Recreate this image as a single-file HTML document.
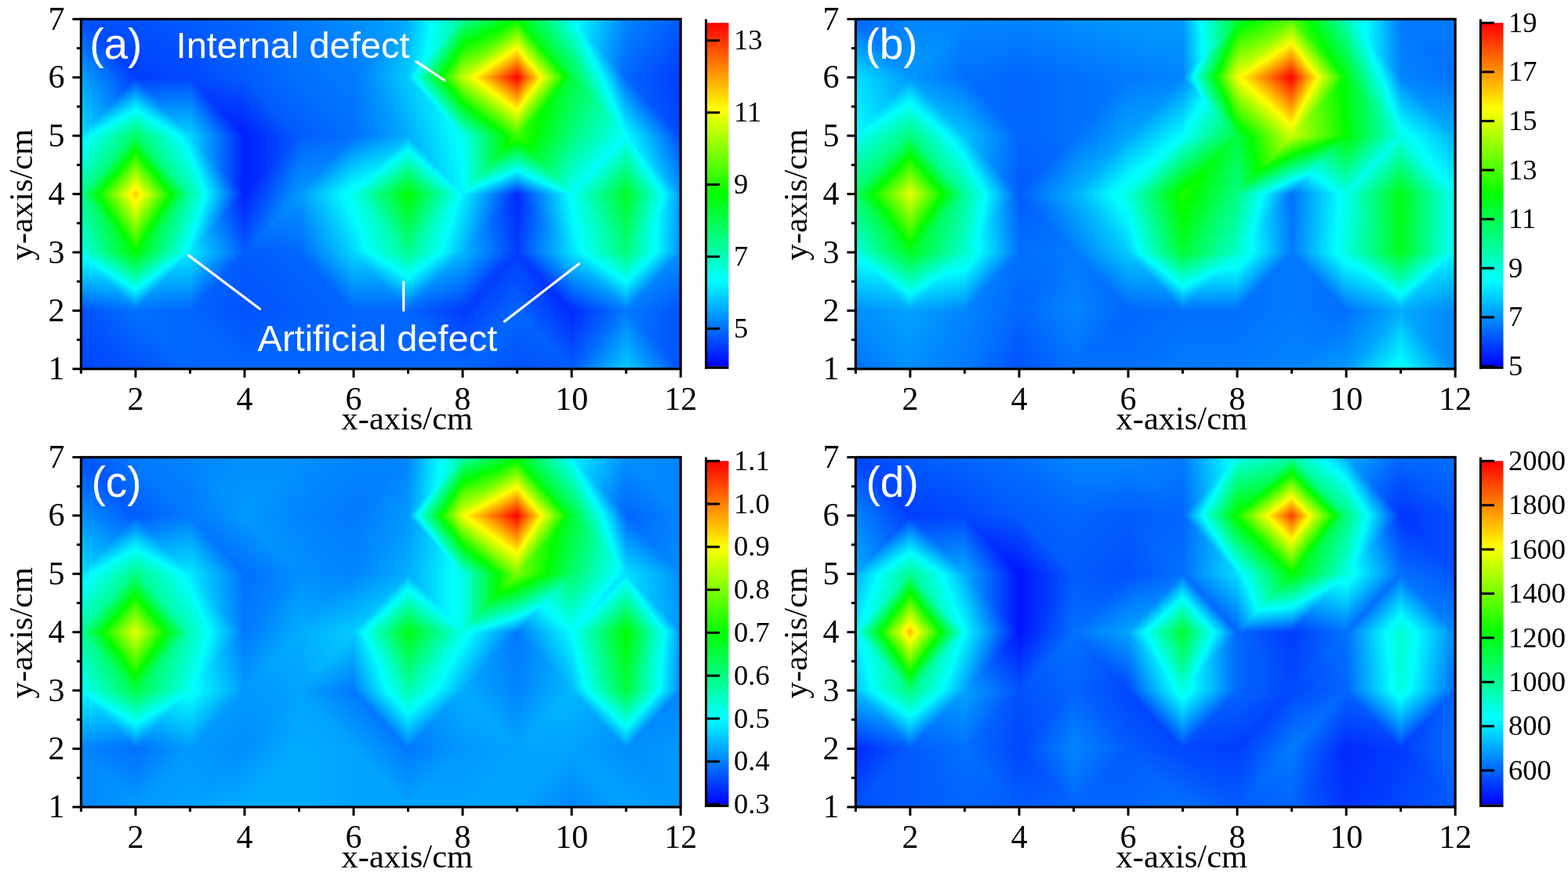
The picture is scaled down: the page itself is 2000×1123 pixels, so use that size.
<!DOCTYPE html><html><head><meta charset="utf-8"><style>html,body{margin:0;padding:0;background:#fff;}svg{display:block;}</style></head><body>
<svg width="2000" height="1123" viewBox="0 0 2000 1123">
<rect width="2000" height="1123" fill="#fff"/>
<defs><linearGradient id="g1" gradientUnits="userSpaceOnUse" x1="172.93" y1="98.80" x2="172.93" y2="24.40"><stop offset="0.0000" stop-color="#003dff"/><stop offset="1.0000" stop-color="#0052ff"/></linearGradient><linearGradient id="g2" gradientUnits="userSpaceOnUse" x1="172.93" y1="98.80" x2="128.33" y2="132.14"><stop offset="0.0000" stop-color="#003dff"/><stop offset="1.0000" stop-color="#00a3ff"/></linearGradient><linearGradient id="g3" gradientUnits="userSpaceOnUse" x1="242.45" y1="98.80" x2="273.40" y2="40.96"><stop offset="0.0000" stop-color="#0047ff"/><stop offset="1.0000" stop-color="#005cff"/></linearGradient><linearGradient id="g4" gradientUnits="userSpaceOnUse" x1="172.93" y1="98.80" x2="203.87" y2="40.96"><stop offset="0.0000" stop-color="#003dff"/><stop offset="1.0000" stop-color="#0052ff"/></linearGradient><linearGradient id="g5" gradientUnits="userSpaceOnUse" x1="242.45" y1="24.40" x2="279.57" y2="-10.28"><stop offset="0.0000" stop-color="#005cff"/><stop offset="1.0000" stop-color="#0066ff"/></linearGradient><linearGradient id="g6" gradientUnits="userSpaceOnUse" x1="242.45" y1="98.80" x2="279.57" y2="64.12"><stop offset="0.0000" stop-color="#0047ff"/><stop offset="1.0000" stop-color="#005cff"/></linearGradient><linearGradient id="g7" gradientUnits="userSpaceOnUse" x1="311.98" y1="24.40" x2="369.05" y2="-2.27"><stop offset="0.0000" stop-color="#0066ff"/><stop offset="1.0000" stop-color="#007aff"/></linearGradient><linearGradient id="g8" gradientUnits="userSpaceOnUse" x1="311.98" y1="98.80" x2="369.05" y2="72.13"><stop offset="0.0000" stop-color="#005cff"/><stop offset="1.0000" stop-color="#0070ff"/></linearGradient><linearGradient id="g9" gradientUnits="userSpaceOnUse" x1="381.51" y1="24.40" x2="418.62" y2="-10.28"><stop offset="0.0000" stop-color="#007aff"/><stop offset="1.0000" stop-color="#008fff"/></linearGradient><linearGradient id="g10" gradientUnits="userSpaceOnUse" x1="381.51" y1="98.80" x2="418.62" y2="64.12"><stop offset="0.0000" stop-color="#0070ff"/><stop offset="1.0000" stop-color="#007aff"/></linearGradient><linearGradient id="g11" gradientUnits="userSpaceOnUse" x1="451.04" y1="98.80" x2="534.51" y2="46.79"><stop offset="0.0000" stop-color="#007aff"/><stop offset="1.0000" stop-color="#00adff"/></linearGradient><linearGradient id="g12" gradientUnits="userSpaceOnUse" x1="451.04" y1="98.80" x2="512.96" y2="120.50"><stop offset="0.0000" stop-color="#007aff"/><stop offset="1.0000" stop-color="#00ccff"/></linearGradient><linearGradient id="g13" gradientUnits="userSpaceOnUse" x1="520.56" y1="24.40" x2="588.44" y2="34.97"><stop offset="0.0000" stop-color="#00adff"/><stop offset="0.4444" stop-color="#00ffff"/><stop offset="1.0000" stop-color="#00ff99"/></linearGradient><linearGradient id="g14" gradientUnits="userSpaceOnUse" x1="520.56" y1="98.80" x2="569.51" y2="130.54"><stop offset="0.0000" stop-color="#00ccff"/><stop offset="0.1020" stop-color="#00ffff"/><stop offset="0.6122" stop-color="#00ff00"/><stop offset="1.0000" stop-color="#c2ff00"/></linearGradient><linearGradient id="g15" gradientUnits="userSpaceOnUse" x1="590.09" y1="24.40" x2="618.81" y2="85.24"><stop offset="0.0000" stop-color="#00ff99"/><stop offset="0.4412" stop-color="#00ff00"/><stop offset="1.0000" stop-color="#c2ff00"/></linearGradient><linearGradient id="g16" gradientUnits="userSpaceOnUse" x1="659.62" y1="24.40" x2="693.89" y2="76.06"><stop offset="0.0000" stop-color="#00ff00"/><stop offset="0.5000" stop-color="#ffff00"/><stop offset="1.0000" stop-color="#ff0000"/></linearGradient><linearGradient id="g17" gradientUnits="userSpaceOnUse" x1="729.15" y1="24.40" x2="682.52" y2="57.08"><stop offset="0.0000" stop-color="#00fff5"/><stop offset="1.0000" stop-color="#00ff00"/></linearGradient><linearGradient id="g18" gradientUnits="userSpaceOnUse" x1="729.15" y1="98.80" x2="688.16" y2="133.00"><stop offset="0.0000" stop-color="#00ff3d"/><stop offset="0.1071" stop-color="#00ff00"/><stop offset="0.5536" stop-color="#ffff00"/><stop offset="1.0000" stop-color="#ff0000"/></linearGradient><linearGradient id="g19" gradientUnits="userSpaceOnUse" x1="798.67" y1="98.80" x2="716.90" y2="81.17"><stop offset="0.0000" stop-color="#0066ff"/><stop offset="0.9375" stop-color="#00ffff"/><stop offset="1.0000" stop-color="#00fff5"/></linearGradient><linearGradient id="g20" gradientUnits="userSpaceOnUse" x1="798.67" y1="98.80" x2="742.82" y2="126.43"><stop offset="0.0000" stop-color="#0066ff"/><stop offset="0.4412" stop-color="#00ffff"/><stop offset="1.0000" stop-color="#00ff3d"/></linearGradient><linearGradient id="g21" gradientUnits="userSpaceOnUse" x1="868.20" y1="24.40" x2="821.58" y2="-8.28"><stop offset="0.0000" stop-color="#005cff"/><stop offset="1.0000" stop-color="#0085ff"/></linearGradient><linearGradient id="g22" gradientUnits="userSpaceOnUse" x1="868.20" y1="98.80" x2="821.58" y2="66.12"><stop offset="0.0000" stop-color="#003dff"/><stop offset="1.0000" stop-color="#0066ff"/></linearGradient><linearGradient id="g23" gradientUnits="userSpaceOnUse" x1="172.93" y1="98.80" x2="88.29" y2="146.26"><stop offset="0.0000" stop-color="#003dff"/><stop offset="1.0000" stop-color="#00e0ff"/></linearGradient><linearGradient id="g24" gradientUnits="userSpaceOnUse" x1="172.93" y1="98.80" x2="204.84" y2="155.12"><stop offset="0.0000" stop-color="#003dff"/><stop offset="0.5588" stop-color="#00ffff"/><stop offset="1.0000" stop-color="#00ff66"/></linearGradient><linearGradient id="g25" gradientUnits="userSpaceOnUse" x1="172.93" y1="98.80" x2="178.98" y2="178.05"><stop offset="0.0000" stop-color="#003dff"/><stop offset="1.0000" stop-color="#00d6ff"/></linearGradient><linearGradient id="g26" gradientUnits="userSpaceOnUse" x1="172.93" y1="98.80" x2="140.16" y2="153.60"><stop offset="0.0000" stop-color="#003dff"/><stop offset="0.5588" stop-color="#00ffff"/><stop offset="1.0000" stop-color="#00ff66"/></linearGradient><linearGradient id="g27" gradientUnits="userSpaceOnUse" x1="311.98" y1="173.20" x2="335.52" y2="107.20"><stop offset="0.0000" stop-color="#001fff"/><stop offset="1.0000" stop-color="#005cff"/></linearGradient><linearGradient id="g28" gradientUnits="userSpaceOnUse" x1="311.98" y1="173.20" x2="266.49" y2="206.27"><stop offset="0.0000" stop-color="#001fff"/><stop offset="1.0000" stop-color="#00d6ff"/></linearGradient><linearGradient id="g29" gradientUnits="userSpaceOnUse" x1="311.98" y1="98.80" x2="349.10" y2="64.12"><stop offset="0.0000" stop-color="#005cff"/><stop offset="1.0000" stop-color="#0070ff"/></linearGradient><linearGradient id="g30" gradientUnits="userSpaceOnUse" x1="311.98" y1="173.20" x2="349.10" y2="138.52"><stop offset="0.0000" stop-color="#001fff"/><stop offset="1.0000" stop-color="#005cff"/></linearGradient><linearGradient id="g31" gradientUnits="userSpaceOnUse" x1="381.51" y1="98.80" x2="418.62" y2="64.12"><stop offset="0.0000" stop-color="#0070ff"/><stop offset="1.0000" stop-color="#007aff"/></linearGradient><linearGradient id="g32" gradientUnits="userSpaceOnUse" x1="381.51" y1="173.20" x2="418.62" y2="138.52"><stop offset="0.0000" stop-color="#005cff"/><stop offset="1.0000" stop-color="#0070ff"/></linearGradient><linearGradient id="g33" gradientUnits="userSpaceOnUse" x1="451.04" y1="98.80" x2="512.96" y2="77.10"><stop offset="0.0000" stop-color="#007aff"/><stop offset="1.0000" stop-color="#00ccff"/></linearGradient><linearGradient id="g34" gradientUnits="userSpaceOnUse" x1="451.04" y1="173.20" x2="518.92" y2="162.63"><stop offset="0.0000" stop-color="#0070ff"/><stop offset="1.0000" stop-color="#00adff"/></linearGradient><linearGradient id="g35" gradientUnits="userSpaceOnUse" x1="520.56" y1="98.80" x2="562.13" y2="64.71"><stop offset="0.0000" stop-color="#00ccff"/><stop offset="0.1020" stop-color="#00ffff"/><stop offset="0.6122" stop-color="#00ff00"/><stop offset="1.0000" stop-color="#c2ff00"/></linearGradient><linearGradient id="g36" gradientUnits="userSpaceOnUse" x1="520.56" y1="173.20" x2="583.94" y2="153.46"><stop offset="0.0000" stop-color="#00adff"/><stop offset="0.8889" stop-color="#00ffff"/><stop offset="1.0000" stop-color="#00fff5"/></linearGradient><linearGradient id="g37" gradientUnits="userSpaceOnUse" x1="659.62" y1="173.20" x2="695.38" y2="125.76"><stop offset="0.0000" stop-color="#3dff00"/><stop offset="0.4318" stop-color="#ffff00"/><stop offset="1.0000" stop-color="#ff0000"/></linearGradient><linearGradient id="g38" gradientUnits="userSpaceOnUse" x1="590.09" y1="173.20" x2="625.76" y2="125.43"><stop offset="0.0000" stop-color="#00fff5"/><stop offset="0.5581" stop-color="#00ff00"/><stop offset="1.0000" stop-color="#c2ff00"/></linearGradient><linearGradient id="g39" gradientUnits="userSpaceOnUse" x1="729.15" y1="98.80" x2="683.97" y2="65.63"><stop offset="0.0000" stop-color="#00ff3d"/><stop offset="0.1071" stop-color="#00ff00"/><stop offset="0.5536" stop-color="#ffff00"/><stop offset="1.0000" stop-color="#ff0000"/></linearGradient><linearGradient id="g40" gradientUnits="userSpaceOnUse" x1="729.15" y1="173.20" x2="665.77" y2="153.46"><stop offset="0.0000" stop-color="#00ff7a"/><stop offset="0.6667" stop-color="#00ff00"/><stop offset="1.0000" stop-color="#3dff00"/></linearGradient><linearGradient id="g41" gradientUnits="userSpaceOnUse" x1="798.67" y1="98.80" x2="739.25" y2="123.30"><stop offset="0.0000" stop-color="#0066ff"/><stop offset="0.4412" stop-color="#00ffff"/><stop offset="1.0000" stop-color="#00ff3d"/></linearGradient><linearGradient id="g42" gradientUnits="userSpaceOnUse" x1="798.67" y1="173.20" x2="712.99" y2="136.25"><stop offset="0.0000" stop-color="#00ffff"/><stop offset="1.0000" stop-color="#00ff3d"/></linearGradient><linearGradient id="g43" gradientUnits="userSpaceOnUse" x1="868.20" y1="98.80" x2="802.27" y2="114.20"><stop offset="0.0000" stop-color="#003dff"/><stop offset="1.0000" stop-color="#0066ff"/></linearGradient><linearGradient id="g44" gradientUnits="userSpaceOnUse" x1="868.20" y1="173.20" x2="824.92" y2="206.90"><stop offset="0.0000" stop-color="#0047ff"/><stop offset="1.0000" stop-color="#00ffff"/></linearGradient><linearGradient id="g45" gradientUnits="userSpaceOnUse" x1="103.40" y1="173.20" x2="148.89" y2="206.27"><stop offset="0.0000" stop-color="#00e0ff"/><stop offset="0.1667" stop-color="#00ffff"/><stop offset="1.0000" stop-color="#00ff66"/></linearGradient><linearGradient id="g46" gradientUnits="userSpaceOnUse" x1="103.40" y1="247.60" x2="143.78" y2="281.91"><stop offset="0.0000" stop-color="#00ff8f"/><stop offset="0.3182" stop-color="#00ff00"/><stop offset="0.8864" stop-color="#ffff00"/><stop offset="1.0000" stop-color="#ffcc00"/></linearGradient><linearGradient id="g47" gradientUnits="userSpaceOnUse" x1="242.45" y1="173.20" x2="193.10" y2="204.76"><stop offset="0.0000" stop-color="#00d6ff"/><stop offset="0.2105" stop-color="#00ffff"/><stop offset="1.0000" stop-color="#00ff66"/></linearGradient><linearGradient id="g48" gradientUnits="userSpaceOnUse" x1="242.45" y1="247.60" x2="200.58" y2="281.63"><stop offset="0.0000" stop-color="#00ffa3"/><stop offset="0.3478" stop-color="#00ff00"/><stop offset="0.8913" stop-color="#ffff00"/><stop offset="1.0000" stop-color="#ffcc00"/></linearGradient><linearGradient id="g49" gradientUnits="userSpaceOnUse" x1="311.98" y1="173.20" x2="242.45" y2="173.20"><stop offset="0.0000" stop-color="#001fff"/><stop offset="1.0000" stop-color="#00d6ff"/></linearGradient><linearGradient id="g50" gradientUnits="userSpaceOnUse" x1="311.98" y1="247.60" x2="251.71" y2="271.22"><stop offset="0.0000" stop-color="#001fff"/><stop offset="0.7097" stop-color="#00ffff"/><stop offset="1.0000" stop-color="#00ffa3"/></linearGradient><linearGradient id="g51" gradientUnits="userSpaceOnUse" x1="311.98" y1="173.20" x2="381.51" y2="173.20"><stop offset="0.0000" stop-color="#001fff"/><stop offset="1.0000" stop-color="#005cff"/></linearGradient><linearGradient id="g52" gradientUnits="userSpaceOnUse" x1="311.98" y1="247.60" x2="369.05" y2="274.27"><stop offset="0.0000" stop-color="#001fff"/><stop offset="1.0000" stop-color="#0099ff"/></linearGradient><linearGradient id="g53" gradientUnits="userSpaceOnUse" x1="381.51" y1="173.20" x2="405.05" y2="239.20"><stop offset="0.0000" stop-color="#005cff"/><stop offset="1.0000" stop-color="#0099ff"/></linearGradient><linearGradient id="g54" gradientUnits="userSpaceOnUse" x1="451.04" y1="173.20" x2="487.35" y2="218.45"><stop offset="0.0000" stop-color="#0070ff"/><stop offset="0.8750" stop-color="#00ffff"/><stop offset="1.0000" stop-color="#00ffeb"/></linearGradient><linearGradient id="g55" gradientUnits="userSpaceOnUse" x1="451.04" y1="173.20" x2="476.75" y2="237.28"><stop offset="0.0000" stop-color="#0070ff"/><stop offset="0.8750" stop-color="#00ffff"/><stop offset="1.0000" stop-color="#00ffeb"/></linearGradient><linearGradient id="g56" gradientUnits="userSpaceOnUse" x1="520.56" y1="173.20" x2="556.22" y2="221.01"><stop offset="0.0000" stop-color="#00adff"/><stop offset="0.2424" stop-color="#00ffff"/><stop offset="1.0000" stop-color="#00ff00"/></linearGradient><linearGradient id="g57" gradientUnits="userSpaceOnUse" x1="520.56" y1="173.20" x2="587.22" y2="159.36"><stop offset="0.0000" stop-color="#00adff"/><stop offset="0.8889" stop-color="#00ffff"/><stop offset="1.0000" stop-color="#00fff5"/></linearGradient><linearGradient id="g58" gradientUnits="userSpaceOnUse" x1="520.56" y1="173.20" x2="483.90" y2="216.69"><stop offset="0.0000" stop-color="#00adff"/><stop offset="0.2424" stop-color="#00ffff"/><stop offset="1.0000" stop-color="#00ff00"/></linearGradient><linearGradient id="g59" gradientUnits="userSpaceOnUse" x1="590.09" y1="247.60" x2="663.97" y2="243.00"><stop offset="0.0000" stop-color="#00f5ff"/><stop offset="0.0313" stop-color="#00ffff"/><stop offset="0.8125" stop-color="#00ff00"/><stop offset="1.0000" stop-color="#3dff00"/></linearGradient><linearGradient id="g60" gradientUnits="userSpaceOnUse" x1="659.62" y1="247.60" x2="633.43" y2="183.98"><stop offset="0.0000" stop-color="#0029ff"/><stop offset="0.4038" stop-color="#00ffff"/><stop offset="0.8846" stop-color="#00ff00"/><stop offset="1.0000" stop-color="#3dff00"/></linearGradient><linearGradient id="g61" gradientUnits="userSpaceOnUse" x1="729.15" y1="247.60" x2="645.67" y2="195.59"><stop offset="0.0000" stop-color="#00fff5"/><stop offset="0.8000" stop-color="#00ff00"/><stop offset="1.0000" stop-color="#3dff00"/></linearGradient><linearGradient id="g62" gradientUnits="userSpaceOnUse" x1="659.62" y1="247.60" x2="687.57" y2="185.86"><stop offset="0.0000" stop-color="#0029ff"/><stop offset="0.4038" stop-color="#00ffff"/><stop offset="0.8846" stop-color="#00ff00"/><stop offset="1.0000" stop-color="#3dff00"/></linearGradient><linearGradient id="g63" gradientUnits="userSpaceOnUse" x1="798.67" y1="173.20" x2="758.81" y2="138.81"><stop offset="0.0000" stop-color="#00ffff"/><stop offset="1.0000" stop-color="#00ff7a"/></linearGradient><linearGradient id="g64" gradientUnits="userSpaceOnUse" x1="798.67" y1="173.20" x2="835.87" y2="209.70"><stop offset="0.0000" stop-color="#00ffff"/><stop offset="1.0000" stop-color="#00ff29"/></linearGradient><linearGradient id="g65" gradientUnits="userSpaceOnUse" x1="868.20" y1="173.20" x2="808.90" y2="197.83"><stop offset="0.0000" stop-color="#0047ff"/><stop offset="1.0000" stop-color="#00ffff"/></linearGradient><linearGradient id="g66" gradientUnits="userSpaceOnUse" x1="868.20" y1="247.60" x2="818.56" y2="279.02"><stop offset="0.0000" stop-color="#0099ff"/><stop offset="0.3226" stop-color="#00ffff"/><stop offset="1.0000" stop-color="#00ff29"/></linearGradient><linearGradient id="g67" gradientUnits="userSpaceOnUse" x1="103.40" y1="247.60" x2="152.85" y2="216.09"><stop offset="0.0000" stop-color="#00ff8f"/><stop offset="0.3182" stop-color="#00ff00"/><stop offset="0.8864" stop-color="#ffff00"/><stop offset="1.0000" stop-color="#ffcc00"/></linearGradient><linearGradient id="g68" gradientUnits="userSpaceOnUse" x1="103.40" y1="322.00" x2="164.73" y2="299.57"><stop offset="0.0000" stop-color="#00ffeb"/><stop offset="1.0000" stop-color="#00ff00"/></linearGradient><linearGradient id="g69" gradientUnits="userSpaceOnUse" x1="242.45" y1="247.60" x2="191.76" y2="216.70"><stop offset="0.0000" stop-color="#00ffa3"/><stop offset="0.3478" stop-color="#00ff00"/><stop offset="0.8913" stop-color="#ffff00"/><stop offset="1.0000" stop-color="#ffcc00"/></linearGradient><linearGradient id="g70" gradientUnits="userSpaceOnUse" x1="242.45" y1="322.00" x2="181.73" y2="298.88"><stop offset="0.0000" stop-color="#00ebff"/><stop offset="0.0741" stop-color="#00ffff"/><stop offset="1.0000" stop-color="#00ff00"/></linearGradient><linearGradient id="g71" gradientUnits="userSpaceOnUse" x1="311.98" y1="247.60" x2="249.34" y2="226.83"><stop offset="0.0000" stop-color="#001fff"/><stop offset="0.7097" stop-color="#00ffff"/><stop offset="1.0000" stop-color="#00ffa3"/></linearGradient><linearGradient id="g72" gradientUnits="userSpaceOnUse" x1="311.98" y1="247.60" x2="226.39" y2="281.88"><stop offset="0.0000" stop-color="#001fff"/><stop offset="1.0000" stop-color="#00ebff"/></linearGradient><linearGradient id="g73" gradientUnits="userSpaceOnUse" x1="311.98" y1="247.60" x2="369.05" y2="274.27"><stop offset="0.0000" stop-color="#001fff"/><stop offset="1.0000" stop-color="#0099ff"/></linearGradient><linearGradient id="g74" gradientUnits="userSpaceOnUse" x1="311.98" y1="322.00" x2="330.25" y2="236.63"><stop offset="0.0000" stop-color="#005cff"/><stop offset="1.0000" stop-color="#0099ff"/></linearGradient><linearGradient id="g75" gradientUnits="userSpaceOnUse" x1="381.51" y1="247.60" x2="438.58" y2="220.93"><stop offset="0.0000" stop-color="#0099ff"/><stop offset="0.8333" stop-color="#00ffff"/><stop offset="1.0000" stop-color="#00ffeb"/></linearGradient><linearGradient id="g76" gradientUnits="userSpaceOnUse" x1="381.51" y1="322.00" x2="440.41" y2="296.98"><stop offset="0.0000" stop-color="#0066ff"/><stop offset="1.0000" stop-color="#00d6ff"/></linearGradient><linearGradient id="g77" gradientUnits="userSpaceOnUse" x1="451.04" y1="247.60" x2="503.57" y2="217.72"><stop offset="0.0000" stop-color="#00ffeb"/><stop offset="1.0000" stop-color="#00ff00"/></linearGradient><linearGradient id="g78" gradientUnits="userSpaceOnUse" x1="451.04" y1="322.00" x2="512.04" y2="299.20"><stop offset="0.0000" stop-color="#00d6ff"/><stop offset="0.2667" stop-color="#00ffff"/><stop offset="1.0000" stop-color="#00ff8f"/></linearGradient><linearGradient id="g79" gradientUnits="userSpaceOnUse" x1="590.09" y1="247.60" x2="534.61" y2="219.68"><stop offset="0.0000" stop-color="#00f5ff"/><stop offset="0.0385" stop-color="#00ffff"/><stop offset="1.0000" stop-color="#00ff00"/></linearGradient><linearGradient id="g80" gradientUnits="userSpaceOnUse" x1="590.09" y1="322.00" x2="526.71" y2="302.26"><stop offset="0.0000" stop-color="#00b8ff"/><stop offset="0.3889" stop-color="#00ffff"/><stop offset="1.0000" stop-color="#00ff8f"/></linearGradient><linearGradient id="g81" gradientUnits="userSpaceOnUse" x1="659.62" y1="247.60" x2="595.16" y2="229.53"><stop offset="0.0000" stop-color="#0029ff"/><stop offset="1.0000" stop-color="#00f5ff"/></linearGradient><linearGradient id="g82" gradientUnits="userSpaceOnUse" x1="659.62" y1="247.60" x2="580.42" y2="259.93"><stop offset="0.0000" stop-color="#0029ff"/><stop offset="1.0000" stop-color="#00b8ff"/></linearGradient><linearGradient id="g83" gradientUnits="userSpaceOnUse" x1="659.62" y1="247.60" x2="727.19" y2="236.12"><stop offset="0.0000" stop-color="#0029ff"/><stop offset="0.9545" stop-color="#00ffff"/><stop offset="1.0000" stop-color="#00fff5"/></linearGradient><linearGradient id="g84" gradientUnits="userSpaceOnUse" x1="659.62" y1="247.60" x2="736.78" y2="256.61"><stop offset="0.0000" stop-color="#0029ff"/><stop offset="1.0000" stop-color="#00e0ff"/></linearGradient><linearGradient id="g85" gradientUnits="userSpaceOnUse" x1="729.15" y1="247.60" x2="790.15" y2="224.80"><stop offset="0.0000" stop-color="#00fff5"/><stop offset="1.0000" stop-color="#00ff29"/></linearGradient><linearGradient id="g86" gradientUnits="userSpaceOnUse" x1="729.15" y1="322.00" x2="795.07" y2="306.60"><stop offset="0.0000" stop-color="#00e0ff"/><stop offset="0.1875" stop-color="#00ffff"/><stop offset="1.0000" stop-color="#00ff7a"/></linearGradient><linearGradient id="g87" gradientUnits="userSpaceOnUse" x1="868.20" y1="247.60" x2="802.49" y2="231.75"><stop offset="0.0000" stop-color="#0099ff"/><stop offset="0.3226" stop-color="#00ffff"/><stop offset="1.0000" stop-color="#00ff29"/></linearGradient><linearGradient id="g88" gradientUnits="userSpaceOnUse" x1="868.20" y1="322.00" x2="798.78" y2="319.30"><stop offset="0.0000" stop-color="#008fff"/><stop offset="0.4583" stop-color="#00ffff"/><stop offset="1.0000" stop-color="#00ff7a"/></linearGradient><linearGradient id="g89" gradientUnits="userSpaceOnUse" x1="172.93" y1="396.40" x2="206.51" y2="343.19"><stop offset="0.0000" stop-color="#0070ff"/><stop offset="0.3590" stop-color="#00ffff"/><stop offset="1.0000" stop-color="#00ff00"/></linearGradient><linearGradient id="g90" gradientUnits="userSpaceOnUse" x1="103.40" y1="396.40" x2="115.62" y2="324.06"><stop offset="0.0000" stop-color="#0052ff"/><stop offset="0.8947" stop-color="#00ffff"/><stop offset="1.0000" stop-color="#00ffeb"/></linearGradient><linearGradient id="g91" gradientUnits="userSpaceOnUse" x1="172.93" y1="396.40" x2="137.34" y2="348.36"><stop offset="0.0000" stop-color="#0070ff"/><stop offset="0.3590" stop-color="#00ffff"/><stop offset="1.0000" stop-color="#00ff00"/></linearGradient><linearGradient id="g92" gradientUnits="userSpaceOnUse" x1="242.45" y1="396.40" x2="236.37" y2="322.50"><stop offset="0.0000" stop-color="#0066ff"/><stop offset="1.0000" stop-color="#00ebff"/></linearGradient><linearGradient id="g93" gradientUnits="userSpaceOnUse" x1="311.98" y1="322.00" x2="272.32" y2="287.58"><stop offset="0.0000" stop-color="#005cff"/><stop offset="1.0000" stop-color="#00ebff"/></linearGradient><linearGradient id="g94" gradientUnits="userSpaceOnUse" x1="311.98" y1="396.40" x2="254.91" y2="369.73"><stop offset="0.0000" stop-color="#0052ff"/><stop offset="1.0000" stop-color="#0066ff"/></linearGradient><linearGradient id="g95" gradientUnits="userSpaceOnUse" x1="311.98" y1="322.00" x2="349.10" y2="287.32"><stop offset="0.0000" stop-color="#005cff"/><stop offset="1.0000" stop-color="#0066ff"/></linearGradient><linearGradient id="g96" gradientUnits="userSpaceOnUse" x1="311.98" y1="396.40" x2="349.10" y2="361.72"><stop offset="0.0000" stop-color="#0052ff"/><stop offset="1.0000" stop-color="#005cff"/></linearGradient><linearGradient id="g97" gradientUnits="userSpaceOnUse" x1="381.51" y1="322.00" x2="418.62" y2="287.32"><stop offset="0.0000" stop-color="#0066ff"/><stop offset="1.0000" stop-color="#00d6ff"/></linearGradient><linearGradient id="g98" gradientUnits="userSpaceOnUse" x1="381.51" y1="396.40" x2="418.62" y2="361.72"><stop offset="0.0000" stop-color="#005cff"/><stop offset="1.0000" stop-color="#0066ff"/></linearGradient><linearGradient id="g99" gradientUnits="userSpaceOnUse" x1="520.56" y1="396.40" x2="553.82" y2="342.53"><stop offset="0.0000" stop-color="#0066ff"/><stop offset="0.5769" stop-color="#00ffff"/><stop offset="1.0000" stop-color="#00ff8f"/></linearGradient><linearGradient id="g100" gradientUnits="userSpaceOnUse" x1="520.56" y1="396.40" x2="520.56" y2="322.00"><stop offset="0.0000" stop-color="#0066ff"/><stop offset="1.0000" stop-color="#00d6ff"/></linearGradient><linearGradient id="g101" gradientUnits="userSpaceOnUse" x1="520.56" y1="396.40" x2="484.98" y2="348.36"><stop offset="0.0000" stop-color="#0066ff"/><stop offset="0.5769" stop-color="#00ffff"/><stop offset="1.0000" stop-color="#00ff8f"/></linearGradient><linearGradient id="g102" gradientUnits="userSpaceOnUse" x1="590.09" y1="396.40" x2="566.55" y2="330.40"><stop offset="0.0000" stop-color="#003dff"/><stop offset="1.0000" stop-color="#00b8ff"/></linearGradient><linearGradient id="g103" gradientUnits="userSpaceOnUse" x1="659.62" y1="322.00" x2="622.50" y2="287.32"><stop offset="0.0000" stop-color="#003dff"/><stop offset="1.0000" stop-color="#00b8ff"/></linearGradient><linearGradient id="g104" gradientUnits="userSpaceOnUse" x1="659.62" y1="322.00" x2="696.73" y2="356.68"><stop offset="0.0000" stop-color="#003dff"/><stop offset="1.0000" stop-color="#0066ff"/></linearGradient><linearGradient id="g105" gradientUnits="userSpaceOnUse" x1="729.15" y1="396.40" x2="766.30" y2="357.34"><stop offset="0.0000" stop-color="#0029ff"/><stop offset="1.0000" stop-color="#00e0ff"/></linearGradient><linearGradient id="g106" gradientUnits="userSpaceOnUse" x1="729.15" y1="396.40" x2="679.06" y2="427.60"><stop offset="0.0000" stop-color="#0029ff"/><stop offset="1.0000" stop-color="#0066ff"/></linearGradient><linearGradient id="g107" gradientUnits="userSpaceOnUse" x1="798.67" y1="396.40" x2="832.85" y2="344.50"><stop offset="0.0000" stop-color="#007aff"/><stop offset="0.5000" stop-color="#00ffff"/><stop offset="1.0000" stop-color="#00ff7a"/></linearGradient><linearGradient id="g108" gradientUnits="userSpaceOnUse" x1="729.15" y1="396.40" x2="758.00" y2="335.72"><stop offset="0.0000" stop-color="#0029ff"/><stop offset="1.0000" stop-color="#00e0ff"/></linearGradient><linearGradient id="g109" gradientUnits="userSpaceOnUse" x1="798.67" y1="396.40" x2="761.48" y2="358.74"><stop offset="0.0000" stop-color="#007aff"/><stop offset="0.5000" stop-color="#00ffff"/><stop offset="1.0000" stop-color="#00ff7a"/></linearGradient><linearGradient id="g110" gradientUnits="userSpaceOnUse" x1="868.20" y1="396.40" x2="833.03" y2="347.09"><stop offset="0.0000" stop-color="#0052ff"/><stop offset="1.0000" stop-color="#008fff"/></linearGradient><linearGradient id="g111" gradientUnits="userSpaceOnUse" x1="103.40" y1="396.40" x2="140.51" y2="361.72"><stop offset="0.0000" stop-color="#0052ff"/><stop offset="1.0000" stop-color="#0070ff"/></linearGradient><linearGradient id="g112" gradientUnits="userSpaceOnUse" x1="103.40" y1="470.80" x2="140.51" y2="436.12"><stop offset="0.0000" stop-color="#0047ff"/><stop offset="1.0000" stop-color="#0052ff"/></linearGradient><linearGradient id="g113" gradientUnits="userSpaceOnUse" x1="242.45" y1="396.40" x2="172.93" y2="396.40"><stop offset="0.0000" stop-color="#0066ff"/><stop offset="1.0000" stop-color="#0070ff"/></linearGradient><linearGradient id="g114" gradientUnits="userSpaceOnUse" x1="172.93" y1="470.80" x2="208.10" y2="421.49"><stop offset="0.0000" stop-color="#0052ff"/><stop offset="1.0000" stop-color="#0070ff"/></linearGradient><linearGradient id="g115" gradientUnits="userSpaceOnUse" x1="311.98" y1="396.40" x2="274.87" y2="431.08"><stop offset="0.0000" stop-color="#0052ff"/><stop offset="1.0000" stop-color="#0066ff"/></linearGradient><linearGradient id="g116" gradientUnits="userSpaceOnUse" x1="311.98" y1="396.40" x2="342.93" y2="454.24"><stop offset="0.0000" stop-color="#0052ff"/><stop offset="1.0000" stop-color="#0066ff"/></linearGradient><linearGradient id="g117" gradientUnits="userSpaceOnUse" x1="381.51" y1="396.40" x2="381.51" y2="470.80"><stop offset="0.0000" stop-color="#005cff"/><stop offset="1.0000" stop-color="#0066ff"/></linearGradient><linearGradient id="g118" gradientUnits="userSpaceOnUse" x1="381.51" y1="396.40" x2="418.62" y2="431.08"><stop offset="0.0000" stop-color="#005cff"/><stop offset="1.0000" stop-color="#0066ff"/></linearGradient><linearGradient id="g119" gradientUnits="userSpaceOnUse" x1="590.09" y1="396.40" x2="552.98" y2="431.08"><stop offset="0.0000" stop-color="#003dff"/><stop offset="1.0000" stop-color="#0066ff"/></linearGradient><linearGradient id="g120" gradientUnits="userSpaceOnUse" x1="590.09" y1="396.40" x2="627.21" y2="431.08"><stop offset="0.0000" stop-color="#003dff"/><stop offset="1.0000" stop-color="#0066ff"/></linearGradient><linearGradient id="g121" gradientUnits="userSpaceOnUse" x1="659.62" y1="470.80" x2="622.50" y2="436.12"><stop offset="0.0000" stop-color="#0052ff"/><stop offset="1.0000" stop-color="#0066ff"/></linearGradient><linearGradient id="g122" gradientUnits="userSpaceOnUse" x1="729.15" y1="396.40" x2="685.87" y2="430.10"><stop offset="0.0000" stop-color="#0029ff"/><stop offset="1.0000" stop-color="#0066ff"/></linearGradient><linearGradient id="g123" gradientUnits="userSpaceOnUse" x1="659.62" y1="470.80" x2="690.57" y2="412.96"><stop offset="0.0000" stop-color="#0052ff"/><stop offset="1.0000" stop-color="#0066ff"/></linearGradient><linearGradient id="g124" gradientUnits="userSpaceOnUse" x1="729.15" y1="396.40" x2="780.99" y2="426.68"><stop offset="0.0000" stop-color="#0029ff"/><stop offset="1.0000" stop-color="#007aff"/></linearGradient><linearGradient id="g125" gradientUnits="userSpaceOnUse" x1="729.15" y1="470.80" x2="776.70" y2="503.12"><stop offset="0.0000" stop-color="#005cff"/><stop offset="1.0000" stop-color="#00ccff"/></linearGradient><linearGradient id="g126" gradientUnits="userSpaceOnUse" x1="868.20" y1="396.40" x2="798.67" y2="396.40"><stop offset="0.0000" stop-color="#0052ff"/><stop offset="1.0000" stop-color="#007aff"/></linearGradient><linearGradient id="g127" gradientUnits="userSpaceOnUse" x1="868.20" y1="470.80" x2="818.11" y2="502.00"><stop offset="0.0000" stop-color="#0052ff"/><stop offset="1.0000" stop-color="#00ccff"/></linearGradient><linearGradient id="g128" gradientUnits="userSpaceOnUse" x1="1091.40" y1="24.40" x2="1174.88" y2="76.41"><stop offset="0.0000" stop-color="#0066ff"/><stop offset="1.0000" stop-color="#0099ff"/></linearGradient><linearGradient id="g129" gradientUnits="userSpaceOnUse" x1="1091.40" y1="24.40" x2="1057.98" y2="77.94"><stop offset="0.0000" stop-color="#0066ff"/><stop offset="1.0000" stop-color="#00e0ff"/></linearGradient><linearGradient id="g130" gradientUnits="userSpaceOnUse" x1="1160.93" y1="24.40" x2="1160.93" y2="98.80"><stop offset="0.0000" stop-color="#0085ff"/><stop offset="1.0000" stop-color="#0099ff"/></linearGradient><linearGradient id="g131" gradientUnits="userSpaceOnUse" x1="1230.45" y1="98.80" x2="1173.39" y2="72.13"><stop offset="0.0000" stop-color="#0070ff"/><stop offset="1.0000" stop-color="#0099ff"/></linearGradient><linearGradient id="g132" gradientUnits="userSpaceOnUse" x1="1230.45" y1="98.80" x2="1230.45" y2="24.40"><stop offset="0.0000" stop-color="#0070ff"/><stop offset="1.0000" stop-color="#0085ff"/></linearGradient><linearGradient id="g133" gradientUnits="userSpaceOnUse" x1="1299.98" y1="98.80" x2="1276.44" y2="32.80"><stop offset="0.0000" stop-color="#0066ff"/><stop offset="1.0000" stop-color="#0085ff"/></linearGradient><linearGradient id="g134" gradientUnits="userSpaceOnUse" x1="1369.51" y1="98.80" x2="1393.05" y2="32.80"><stop offset="0.0000" stop-color="#0070ff"/><stop offset="1.0000" stop-color="#008fff"/></linearGradient><linearGradient id="g135" gradientUnits="userSpaceOnUse" x1="1299.98" y1="98.80" x2="1323.52" y2="32.80"><stop offset="0.0000" stop-color="#0066ff"/><stop offset="1.0000" stop-color="#0085ff"/></linearGradient><linearGradient id="g136" gradientUnits="userSpaceOnUse" x1="1439.04" y1="98.80" x2="1462.58" y2="32.80"><stop offset="0.0000" stop-color="#007aff"/><stop offset="1.0000" stop-color="#0099ff"/></linearGradient><linearGradient id="g137" gradientUnits="userSpaceOnUse" x1="1369.51" y1="98.80" x2="1393.05" y2="32.80"><stop offset="0.0000" stop-color="#0070ff"/><stop offset="1.0000" stop-color="#008fff"/></linearGradient><linearGradient id="g138" gradientUnits="userSpaceOnUse" x1="1508.56" y1="98.80" x2="1508.56" y2="24.40"><stop offset="0.0000" stop-color="#0085ff"/><stop offset="1.0000" stop-color="#0099ff"/></linearGradient><linearGradient id="g139" gradientUnits="userSpaceOnUse" x1="1439.04" y1="98.80" x2="1462.58" y2="32.80"><stop offset="0.0000" stop-color="#007aff"/><stop offset="1.0000" stop-color="#0099ff"/></linearGradient><linearGradient id="g140" gradientUnits="userSpaceOnUse" x1="1508.56" y1="98.80" x2="1582.44" y2="94.20"><stop offset="0.0000" stop-color="#0085ff"/><stop offset="0.3750" stop-color="#00ffff"/><stop offset="1.0000" stop-color="#00ff33"/></linearGradient><linearGradient id="g141" gradientUnits="userSpaceOnUse" x1="1508.56" y1="98.80" x2="1566.63" y2="124.60"><stop offset="0.0000" stop-color="#0085ff"/><stop offset="0.1967" stop-color="#00ffff"/><stop offset="0.6066" stop-color="#00ff00"/><stop offset="1.0000" stop-color="#f5ff00"/></linearGradient><linearGradient id="g142" gradientUnits="userSpaceOnUse" x1="1578.09" y1="24.40" x2="1607.10" y2="84.88"><stop offset="0.0000" stop-color="#00ff33"/><stop offset="0.1724" stop-color="#00ff00"/><stop offset="1.0000" stop-color="#f5ff00"/></linearGradient><linearGradient id="g143" gradientUnits="userSpaceOnUse" x1="1647.62" y1="24.40" x2="1681.87" y2="76.11"><stop offset="0.0000" stop-color="#52ff00"/><stop offset="0.4048" stop-color="#ffff00"/><stop offset="1.0000" stop-color="#ff0000"/></linearGradient><linearGradient id="g144" gradientUnits="userSpaceOnUse" x1="1717.15" y1="24.40" x2="1664.90" y2="54.45"><stop offset="0.0000" stop-color="#00ffb8"/><stop offset="0.6923" stop-color="#00ff00"/><stop offset="1.0000" stop-color="#52ff00"/></linearGradient><linearGradient id="g145" gradientUnits="userSpaceOnUse" x1="1717.15" y1="98.80" x2="1672.85" y2="132.23"><stop offset="0.0000" stop-color="#00ff14"/><stop offset="0.0385" stop-color="#00ff00"/><stop offset="0.5192" stop-color="#ffff00"/><stop offset="1.0000" stop-color="#ff0000"/></linearGradient><linearGradient id="g146" gradientUnits="userSpaceOnUse" x1="1786.67" y1="24.40" x2="1717.30" y2="27.64"><stop offset="0.0000" stop-color="#007aff"/><stop offset="0.6500" stop-color="#00ffff"/><stop offset="1.0000" stop-color="#00ffb8"/></linearGradient><linearGradient id="g147" gradientUnits="userSpaceOnUse" x1="1786.67" y1="98.80" x2="1727.88" y2="123.92"><stop offset="0.0000" stop-color="#0085ff"/><stop offset="0.3429" stop-color="#00ffff"/><stop offset="1.0000" stop-color="#00ff14"/></linearGradient><linearGradient id="g148" gradientUnits="userSpaceOnUse" x1="1856.20" y1="98.80" x2="1856.20" y2="24.40"><stop offset="0.0000" stop-color="#0070ff"/><stop offset="1.0000" stop-color="#007aff"/></linearGradient><linearGradient id="g149" gradientUnits="userSpaceOnUse" x1="1856.20" y1="98.80" x2="1799.13" y2="125.47"><stop offset="0.0000" stop-color="#0070ff"/><stop offset="1.0000" stop-color="#0085ff"/></linearGradient><linearGradient id="g150" gradientUnits="userSpaceOnUse" x1="1160.93" y1="98.80" x2="1075.33" y2="133.08"><stop offset="0.0000" stop-color="#0099ff"/><stop offset="1.0000" stop-color="#00ffff"/></linearGradient><linearGradient id="g151" gradientUnits="userSpaceOnUse" x1="1160.93" y1="98.80" x2="1193.87" y2="153.27"><stop offset="0.0000" stop-color="#0099ff"/><stop offset="0.4348" stop-color="#00ffff"/><stop offset="1.0000" stop-color="#00ff7a"/></linearGradient><linearGradient id="g152" gradientUnits="userSpaceOnUse" x1="1230.45" y1="98.80" x2="1199.51" y2="156.64"><stop offset="0.0000" stop-color="#0070ff"/><stop offset="1.0000" stop-color="#00c2ff"/></linearGradient><linearGradient id="g153" gradientUnits="userSpaceOnUse" x1="1160.93" y1="98.80" x2="1124.01" y2="140.56"><stop offset="0.0000" stop-color="#0099ff"/><stop offset="0.4348" stop-color="#00ffff"/><stop offset="1.0000" stop-color="#00ff7a"/></linearGradient><linearGradient id="g154" gradientUnits="userSpaceOnUse" x1="1299.98" y1="98.80" x2="1230.45" y2="98.80"><stop offset="0.0000" stop-color="#0066ff"/><stop offset="1.0000" stop-color="#0070ff"/></linearGradient><linearGradient id="g155" gradientUnits="userSpaceOnUse" x1="1299.98" y1="173.20" x2="1258.84" y2="207.37"><stop offset="0.0000" stop-color="#0066ff"/><stop offset="1.0000" stop-color="#00c2ff"/></linearGradient><linearGradient id="g156" gradientUnits="userSpaceOnUse" x1="1299.98" y1="98.80" x2="1369.51" y2="98.80"><stop offset="0.0000" stop-color="#0066ff"/><stop offset="1.0000" stop-color="#0070ff"/></linearGradient><linearGradient id="g157" gradientUnits="userSpaceOnUse" x1="1299.98" y1="98.80" x2="1369.51" y2="98.80"><stop offset="0.0000" stop-color="#0066ff"/><stop offset="1.0000" stop-color="#0070ff"/></linearGradient><linearGradient id="g158" gradientUnits="userSpaceOnUse" x1="1369.51" y1="98.80" x2="1439.04" y2="98.80"><stop offset="0.0000" stop-color="#0070ff"/><stop offset="1.0000" stop-color="#007aff"/></linearGradient><linearGradient id="g159" gradientUnits="userSpaceOnUse" x1="1369.51" y1="173.20" x2="1414.11" y2="206.54"><stop offset="0.0000" stop-color="#0070ff"/><stop offset="1.0000" stop-color="#00a3ff"/></linearGradient><linearGradient id="g160" gradientUnits="userSpaceOnUse" x1="1439.04" y1="98.80" x2="1457.61" y2="168.23"><stop offset="0.0000" stop-color="#007aff"/><stop offset="1.0000" stop-color="#00a3ff"/></linearGradient><linearGradient id="g161" gradientUnits="userSpaceOnUse" x1="1508.56" y1="98.80" x2="1544.88" y2="144.05"><stop offset="0.0000" stop-color="#0085ff"/><stop offset="1.0000" stop-color="#00ffff"/></linearGradient><linearGradient id="g162" gradientUnits="userSpaceOnUse" x1="1508.56" y1="98.80" x2="1565.97" y2="72.42"><stop offset="0.0000" stop-color="#0085ff"/><stop offset="0.1967" stop-color="#00ffff"/><stop offset="0.6066" stop-color="#00ff00"/><stop offset="1.0000" stop-color="#f5ff00"/></linearGradient><linearGradient id="g163" gradientUnits="userSpaceOnUse" x1="1508.56" y1="98.80" x2="1592.70" y2="148.46"><stop offset="0.0000" stop-color="#0085ff"/><stop offset="0.3871" stop-color="#00ffff"/><stop offset="1.0000" stop-color="#00ff3d"/></linearGradient><linearGradient id="g164" gradientUnits="userSpaceOnUse" x1="1647.62" y1="173.20" x2="1684.71" y2="133.20"><stop offset="0.0000" stop-color="#ccff00"/><stop offset="0.1667" stop-color="#ffff00"/><stop offset="1.0000" stop-color="#ff0000"/></linearGradient><linearGradient id="g165" gradientUnits="userSpaceOnUse" x1="1578.09" y1="173.20" x2="1615.19" y2="133.20"><stop offset="0.0000" stop-color="#00ff3d"/><stop offset="0.2000" stop-color="#00ff00"/><stop offset="1.0000" stop-color="#f5ff00"/></linearGradient><linearGradient id="g166" gradientUnits="userSpaceOnUse" x1="1717.15" y1="98.80" x2="1663.28" y2="69.76"><stop offset="0.0000" stop-color="#00ff14"/><stop offset="0.0385" stop-color="#00ff00"/><stop offset="0.5192" stop-color="#ffff00"/><stop offset="1.0000" stop-color="#ff0000"/></linearGradient><linearGradient id="g167" gradientUnits="userSpaceOnUse" x1="1717.15" y1="98.80" x2="1641.33" y2="105.89"><stop offset="0.0000" stop-color="#00ff14"/><stop offset="0.0909" stop-color="#00ff00"/><stop offset="1.0000" stop-color="#ccff00"/></linearGradient><linearGradient id="g168" gradientUnits="userSpaceOnUse" x1="1786.67" y1="98.80" x2="1725.67" y2="121.60"><stop offset="0.0000" stop-color="#0085ff"/><stop offset="0.3429" stop-color="#00ffff"/><stop offset="1.0000" stop-color="#00ff14"/></linearGradient><linearGradient id="g169" gradientUnits="userSpaceOnUse" x1="1786.67" y1="173.20" x2="1717.60" y2="178.81"><stop offset="0.0000" stop-color="#00ffeb"/><stop offset="1.0000" stop-color="#00ff00"/></linearGradient><linearGradient id="g170" gradientUnits="userSpaceOnUse" x1="1856.20" y1="98.80" x2="1832.66" y2="164.80"><stop offset="0.0000" stop-color="#0070ff"/><stop offset="1.0000" stop-color="#00adff"/></linearGradient><linearGradient id="g171" gradientUnits="userSpaceOnUse" x1="1786.67" y1="98.80" x2="1750.78" y2="145.76"><stop offset="0.0000" stop-color="#0085ff"/><stop offset="0.8571" stop-color="#00ffff"/><stop offset="1.0000" stop-color="#00ffeb"/></linearGradient><linearGradient id="g172" gradientUnits="userSpaceOnUse" x1="1091.40" y1="173.20" x2="1128.49" y2="213.20"><stop offset="0.0000" stop-color="#00ffff"/><stop offset="1.0000" stop-color="#00ff66"/></linearGradient><linearGradient id="g173" gradientUnits="userSpaceOnUse" x1="1160.93" y1="173.20" x2="1198.13" y2="210.07"><stop offset="0.0000" stop-color="#00ff7a"/><stop offset="0.3429" stop-color="#00ff00"/><stop offset="1.0000" stop-color="#ebff00"/></linearGradient><linearGradient id="g174" gradientUnits="userSpaceOnUse" x1="1230.45" y1="173.20" x2="1187.52" y2="206.99"><stop offset="0.0000" stop-color="#00c2ff"/><stop offset="0.3158" stop-color="#00ffff"/><stop offset="1.0000" stop-color="#00ff7a"/></linearGradient><linearGradient id="g175" gradientUnits="userSpaceOnUse" x1="1230.45" y1="247.60" x2="1190.52" y2="281.98"><stop offset="0.0000" stop-color="#00ff99"/><stop offset="0.3947" stop-color="#00ff00"/><stop offset="1.0000" stop-color="#ebff00"/></linearGradient><linearGradient id="g176" gradientUnits="userSpaceOnUse" x1="1299.98" y1="247.60" x2="1223.55" y2="239.66"><stop offset="0.0000" stop-color="#005cff"/><stop offset="1.0000" stop-color="#00c2ff"/></linearGradient><linearGradient id="g177" gradientUnits="userSpaceOnUse" x1="1299.98" y1="247.60" x2="1247.73" y2="277.65"><stop offset="0.0000" stop-color="#005cff"/><stop offset="0.6154" stop-color="#00ffff"/><stop offset="1.0000" stop-color="#00ff99"/></linearGradient><linearGradient id="g178" gradientUnits="userSpaceOnUse" x1="1299.98" y1="247.60" x2="1374.21" y2="178.23"><stop offset="0.0000" stop-color="#005cff"/><stop offset="1.0000" stop-color="#0070ff"/></linearGradient><linearGradient id="g179" gradientUnits="userSpaceOnUse" x1="1299.98" y1="247.60" x2="1346.61" y2="280.28"><stop offset="0.0000" stop-color="#005cff"/><stop offset="1.0000" stop-color="#00adff"/></linearGradient><linearGradient id="g180" gradientUnits="userSpaceOnUse" x1="1369.51" y1="173.20" x2="1406.47" y2="214.64"><stop offset="0.0000" stop-color="#0070ff"/><stop offset="1.0000" stop-color="#00adff"/></linearGradient><linearGradient id="g181" gradientUnits="userSpaceOnUse" x1="1439.04" y1="173.20" x2="1476.23" y2="211.12"><stop offset="0.0000" stop-color="#00a3ff"/><stop offset="0.7500" stop-color="#00ffff"/><stop offset="1.0000" stop-color="#00ffe0"/></linearGradient><linearGradient id="g182" gradientUnits="userSpaceOnUse" x1="1439.04" y1="173.20" x2="1475.35" y2="218.45"><stop offset="0.0000" stop-color="#00a3ff"/><stop offset="0.7500" stop-color="#00ffff"/><stop offset="1.0000" stop-color="#00ffe0"/></linearGradient><linearGradient id="g183" gradientUnits="userSpaceOnUse" x1="1508.56" y1="173.20" x2="1545.73" y2="212.09"><stop offset="0.0000" stop-color="#00ffff"/><stop offset="0.8929" stop-color="#00ff00"/><stop offset="1.0000" stop-color="#1fff00"/></linearGradient><linearGradient id="g184" gradientUnits="userSpaceOnUse" x1="1508.56" y1="173.20" x2="1543.94" y2="221.91"><stop offset="0.0000" stop-color="#00ffff"/><stop offset="0.8929" stop-color="#00ff00"/><stop offset="1.0000" stop-color="#1fff00"/></linearGradient><linearGradient id="g185" gradientUnits="userSpaceOnUse" x1="1578.09" y1="247.60" x2="1518.52" y2="223.25"><stop offset="0.0000" stop-color="#00ff85"/><stop offset="0.8125" stop-color="#00ff00"/><stop offset="1.0000" stop-color="#1fff00"/></linearGradient><linearGradient id="g186" gradientUnits="userSpaceOnUse" x1="1578.09" y1="247.60" x2="1661.08" y2="226.72"><stop offset="0.0000" stop-color="#00ff85"/><stop offset="0.3939" stop-color="#00ff00"/><stop offset="1.0000" stop-color="#ccff00"/></linearGradient><linearGradient id="g187" gradientUnits="userSpaceOnUse" x1="1647.62" y1="247.60" x2="1618.92" y2="186.73"><stop offset="0.0000" stop-color="#0070ff"/><stop offset="0.2373" stop-color="#00ffff"/><stop offset="0.6610" stop-color="#00ff00"/><stop offset="1.0000" stop-color="#ccff00"/></linearGradient><linearGradient id="g188" gradientUnits="userSpaceOnUse" x1="1647.62" y1="247.60" x2="1623.77" y2="181.85"><stop offset="0.0000" stop-color="#0070ff"/><stop offset="0.2373" stop-color="#00ffff"/><stop offset="0.6610" stop-color="#00ff00"/><stop offset="1.0000" stop-color="#ccff00"/></linearGradient><linearGradient id="g189" gradientUnits="userSpaceOnUse" x1="1647.62" y1="247.60" x2="1708.04" y2="166.43"><stop offset="0.0000" stop-color="#0070ff"/><stop offset="0.3590" stop-color="#00ffff"/><stop offset="1.0000" stop-color="#00ff00"/></linearGradient><linearGradient id="g190" gradientUnits="userSpaceOnUse" x1="1786.67" y1="173.20" x2="1749.56" y2="138.52"><stop offset="0.0000" stop-color="#00ffeb"/><stop offset="1.0000" stop-color="#00ff00"/></linearGradient><linearGradient id="g191" gradientUnits="userSpaceOnUse" x1="1786.67" y1="173.20" x2="1823.79" y2="207.88"><stop offset="0.0000" stop-color="#00ffeb"/><stop offset="1.0000" stop-color="#00ff14"/></linearGradient><linearGradient id="g192" gradientUnits="userSpaceOnUse" x1="1856.20" y1="173.20" x2="1811.60" y2="206.54"><stop offset="0.0000" stop-color="#00adff"/><stop offset="0.8000" stop-color="#00ffff"/><stop offset="1.0000" stop-color="#00ffeb"/></linearGradient><linearGradient id="g193" gradientUnits="userSpaceOnUse" x1="1856.20" y1="247.60" x2="1815.96" y2="281.93"><stop offset="0.0000" stop-color="#00ffff"/><stop offset="1.0000" stop-color="#00ff14"/></linearGradient><linearGradient id="g194" gradientUnits="userSpaceOnUse" x1="1091.40" y1="247.60" x2="1136.49" y2="214.40"><stop offset="0.0000" stop-color="#00ff66"/><stop offset="0.3030" stop-color="#00ff00"/><stop offset="1.0000" stop-color="#ebff00"/></linearGradient><linearGradient id="g195" gradientUnits="userSpaceOnUse" x1="1091.40" y1="322.00" x2="1142.19" y2="291.15"><stop offset="0.0000" stop-color="#00ffeb"/><stop offset="1.0000" stop-color="#00ff1f"/></linearGradient><linearGradient id="g196" gradientUnits="userSpaceOnUse" x1="1230.45" y1="247.60" x2="1181.10" y2="216.04"><stop offset="0.0000" stop-color="#00ff99"/><stop offset="0.3947" stop-color="#00ff00"/><stop offset="1.0000" stop-color="#ebff00"/></linearGradient><linearGradient id="g197" gradientUnits="userSpaceOnUse" x1="1230.45" y1="322.00" x2="1165.81" y2="304.23"><stop offset="0.0000" stop-color="#00ffcc"/><stop offset="1.0000" stop-color="#00ff1f"/></linearGradient><linearGradient id="g198" gradientUnits="userSpaceOnUse" x1="1299.98" y1="247.60" x2="1232.63" y2="235.50"><stop offset="0.0000" stop-color="#005cff"/><stop offset="0.6154" stop-color="#00ffff"/><stop offset="1.0000" stop-color="#00ff99"/></linearGradient><linearGradient id="g199" gradientUnits="userSpaceOnUse" x1="1299.98" y1="247.60" x2="1223.87" y2="255.09"><stop offset="0.0000" stop-color="#005cff"/><stop offset="0.7619" stop-color="#00ffff"/><stop offset="1.0000" stop-color="#00ffcc"/></linearGradient><linearGradient id="g200" gradientUnits="userSpaceOnUse" x1="1299.98" y1="247.60" x2="1351.82" y2="217.32"><stop offset="0.0000" stop-color="#005cff"/><stop offset="1.0000" stop-color="#00adff"/></linearGradient><linearGradient id="g201" gradientUnits="userSpaceOnUse" x1="1299.98" y1="247.60" x2="1346.40" y2="334.36"><stop offset="0.0000" stop-color="#005cff"/><stop offset="1.0000" stop-color="#007aff"/></linearGradient><linearGradient id="g202" gradientUnits="userSpaceOnUse" x1="1369.51" y1="247.60" x2="1417.07" y2="215.28"><stop offset="0.0000" stop-color="#00adff"/><stop offset="0.7273" stop-color="#00ffff"/><stop offset="1.0000" stop-color="#00ffe0"/></linearGradient><linearGradient id="g203" gradientUnits="userSpaceOnUse" x1="1369.51" y1="322.00" x2="1421.35" y2="291.72"><stop offset="0.0000" stop-color="#007aff"/><stop offset="1.0000" stop-color="#00ccff"/></linearGradient><linearGradient id="g204" gradientUnits="userSpaceOnUse" x1="1439.04" y1="247.60" x2="1502.86" y2="228.52"><stop offset="0.0000" stop-color="#00ffe0"/><stop offset="0.8800" stop-color="#00ff00"/><stop offset="1.0000" stop-color="#1fff00"/></linearGradient><linearGradient id="g205" gradientUnits="userSpaceOnUse" x1="1439.04" y1="322.00" x2="1502.86" y2="302.92"><stop offset="0.0000" stop-color="#00ccff"/><stop offset="0.2000" stop-color="#00ffff"/><stop offset="1.0000" stop-color="#00ff33"/></linearGradient><linearGradient id="g206" gradientUnits="userSpaceOnUse" x1="1578.09" y1="247.60" x2="1521.02" y2="220.93"><stop offset="0.0000" stop-color="#00ff85"/><stop offset="0.8125" stop-color="#00ff00"/><stop offset="1.0000" stop-color="#1fff00"/></linearGradient><linearGradient id="g207" gradientUnits="userSpaceOnUse" x1="1578.09" y1="322.00" x2="1519.67" y2="296.52"><stop offset="0.0000" stop-color="#00ffcc"/><stop offset="1.0000" stop-color="#00ff33"/></linearGradient><linearGradient id="g208" gradientUnits="userSpaceOnUse" x1="1647.62" y1="247.60" x2="1582.23" y2="231.15"><stop offset="0.0000" stop-color="#0070ff"/><stop offset="0.5385" stop-color="#00ffff"/><stop offset="1.0000" stop-color="#00ff85"/></linearGradient><linearGradient id="g209" gradientUnits="userSpaceOnUse" x1="1647.62" y1="247.60" x2="1574.43" y2="251.40"><stop offset="0.0000" stop-color="#0070ff"/><stop offset="0.7368" stop-color="#00ffff"/><stop offset="1.0000" stop-color="#00ffcc"/></linearGradient><linearGradient id="g210" gradientUnits="userSpaceOnUse" x1="1647.62" y1="247.60" x2="1716.91" y2="251.65"><stop offset="0.0000" stop-color="#0070ff"/><stop offset="0.8750" stop-color="#00ffff"/><stop offset="1.0000" stop-color="#00ffeb"/></linearGradient><linearGradient id="g211" gradientUnits="userSpaceOnUse" x1="1647.62" y1="322.00" x2="1716.91" y2="326.05"><stop offset="0.0000" stop-color="#007aff"/><stop offset="0.8125" stop-color="#00ffff"/><stop offset="1.0000" stop-color="#00ffe0"/></linearGradient><linearGradient id="g212" gradientUnits="userSpaceOnUse" x1="1717.15" y1="247.60" x2="1786.54" y2="244.51"><stop offset="0.0000" stop-color="#00ffeb"/><stop offset="1.0000" stop-color="#00ff14"/></linearGradient><linearGradient id="g213" gradientUnits="userSpaceOnUse" x1="1717.15" y1="247.60" x2="1790.16" y2="251.19"><stop offset="0.0000" stop-color="#00ffeb"/><stop offset="1.0000" stop-color="#00ff1f"/></linearGradient><linearGradient id="g214" gradientUnits="userSpaceOnUse" x1="1856.20" y1="247.60" x2="1786.79" y2="244.78"><stop offset="0.0000" stop-color="#00ffff"/><stop offset="1.0000" stop-color="#00ff14"/></linearGradient><linearGradient id="g215" gradientUnits="userSpaceOnUse" x1="1856.20" y1="322.00" x2="1786.79" y2="319.18"><stop offset="0.0000" stop-color="#00f5ff"/><stop offset="0.0435" stop-color="#00ffff"/><stop offset="1.0000" stop-color="#00ff1f"/></linearGradient><linearGradient id="g216" gradientUnits="userSpaceOnUse" x1="1160.93" y1="396.40" x2="1195.71" y2="346.01"><stop offset="0.0000" stop-color="#00a3ff"/><stop offset="0.2903" stop-color="#00ffff"/><stop offset="1.0000" stop-color="#00ff1f"/></linearGradient><linearGradient id="g217" gradientUnits="userSpaceOnUse" x1="1091.40" y1="396.40" x2="1103.33" y2="323.96"><stop offset="0.0000" stop-color="#008fff"/><stop offset="0.8462" stop-color="#00ffff"/><stop offset="1.0000" stop-color="#00ffeb"/></linearGradient><linearGradient id="g218" gradientUnits="userSpaceOnUse" x1="1160.93" y1="396.40" x2="1128.45" y2="341.06"><stop offset="0.0000" stop-color="#00a3ff"/><stop offset="0.2903" stop-color="#00ffff"/><stop offset="1.0000" stop-color="#00ff1f"/></linearGradient><linearGradient id="g219" gradientUnits="userSpaceOnUse" x1="1230.45" y1="396.40" x2="1216.89" y2="324.56"><stop offset="0.0000" stop-color="#0085ff"/><stop offset="0.7059" stop-color="#00ffff"/><stop offset="1.0000" stop-color="#00ffcc"/></linearGradient><linearGradient id="g220" gradientUnits="userSpaceOnUse" x1="1299.98" y1="322.00" x2="1259.06" y2="287.79"><stop offset="0.0000" stop-color="#0070ff"/><stop offset="0.7368" stop-color="#00ffff"/><stop offset="1.0000" stop-color="#00ffcc"/></linearGradient><linearGradient id="g221" gradientUnits="userSpaceOnUse" x1="1299.98" y1="396.40" x2="1236.60" y2="376.66"><stop offset="0.0000" stop-color="#0066ff"/><stop offset="1.0000" stop-color="#0085ff"/></linearGradient><linearGradient id="g222" gradientUnits="userSpaceOnUse" x1="1299.98" y1="396.40" x2="1374.21" y2="327.03"><stop offset="0.0000" stop-color="#0066ff"/><stop offset="1.0000" stop-color="#007aff"/></linearGradient><linearGradient id="g223" gradientUnits="userSpaceOnUse" x1="1299.98" y1="396.40" x2="1363.36" y2="416.14"><stop offset="0.0000" stop-color="#0066ff"/><stop offset="1.0000" stop-color="#0085ff"/></linearGradient><linearGradient id="g224" gradientUnits="userSpaceOnUse" x1="1439.04" y1="396.40" x2="1475.79" y2="353.46"><stop offset="0.0000" stop-color="#0066ff"/><stop offset="1.0000" stop-color="#00ccff"/></linearGradient><linearGradient id="g225" gradientUnits="userSpaceOnUse" x1="1439.04" y1="396.40" x2="1375.66" y2="416.14"><stop offset="0.0000" stop-color="#0066ff"/><stop offset="1.0000" stop-color="#0085ff"/></linearGradient><linearGradient id="g226" gradientUnits="userSpaceOnUse" x1="1508.56" y1="396.40" x2="1544.72" y2="350.45"><stop offset="0.0000" stop-color="#0070ff"/><stop offset="0.4118" stop-color="#00ffff"/><stop offset="1.0000" stop-color="#00ff33"/></linearGradient><linearGradient id="g227" gradientUnits="userSpaceOnUse" x1="1439.04" y1="396.40" x2="1446.91" y2="322.84"><stop offset="0.0000" stop-color="#0066ff"/><stop offset="1.0000" stop-color="#00ccff"/></linearGradient><linearGradient id="g228" gradientUnits="userSpaceOnUse" x1="1508.56" y1="396.40" x2="1479.84" y2="335.56"><stop offset="0.0000" stop-color="#0070ff"/><stop offset="0.4118" stop-color="#00ffff"/><stop offset="1.0000" stop-color="#00ff33"/></linearGradient><linearGradient id="g229" gradientUnits="userSpaceOnUse" x1="1578.09" y1="396.40" x2="1578.09" y2="322.00"><stop offset="0.0000" stop-color="#0070ff"/><stop offset="0.7368" stop-color="#00ffff"/><stop offset="1.0000" stop-color="#00ffcc"/></linearGradient><linearGradient id="g230" gradientUnits="userSpaceOnUse" x1="1578.09" y1="396.40" x2="1540.89" y2="359.71"><stop offset="0.0000" stop-color="#0070ff"/><stop offset="0.7368" stop-color="#00ffff"/><stop offset="1.0000" stop-color="#00ffcc"/></linearGradient><linearGradient id="g231" gradientUnits="userSpaceOnUse" x1="1578.09" y1="396.40" x2="1647.62" y2="396.40"><stop offset="0.0000" stop-color="#0070ff"/><stop offset="1.0000" stop-color="#007aff"/></linearGradient><linearGradient id="g232" gradientUnits="userSpaceOnUse" x1="1717.15" y1="396.40" x2="1754.34" y2="359.46"><stop offset="0.0000" stop-color="#0070ff"/><stop offset="0.8235" stop-color="#00ffff"/><stop offset="1.0000" stop-color="#00ffe0"/></linearGradient><linearGradient id="g233" gradientUnits="userSpaceOnUse" x1="1717.15" y1="396.40" x2="1647.62" y2="396.40"><stop offset="0.0000" stop-color="#0070ff"/><stop offset="1.0000" stop-color="#007aff"/></linearGradient><linearGradient id="g234" gradientUnits="userSpaceOnUse" x1="1786.67" y1="396.40" x2="1821.23" y2="345.42"><stop offset="0.0000" stop-color="#00adff"/><stop offset="0.2667" stop-color="#00ffff"/><stop offset="1.0000" stop-color="#00ff1f"/></linearGradient><linearGradient id="g235" gradientUnits="userSpaceOnUse" x1="1717.15" y1="396.40" x2="1741.74" y2="331.29"><stop offset="0.0000" stop-color="#0070ff"/><stop offset="0.8235" stop-color="#00ffff"/><stop offset="1.0000" stop-color="#00ffe0"/></linearGradient><linearGradient id="g236" gradientUnits="userSpaceOnUse" x1="1786.67" y1="396.40" x2="1750.19" y2="351.93"><stop offset="0.0000" stop-color="#00adff"/><stop offset="0.2667" stop-color="#00ffff"/><stop offset="1.0000" stop-color="#00ff1f"/></linearGradient><linearGradient id="g237" gradientUnits="userSpaceOnUse" x1="1856.20" y1="396.40" x2="1831.06" y2="331.78"><stop offset="0.0000" stop-color="#0085ff"/><stop offset="1.0000" stop-color="#00f5ff"/></linearGradient><linearGradient id="g238" gradientUnits="userSpaceOnUse" x1="1091.40" y1="396.40" x2="1128.51" y2="361.72"><stop offset="0.0000" stop-color="#008fff"/><stop offset="1.0000" stop-color="#00a3ff"/></linearGradient><linearGradient id="g239" gradientUnits="userSpaceOnUse" x1="1091.40" y1="470.80" x2="1128.51" y2="436.12"><stop offset="0.0000" stop-color="#0070ff"/><stop offset="1.0000" stop-color="#008fff"/></linearGradient><linearGradient id="g240" gradientUnits="userSpaceOnUse" x1="1230.45" y1="396.40" x2="1180.37" y2="365.20"><stop offset="0.0000" stop-color="#0085ff"/><stop offset="1.0000" stop-color="#00a3ff"/></linearGradient><linearGradient id="g241" gradientUnits="userSpaceOnUse" x1="1230.45" y1="470.80" x2="1173.39" y2="444.13"><stop offset="0.0000" stop-color="#007aff"/><stop offset="1.0000" stop-color="#008fff"/></linearGradient><linearGradient id="g242" gradientUnits="userSpaceOnUse" x1="1299.98" y1="396.40" x2="1236.60" y2="376.66"><stop offset="0.0000" stop-color="#0066ff"/><stop offset="1.0000" stop-color="#0085ff"/></linearGradient><linearGradient id="g243" gradientUnits="userSpaceOnUse" x1="1299.98" y1="470.80" x2="1242.91" y2="444.13"><stop offset="0.0000" stop-color="#0052ff"/><stop offset="1.0000" stop-color="#007aff"/></linearGradient><linearGradient id="g244" gradientUnits="userSpaceOnUse" x1="1299.98" y1="396.40" x2="1350.07" y2="365.20"><stop offset="0.0000" stop-color="#0066ff"/><stop offset="1.0000" stop-color="#0085ff"/></linearGradient><linearGradient id="g245" gradientUnits="userSpaceOnUse" x1="1299.98" y1="470.80" x2="1350.07" y2="439.60"><stop offset="0.0000" stop-color="#0052ff"/><stop offset="1.0000" stop-color="#0070ff"/></linearGradient><linearGradient id="g246" gradientUnits="userSpaceOnUse" x1="1439.04" y1="396.40" x2="1388.95" y2="365.20"><stop offset="0.0000" stop-color="#0066ff"/><stop offset="1.0000" stop-color="#0085ff"/></linearGradient><linearGradient id="g247" gradientUnits="userSpaceOnUse" x1="1439.04" y1="396.40" x2="1439.04" y2="470.80"><stop offset="0.0000" stop-color="#0066ff"/><stop offset="1.0000" stop-color="#0070ff"/></linearGradient><linearGradient id="g248" gradientUnits="userSpaceOnUse" x1="1439.04" y1="396.40" x2="1476.15" y2="431.08"><stop offset="0.0000" stop-color="#0066ff"/><stop offset="1.0000" stop-color="#0070ff"/></linearGradient><linearGradient id="g249" gradientUnits="userSpaceOnUse" x1="1508.56" y1="396.40" x2="1545.68" y2="431.08"><stop offset="0.0000" stop-color="#0070ff"/><stop offset="1.0000" stop-color="#007aff"/></linearGradient><linearGradient id="g250" gradientUnits="userSpaceOnUse" x1="1508.56" y1="396.40" x2="1508.56" y2="470.80"><stop offset="0.0000" stop-color="#0070ff"/><stop offset="1.0000" stop-color="#007aff"/></linearGradient><linearGradient id="g251" gradientUnits="userSpaceOnUse" x1="1508.56" y1="396.40" x2="1508.56" y2="470.80"><stop offset="0.0000" stop-color="#0070ff"/><stop offset="1.0000" stop-color="#007aff"/></linearGradient><linearGradient id="g252" gradientUnits="userSpaceOnUse" x1="1578.09" y1="396.40" x2="1615.21" y2="431.08"><stop offset="0.0000" stop-color="#0070ff"/><stop offset="1.0000" stop-color="#007aff"/></linearGradient><linearGradient id="g253" gradientUnits="userSpaceOnUse" x1="1647.62" y1="396.40" x2="1684.73" y2="431.08"><stop offset="0.0000" stop-color="#007aff"/><stop offset="1.0000" stop-color="#0085ff"/></linearGradient><linearGradient id="g254" gradientUnits="userSpaceOnUse" x1="1717.15" y1="396.40" x2="1642.92" y2="465.77"><stop offset="0.0000" stop-color="#0070ff"/><stop offset="1.0000" stop-color="#0085ff"/></linearGradient><linearGradient id="g255" gradientUnits="userSpaceOnUse" x1="1717.15" y1="396.40" x2="1748.09" y2="454.24"><stop offset="0.0000" stop-color="#0070ff"/><stop offset="1.0000" stop-color="#0099ff"/></linearGradient><linearGradient id="g256" gradientUnits="userSpaceOnUse" x1="1717.15" y1="396.40" x2="1767.23" y2="427.60"><stop offset="0.0000" stop-color="#0070ff"/><stop offset="1.0000" stop-color="#00adff"/></linearGradient><linearGradient id="g257" gradientUnits="userSpaceOnUse" x1="1717.15" y1="470.80" x2="1761.02" y2="504.35"><stop offset="0.0000" stop-color="#0099ff"/><stop offset="0.9091" stop-color="#00ffff"/><stop offset="1.0000" stop-color="#00fff5"/></linearGradient><linearGradient id="g258" gradientUnits="userSpaceOnUse" x1="1856.20" y1="396.40" x2="1786.67" y2="396.40"><stop offset="0.0000" stop-color="#0085ff"/><stop offset="1.0000" stop-color="#00adff"/></linearGradient><linearGradient id="g259" gradientUnits="userSpaceOnUse" x1="1856.20" y1="470.80" x2="1807.19" y2="502.51"><stop offset="0.0000" stop-color="#0085ff"/><stop offset="0.9231" stop-color="#00ffff"/><stop offset="1.0000" stop-color="#00fff5"/></linearGradient><linearGradient id="g260" gradientUnits="userSpaceOnUse" x1="103.40" y1="583.50" x2="150.02" y2="550.82"><stop offset="0.0000" stop-color="#0052ff"/><stop offset="1.0000" stop-color="#007aff"/></linearGradient><linearGradient id="g261" gradientUnits="userSpaceOnUse" x1="103.40" y1="583.50" x2="66.44" y2="624.94"><stop offset="0.0000" stop-color="#0052ff"/><stop offset="1.0000" stop-color="#008fff"/></linearGradient><linearGradient id="g262" gradientUnits="userSpaceOnUse" x1="172.93" y1="583.50" x2="210.04" y2="548.82"><stop offset="0.0000" stop-color="#007aff"/><stop offset="1.0000" stop-color="#0085ff"/></linearGradient><linearGradient id="g263" gradientUnits="userSpaceOnUse" x1="172.93" y1="657.90" x2="210.04" y2="623.22"><stop offset="0.0000" stop-color="#005cff"/><stop offset="1.0000" stop-color="#007aff"/></linearGradient><linearGradient id="g264" gradientUnits="userSpaceOnUse" x1="242.45" y1="583.50" x2="316.68" y2="652.87"><stop offset="0.0000" stop-color="#0085ff"/><stop offset="1.0000" stop-color="#0099ff"/></linearGradient><linearGradient id="g265" gradientUnits="userSpaceOnUse" x1="242.45" y1="657.90" x2="305.83" y2="638.16"><stop offset="0.0000" stop-color="#007aff"/><stop offset="1.0000" stop-color="#0099ff"/></linearGradient><linearGradient id="g266" gradientUnits="userSpaceOnUse" x1="311.98" y1="583.50" x2="311.98" y2="657.90"><stop offset="0.0000" stop-color="#008fff"/><stop offset="1.0000" stop-color="#0099ff"/></linearGradient><linearGradient id="g267" gradientUnits="userSpaceOnUse" x1="381.51" y1="657.90" x2="324.44" y2="631.23"><stop offset="0.0000" stop-color="#0085ff"/><stop offset="1.0000" stop-color="#0099ff"/></linearGradient><linearGradient id="g268" gradientUnits="userSpaceOnUse" x1="451.04" y1="583.50" x2="413.92" y2="548.82"><stop offset="0.0000" stop-color="#0085ff"/><stop offset="1.0000" stop-color="#008fff"/></linearGradient><linearGradient id="g269" gradientUnits="userSpaceOnUse" x1="451.04" y1="657.90" x2="413.92" y2="623.22"><stop offset="0.0000" stop-color="#007aff"/><stop offset="1.0000" stop-color="#0085ff"/></linearGradient><linearGradient id="g270" gradientUnits="userSpaceOnUse" x1="451.04" y1="657.90" x2="451.04" y2="583.50"><stop offset="0.0000" stop-color="#007aff"/><stop offset="1.0000" stop-color="#0085ff"/></linearGradient><linearGradient id="g271" gradientUnits="userSpaceOnUse" x1="451.04" y1="657.90" x2="501.12" y2="689.10"><stop offset="0.0000" stop-color="#007aff"/><stop offset="1.0000" stop-color="#0099ff"/></linearGradient><linearGradient id="g272" gradientUnits="userSpaceOnUse" x1="520.56" y1="583.50" x2="589.49" y2="589.94"><stop offset="0.0000" stop-color="#0085ff"/><stop offset="0.6000" stop-color="#00ffff"/><stop offset="1.0000" stop-color="#00ffad"/></linearGradient><linearGradient id="g273" gradientUnits="userSpaceOnUse" x1="520.56" y1="657.90" x2="569.47" y2="689.66"><stop offset="0.0000" stop-color="#0099ff"/><stop offset="0.1695" stop-color="#00ffff"/><stop offset="0.5932" stop-color="#00ff00"/><stop offset="1.0000" stop-color="#f5ff00"/></linearGradient><linearGradient id="g274" gradientUnits="userSpaceOnUse" x1="590.09" y1="583.50" x2="615.35" y2="648.01"><stop offset="0.0000" stop-color="#00ffad"/><stop offset="0.4146" stop-color="#00ff00"/><stop offset="1.0000" stop-color="#f5ff00"/></linearGradient><linearGradient id="g275" gradientUnits="userSpaceOnUse" x1="659.62" y1="583.50" x2="690.57" y2="641.34"><stop offset="0.0000" stop-color="#00ff14"/><stop offset="0.0385" stop-color="#00ff00"/><stop offset="0.5192" stop-color="#ffff00"/><stop offset="1.0000" stop-color="#ff0000"/></linearGradient><linearGradient id="g276" gradientUnits="userSpaceOnUse" x1="729.15" y1="583.50" x2="687.48" y2="617.57"><stop offset="0.0000" stop-color="#00f5ff"/><stop offset="0.0417" stop-color="#00ffff"/><stop offset="1.0000" stop-color="#00ff14"/></linearGradient><linearGradient id="g277" gradientUnits="userSpaceOnUse" x1="729.15" y1="657.90" x2="690.10" y2="692.40"><stop offset="0.0000" stop-color="#00ff33"/><stop offset="0.0909" stop-color="#00ff00"/><stop offset="0.5455" stop-color="#ffff00"/><stop offset="1.0000" stop-color="#ff0000"/></linearGradient><linearGradient id="g278" gradientUnits="userSpaceOnUse" x1="798.67" y1="657.90" x2="713.27" y2="625.98"><stop offset="0.0000" stop-color="#0066ff"/><stop offset="1.0000" stop-color="#00f5ff"/></linearGradient><linearGradient id="g279" gradientUnits="userSpaceOnUse" x1="798.67" y1="657.90" x2="745.78" y2="687.56"><stop offset="0.0000" stop-color="#0066ff"/><stop offset="0.4286" stop-color="#00ffff"/><stop offset="1.0000" stop-color="#00ff33"/></linearGradient><linearGradient id="g280" gradientUnits="userSpaceOnUse" x1="868.20" y1="583.50" x2="798.67" y2="583.50"><stop offset="0.0000" stop-color="#0085ff"/><stop offset="1.0000" stop-color="#008fff"/></linearGradient><linearGradient id="g281" gradientUnits="userSpaceOnUse" x1="798.67" y1="657.90" x2="834.99" y2="612.65"><stop offset="0.0000" stop-color="#0066ff"/><stop offset="1.0000" stop-color="#008fff"/></linearGradient><linearGradient id="g282" gradientUnits="userSpaceOnUse" x1="172.93" y1="657.90" x2="117.06" y2="741.44"><stop offset="0.0000" stop-color="#005cff"/><stop offset="1.0000" stop-color="#00e0ff"/></linearGradient><linearGradient id="g283" gradientUnits="userSpaceOnUse" x1="172.93" y1="657.90" x2="205.03" y2="713.90"><stop offset="0.0000" stop-color="#005cff"/><stop offset="0.5714" stop-color="#00ffff"/><stop offset="1.0000" stop-color="#00ff85"/></linearGradient><linearGradient id="g284" gradientUnits="userSpaceOnUse" x1="172.93" y1="657.90" x2="198.39" y2="745.16"><stop offset="0.0000" stop-color="#005cff"/><stop offset="1.0000" stop-color="#00ebff"/></linearGradient><linearGradient id="g285" gradientUnits="userSpaceOnUse" x1="172.93" y1="657.90" x2="141.98" y2="715.74"><stop offset="0.0000" stop-color="#005cff"/><stop offset="0.5714" stop-color="#00ffff"/><stop offset="1.0000" stop-color="#00ff85"/></linearGradient><linearGradient id="g286" gradientUnits="userSpaceOnUse" x1="311.98" y1="732.30" x2="348.30" y2="687.05"><stop offset="0.0000" stop-color="#0070ff"/><stop offset="1.0000" stop-color="#0099ff"/></linearGradient><linearGradient id="g287" gradientUnits="userSpaceOnUse" x1="311.98" y1="732.30" x2="271.88" y2="766.65"><stop offset="0.0000" stop-color="#0070ff"/><stop offset="1.0000" stop-color="#00ebff"/></linearGradient><linearGradient id="g288" gradientUnits="userSpaceOnUse" x1="381.51" y1="657.90" x2="324.44" y2="684.57"><stop offset="0.0000" stop-color="#0085ff"/><stop offset="1.0000" stop-color="#0099ff"/></linearGradient><linearGradient id="g289" gradientUnits="userSpaceOnUse" x1="311.98" y1="732.30" x2="348.30" y2="687.05"><stop offset="0.0000" stop-color="#0070ff"/><stop offset="1.0000" stop-color="#0099ff"/></linearGradient><linearGradient id="g290" gradientUnits="userSpaceOnUse" x1="451.04" y1="657.90" x2="413.92" y2="692.58"><stop offset="0.0000" stop-color="#007aff"/><stop offset="1.0000" stop-color="#0085ff"/></linearGradient><linearGradient id="g291" gradientUnits="userSpaceOnUse" x1="381.51" y1="657.90" x2="344.39" y2="692.58"><stop offset="0.0000" stop-color="#0085ff"/><stop offset="1.0000" stop-color="#008fff"/></linearGradient><linearGradient id="g292" gradientUnits="userSpaceOnUse" x1="451.04" y1="657.90" x2="514.41" y2="677.64"><stop offset="0.0000" stop-color="#007aff"/><stop offset="1.0000" stop-color="#0099ff"/></linearGradient><linearGradient id="g293" gradientUnits="userSpaceOnUse" x1="451.04" y1="732.30" x2="508.10" y2="758.97"><stop offset="0.0000" stop-color="#0085ff"/><stop offset="1.0000" stop-color="#00adff"/></linearGradient><linearGradient id="g294" gradientUnits="userSpaceOnUse" x1="520.56" y1="657.90" x2="565.30" y2="624.60"><stop offset="0.0000" stop-color="#0099ff"/><stop offset="0.1695" stop-color="#00ffff"/><stop offset="0.5932" stop-color="#00ff00"/><stop offset="1.0000" stop-color="#f5ff00"/></linearGradient><linearGradient id="g295" gradientUnits="userSpaceOnUse" x1="520.56" y1="657.90" x2="601.18" y2="672.97"><stop offset="0.0000" stop-color="#0099ff"/><stop offset="0.8333" stop-color="#00ffff"/><stop offset="1.0000" stop-color="#00ffeb"/></linearGradient><linearGradient id="g296" gradientUnits="userSpaceOnUse" x1="659.62" y1="732.30" x2="695.08" y2="683.86"><stop offset="0.0000" stop-color="#7aff00"/><stop offset="0.3421" stop-color="#ffff00"/><stop offset="1.0000" stop-color="#ff0000"/></linearGradient><linearGradient id="g297" gradientUnits="userSpaceOnUse" x1="590.09" y1="732.30" x2="626.35" y2="686.80"><stop offset="0.0000" stop-color="#00ffeb"/><stop offset="0.4894" stop-color="#00ff00"/><stop offset="1.0000" stop-color="#f5ff00"/></linearGradient><linearGradient id="g298" gradientUnits="userSpaceOnUse" x1="729.15" y1="657.90" x2="680.07" y2="626.22"><stop offset="0.0000" stop-color="#00ff33"/><stop offset="0.0909" stop-color="#00ff00"/><stop offset="0.5455" stop-color="#ffff00"/><stop offset="1.0000" stop-color="#ff0000"/></linearGradient><linearGradient id="g299" gradientUnits="userSpaceOnUse" x1="729.15" y1="732.30" x2="662.62" y2="718.17"><stop offset="0.0000" stop-color="#00ff66"/><stop offset="0.4545" stop-color="#00ff00"/><stop offset="1.0000" stop-color="#7aff00"/></linearGradient><linearGradient id="g300" gradientUnits="userSpaceOnUse" x1="798.67" y1="657.90" x2="735.62" y2="678.10"><stop offset="0.0000" stop-color="#0066ff"/><stop offset="0.4286" stop-color="#00ffff"/><stop offset="1.0000" stop-color="#00ff33"/></linearGradient><linearGradient id="g301" gradientUnits="userSpaceOnUse" x1="798.67" y1="732.30" x2="715.44" y2="710.69"><stop offset="0.0000" stop-color="#00e0ff"/><stop offset="0.1304" stop-color="#00ffff"/><stop offset="1.0000" stop-color="#00ff33"/></linearGradient><linearGradient id="g302" gradientUnits="userSpaceOnUse" x1="798.67" y1="657.90" x2="883.18" y2="684.22"><stop offset="0.0000" stop-color="#0066ff"/><stop offset="1.0000" stop-color="#008fff"/></linearGradient><linearGradient id="g303" gradientUnits="userSpaceOnUse" x1="798.67" y1="657.90" x2="763.50" y2="707.21"><stop offset="0.0000" stop-color="#0066ff"/><stop offset="1.0000" stop-color="#00e0ff"/></linearGradient><linearGradient id="g304" gradientUnits="userSpaceOnUse" x1="103.40" y1="732.30" x2="145.39" y2="766.31"><stop offset="0.0000" stop-color="#00e0ff"/><stop offset="0.2000" stop-color="#00ffff"/><stop offset="1.0000" stop-color="#00ff85"/></linearGradient><linearGradient id="g305" gradientUnits="userSpaceOnUse" x1="103.40" y1="806.70" x2="142.38" y2="841.21"><stop offset="0.0000" stop-color="#00ff99"/><stop offset="0.3947" stop-color="#00ff00"/><stop offset="1.0000" stop-color="#ebff00"/></linearGradient><linearGradient id="g306" gradientUnits="userSpaceOnUse" x1="242.45" y1="732.30" x2="191.37" y2="762.99"><stop offset="0.0000" stop-color="#00ebff"/><stop offset="0.1429" stop-color="#00ffff"/><stop offset="1.0000" stop-color="#00ff85"/></linearGradient><linearGradient id="g307" gradientUnits="userSpaceOnUse" x1="242.45" y1="806.70" x2="200.90" y2="840.79"><stop offset="0.0000" stop-color="#00ffb8"/><stop offset="0.4390" stop-color="#00ff00"/><stop offset="1.0000" stop-color="#ebff00"/></linearGradient><linearGradient id="g308" gradientUnits="userSpaceOnUse" x1="311.98" y1="732.30" x2="242.87" y2="737.68"><stop offset="0.0000" stop-color="#0070ff"/><stop offset="1.0000" stop-color="#00ebff"/></linearGradient><linearGradient id="g309" gradientUnits="userSpaceOnUse" x1="311.98" y1="806.70" x2="252.90" y2="831.54"><stop offset="0.0000" stop-color="#007aff"/><stop offset="0.6500" stop-color="#00ffff"/><stop offset="1.0000" stop-color="#00ffb8"/></linearGradient><linearGradient id="g310" gradientUnits="userSpaceOnUse" x1="311.98" y1="732.30" x2="375.36" y2="752.04"><stop offset="0.0000" stop-color="#0070ff"/><stop offset="1.0000" stop-color="#008fff"/></linearGradient><linearGradient id="g311" gradientUnits="userSpaceOnUse" x1="311.98" y1="806.70" x2="364.88" y2="836.36"><stop offset="0.0000" stop-color="#007aff"/><stop offset="1.0000" stop-color="#00adff"/></linearGradient><linearGradient id="g312" gradientUnits="userSpaceOnUse" x1="451.04" y1="732.30" x2="419.65" y2="820.30"><stop offset="0.0000" stop-color="#0085ff"/><stop offset="1.0000" stop-color="#00adff"/></linearGradient><linearGradient id="g313" gradientUnits="userSpaceOnUse" x1="451.04" y1="732.30" x2="479.23" y2="793.77"><stop offset="0.0000" stop-color="#0085ff"/><stop offset="1.0000" stop-color="#00ccff"/></linearGradient><linearGradient id="g314" gradientUnits="userSpaceOnUse" x1="451.04" y1="732.30" x2="484.15" y2="786.45"><stop offset="0.0000" stop-color="#0085ff"/><stop offset="1.0000" stop-color="#00ccff"/></linearGradient><linearGradient id="g315" gradientUnits="userSpaceOnUse" x1="520.56" y1="732.30" x2="557.74" y2="770.77"><stop offset="0.0000" stop-color="#00adff"/><stop offset="0.2581" stop-color="#00ffff"/><stop offset="1.0000" stop-color="#00ff14"/></linearGradient><linearGradient id="g316" gradientUnits="userSpaceOnUse" x1="520.56" y1="732.30" x2="590.09" y2="732.30"><stop offset="0.0000" stop-color="#00adff"/><stop offset="0.8000" stop-color="#00ffff"/><stop offset="1.0000" stop-color="#00ffeb"/></linearGradient><linearGradient id="g317" gradientUnits="userSpaceOnUse" x1="520.56" y1="732.30" x2="485.21" y2="781.07"><stop offset="0.0000" stop-color="#00adff"/><stop offset="0.2581" stop-color="#00ffff"/><stop offset="1.0000" stop-color="#00ff14"/></linearGradient><linearGradient id="g318" gradientUnits="userSpaceOnUse" x1="590.09" y1="732.30" x2="659.62" y2="732.30"><stop offset="0.0000" stop-color="#00ffeb"/><stop offset="0.6571" stop-color="#00ff00"/><stop offset="1.0000" stop-color="#7aff00"/></linearGradient><linearGradient id="g319" gradientUnits="userSpaceOnUse" x1="659.62" y1="806.70" x2="637.97" y2="739.25"><stop offset="0.0000" stop-color="#007aff"/><stop offset="0.2600" stop-color="#00ffff"/><stop offset="0.7600" stop-color="#00ff00"/><stop offset="1.0000" stop-color="#7aff00"/></linearGradient><linearGradient id="g320" gradientUnits="userSpaceOnUse" x1="659.62" y1="806.70" x2="630.94" y2="745.80"><stop offset="0.0000" stop-color="#007aff"/><stop offset="0.2600" stop-color="#00ffff"/><stop offset="0.7600" stop-color="#00ff00"/><stop offset="1.0000" stop-color="#7aff00"/></linearGradient><linearGradient id="g321" gradientUnits="userSpaceOnUse" x1="659.62" y1="806.70" x2="728.86" y2="732.04"><stop offset="0.0000" stop-color="#007aff"/><stop offset="0.4643" stop-color="#00ffff"/><stop offset="1.0000" stop-color="#00ff66"/></linearGradient><linearGradient id="g322" gradientUnits="userSpaceOnUse" x1="798.67" y1="732.30" x2="755.39" y2="698.60"><stop offset="0.0000" stop-color="#00e0ff"/><stop offset="0.1667" stop-color="#00ffff"/><stop offset="1.0000" stop-color="#00ff66"/></linearGradient><linearGradient id="g323" gradientUnits="userSpaceOnUse" x1="798.67" y1="732.30" x2="835.83" y2="771.19"><stop offset="0.0000" stop-color="#00e0ff"/><stop offset="0.1071" stop-color="#00ffff"/><stop offset="1.0000" stop-color="#00ff00"/></linearGradient><linearGradient id="g324" gradientUnits="userSpaceOnUse" x1="868.20" y1="732.30" x2="799.61" y2="740.31"><stop offset="0.0000" stop-color="#008fff"/><stop offset="1.0000" stop-color="#00e0ff"/></linearGradient><linearGradient id="g325" gradientUnits="userSpaceOnUse" x1="868.20" y1="806.70" x2="823.60" y2="840.04"><stop offset="0.0000" stop-color="#0099ff"/><stop offset="0.2857" stop-color="#00ffff"/><stop offset="1.0000" stop-color="#00ff00"/></linearGradient><linearGradient id="g326" gradientUnits="userSpaceOnUse" x1="103.40" y1="806.70" x2="148.42" y2="773.48"><stop offset="0.0000" stop-color="#00ff99"/><stop offset="0.3947" stop-color="#00ff00"/><stop offset="1.0000" stop-color="#ebff00"/></linearGradient><linearGradient id="g327" gradientUnits="userSpaceOnUse" x1="103.40" y1="881.10" x2="158.17" y2="852.67"><stop offset="0.0000" stop-color="#00ffff"/><stop offset="1.0000" stop-color="#00ff47"/></linearGradient><linearGradient id="g328" gradientUnits="userSpaceOnUse" x1="242.45" y1="806.70" x2="195.08" y2="774.30"><stop offset="0.0000" stop-color="#00ffb8"/><stop offset="0.4390" stop-color="#00ff00"/><stop offset="1.0000" stop-color="#ebff00"/></linearGradient><linearGradient id="g329" gradientUnits="userSpaceOnUse" x1="242.45" y1="881.10" x2="179.75" y2="860.42"><stop offset="0.0000" stop-color="#00fff5"/><stop offset="1.0000" stop-color="#00ff47"/></linearGradient><linearGradient id="g330" gradientUnits="userSpaceOnUse" x1="311.98" y1="806.70" x2="247.52" y2="788.63"><stop offset="0.0000" stop-color="#007aff"/><stop offset="0.6500" stop-color="#00ffff"/><stop offset="1.0000" stop-color="#00ffb8"/></linearGradient><linearGradient id="g331" gradientUnits="userSpaceOnUse" x1="311.98" y1="806.70" x2="228.89" y2="827.88"><stop offset="0.0000" stop-color="#007aff"/><stop offset="0.9286" stop-color="#00ffff"/><stop offset="1.0000" stop-color="#00fff5"/></linearGradient><linearGradient id="g332" gradientUnits="userSpaceOnUse" x1="311.98" y1="806.70" x2="364.88" y2="836.36"><stop offset="0.0000" stop-color="#007aff"/><stop offset="1.0000" stop-color="#00adff"/></linearGradient><linearGradient id="g333" gradientUnits="userSpaceOnUse" x1="311.98" y1="881.10" x2="386.21" y2="811.73"><stop offset="0.0000" stop-color="#0099ff"/><stop offset="1.0000" stop-color="#00adff"/></linearGradient><linearGradient id="g334" gradientUnits="userSpaceOnUse" x1="381.51" y1="881.10" x2="466.01" y2="854.78"><stop offset="0.0000" stop-color="#00a3ff"/><stop offset="1.0000" stop-color="#00ccff"/></linearGradient><linearGradient id="g335" gradientUnits="userSpaceOnUse" x1="451.04" y1="881.10" x2="420.09" y2="823.26"><stop offset="0.0000" stop-color="#007aff"/><stop offset="1.0000" stop-color="#00ccff"/></linearGradient><linearGradient id="g336" gradientUnits="userSpaceOnUse" x1="451.04" y1="806.70" x2="506.63" y2="778.87"><stop offset="0.0000" stop-color="#00ccff"/><stop offset="0.1786" stop-color="#00ffff"/><stop offset="1.0000" stop-color="#00ff14"/></linearGradient><linearGradient id="g337" gradientUnits="userSpaceOnUse" x1="451.04" y1="881.10" x2="512.74" y2="859.13"><stop offset="0.0000" stop-color="#007aff"/><stop offset="0.6190" stop-color="#00ffff"/><stop offset="1.0000" stop-color="#00ffad"/></linearGradient><linearGradient id="g338" gradientUnits="userSpaceOnUse" x1="590.09" y1="806.70" x2="541.99" y2="774.60"><stop offset="0.0000" stop-color="#00ffeb"/><stop offset="1.0000" stop-color="#00ff14"/></linearGradient><linearGradient id="g339" gradientUnits="userSpaceOnUse" x1="590.09" y1="881.10" x2="538.25" y2="850.82"><stop offset="0.0000" stop-color="#00adff"/><stop offset="0.5000" stop-color="#00ffff"/><stop offset="1.0000" stop-color="#00ffad"/></linearGradient><linearGradient id="g340" gradientUnits="userSpaceOnUse" x1="659.62" y1="806.70" x2="609.53" y2="775.50"><stop offset="0.0000" stop-color="#007aff"/><stop offset="0.8667" stop-color="#00ffff"/><stop offset="1.0000" stop-color="#00ffeb"/></linearGradient><linearGradient id="g341" gradientUnits="userSpaceOnUse" x1="659.62" y1="806.70" x2="577.21" y2="825.95"><stop offset="0.0000" stop-color="#007aff"/><stop offset="1.0000" stop-color="#00adff"/></linearGradient><linearGradient id="g342" gradientUnits="userSpaceOnUse" x1="659.62" y1="806.70" x2="715.10" y2="778.78"><stop offset="0.0000" stop-color="#007aff"/><stop offset="1.0000" stop-color="#00ffff"/></linearGradient><linearGradient id="g343" gradientUnits="userSpaceOnUse" x1="659.62" y1="806.70" x2="740.23" y2="821.77"><stop offset="0.0000" stop-color="#007aff"/><stop offset="1.0000" stop-color="#00b8ff"/></linearGradient><linearGradient id="g344" gradientUnits="userSpaceOnUse" x1="729.15" y1="806.70" x2="795.34" y2="791.85"><stop offset="0.0000" stop-color="#00ffff"/><stop offset="1.0000" stop-color="#00ff00"/></linearGradient><linearGradient id="g345" gradientUnits="userSpaceOnUse" x1="729.15" y1="881.10" x2="794.53" y2="864.65"><stop offset="0.0000" stop-color="#00b8ff"/><stop offset="0.2692" stop-color="#00ffff"/><stop offset="1.0000" stop-color="#00ff3d"/></linearGradient><linearGradient id="g346" gradientUnits="userSpaceOnUse" x1="868.20" y1="806.70" x2="800.41" y2="795.84"><stop offset="0.0000" stop-color="#0099ff"/><stop offset="0.2857" stop-color="#00ffff"/><stop offset="1.0000" stop-color="#00ff00"/></linearGradient><linearGradient id="g347" gradientUnits="userSpaceOnUse" x1="868.20" y1="881.10" x2="798.92" y2="876.92"><stop offset="0.0000" stop-color="#0085ff"/><stop offset="0.3871" stop-color="#00ffff"/><stop offset="1.0000" stop-color="#00ff3d"/></linearGradient><linearGradient id="g348" gradientUnits="userSpaceOnUse" x1="172.93" y1="955.50" x2="205.80" y2="900.89"><stop offset="0.0000" stop-color="#0070ff"/><stop offset="0.4375" stop-color="#00ffff"/><stop offset="1.0000" stop-color="#00ff47"/></linearGradient><linearGradient id="g349" gradientUnits="userSpaceOnUse" x1="172.93" y1="955.50" x2="157.92" y2="871.38"><stop offset="0.0000" stop-color="#0070ff"/><stop offset="1.0000" stop-color="#00ffff"/></linearGradient><linearGradient id="g350" gradientUnits="userSpaceOnUse" x1="172.93" y1="955.50" x2="140.96" y2="899.27"><stop offset="0.0000" stop-color="#0070ff"/><stop offset="0.4375" stop-color="#00ffff"/><stop offset="1.0000" stop-color="#00ff47"/></linearGradient><linearGradient id="g351" gradientUnits="userSpaceOnUse" x1="172.93" y1="955.50" x2="207.21" y2="867.39"><stop offset="0.0000" stop-color="#0070ff"/><stop offset="0.9333" stop-color="#00ffff"/><stop offset="1.0000" stop-color="#00fff5"/></linearGradient><linearGradient id="g352" gradientUnits="userSpaceOnUse" x1="311.98" y1="881.10" x2="274.87" y2="846.42"><stop offset="0.0000" stop-color="#0099ff"/><stop offset="0.9091" stop-color="#00ffff"/><stop offset="1.0000" stop-color="#00fff5"/></linearGradient><linearGradient id="g353" gradientUnits="userSpaceOnUse" x1="311.98" y1="955.50" x2="274.87" y2="920.82"><stop offset="0.0000" stop-color="#008fff"/><stop offset="1.0000" stop-color="#0099ff"/></linearGradient><linearGradient id="g354" gradientUnits="userSpaceOnUse" x1="311.98" y1="955.50" x2="386.21" y2="886.13"><stop offset="0.0000" stop-color="#008fff"/><stop offset="1.0000" stop-color="#00a3ff"/></linearGradient><linearGradient id="g355" gradientUnits="userSpaceOnUse" x1="311.98" y1="955.50" x2="375.36" y2="975.24"><stop offset="0.0000" stop-color="#008fff"/><stop offset="1.0000" stop-color="#00adff"/></linearGradient><linearGradient id="g356" gradientUnits="userSpaceOnUse" x1="451.04" y1="881.10" x2="413.92" y2="915.78"><stop offset="0.0000" stop-color="#007aff"/><stop offset="1.0000" stop-color="#00a3ff"/></linearGradient><linearGradient id="g357" gradientUnits="userSpaceOnUse" x1="381.51" y1="881.10" x2="344.39" y2="915.78"><stop offset="0.0000" stop-color="#00a3ff"/><stop offset="1.0000" stop-color="#00adff"/></linearGradient><linearGradient id="g358" gradientUnits="userSpaceOnUse" x1="451.04" y1="881.10" x2="488.15" y2="846.42"><stop offset="0.0000" stop-color="#007aff"/><stop offset="0.6190" stop-color="#00ffff"/><stop offset="1.0000" stop-color="#00ffad"/></linearGradient><linearGradient id="g359" gradientUnits="userSpaceOnUse" x1="451.04" y1="881.10" x2="413.92" y2="915.78"><stop offset="0.0000" stop-color="#007aff"/><stop offset="1.0000" stop-color="#00a3ff"/></linearGradient><linearGradient id="g360" gradientUnits="userSpaceOnUse" x1="520.56" y1="955.50" x2="484.13" y2="910.81"><stop offset="0.0000" stop-color="#007aff"/><stop offset="0.6190" stop-color="#00ffff"/><stop offset="1.0000" stop-color="#00ffad"/></linearGradient><linearGradient id="g361" gradientUnits="userSpaceOnUse" x1="520.56" y1="955.50" x2="604.04" y2="903.49"><stop offset="0.0000" stop-color="#007aff"/><stop offset="1.0000" stop-color="#00adff"/></linearGradient><linearGradient id="g362" gradientUnits="userSpaceOnUse" x1="659.62" y1="881.10" x2="612.99" y2="913.78"><stop offset="0.0000" stop-color="#0085ff"/><stop offset="1.0000" stop-color="#00adff"/></linearGradient><linearGradient id="g363" gradientUnits="userSpaceOnUse" x1="590.09" y1="955.50" x2="621.04" y2="897.66"><stop offset="0.0000" stop-color="#0099ff"/><stop offset="1.0000" stop-color="#00adff"/></linearGradient><linearGradient id="g364" gradientUnits="userSpaceOnUse" x1="659.62" y1="881.10" x2="712.52" y2="910.76"><stop offset="0.0000" stop-color="#0085ff"/><stop offset="1.0000" stop-color="#00b8ff"/></linearGradient><linearGradient id="g365" gradientUnits="userSpaceOnUse" x1="729.15" y1="955.50" x2="729.15" y2="881.10"><stop offset="0.0000" stop-color="#00a3ff"/><stop offset="1.0000" stop-color="#00b8ff"/></linearGradient><linearGradient id="g366" gradientUnits="userSpaceOnUse" x1="798.67" y1="955.50" x2="835.77" y2="915.50"><stop offset="0.0000" stop-color="#008fff"/><stop offset="0.3667" stop-color="#00ffff"/><stop offset="1.0000" stop-color="#00ff3d"/></linearGradient><linearGradient id="g367" gradientUnits="userSpaceOnUse" x1="798.67" y1="955.50" x2="724.44" y2="886.13"><stop offset="0.0000" stop-color="#008fff"/><stop offset="1.0000" stop-color="#00b8ff"/></linearGradient><linearGradient id="g368" gradientUnits="userSpaceOnUse" x1="868.20" y1="881.10" x2="829.95" y2="846.51"><stop offset="0.0000" stop-color="#0085ff"/><stop offset="0.3871" stop-color="#00ffff"/><stop offset="1.0000" stop-color="#00ff3d"/></linearGradient><linearGradient id="g369" gradientUnits="userSpaceOnUse" x1="868.20" y1="881.10" x2="899.15" y2="938.94"><stop offset="0.0000" stop-color="#0085ff"/><stop offset="1.0000" stop-color="#0099ff"/></linearGradient><linearGradient id="g370" gradientUnits="userSpaceOnUse" x1="172.93" y1="955.50" x2="141.98" y2="1013.34"><stop offset="0.0000" stop-color="#0070ff"/><stop offset="1.0000" stop-color="#0099ff"/></linearGradient><linearGradient id="g371" gradientUnits="userSpaceOnUse" x1="103.40" y1="955.50" x2="172.93" y2="955.50"><stop offset="0.0000" stop-color="#0085ff"/><stop offset="1.0000" stop-color="#0099ff"/></linearGradient><linearGradient id="g372" gradientUnits="userSpaceOnUse" x1="172.93" y1="955.50" x2="210.04" y2="990.18"><stop offset="0.0000" stop-color="#0070ff"/><stop offset="1.0000" stop-color="#0099ff"/></linearGradient><linearGradient id="g373" gradientUnits="userSpaceOnUse" x1="242.45" y1="955.50" x2="279.57" y2="990.18"><stop offset="0.0000" stop-color="#0099ff"/><stop offset="1.0000" stop-color="#00a3ff"/></linearGradient><linearGradient id="g374" gradientUnits="userSpaceOnUse" x1="311.98" y1="955.50" x2="237.75" y2="1024.87"><stop offset="0.0000" stop-color="#008fff"/><stop offset="1.0000" stop-color="#00a3ff"/></linearGradient><linearGradient id="g375" gradientUnits="userSpaceOnUse" x1="311.98" y1="955.50" x2="335.52" y2="1021.50"><stop offset="0.0000" stop-color="#008fff"/><stop offset="1.0000" stop-color="#00adff"/></linearGradient><linearGradient id="g376" gradientUnits="userSpaceOnUse" x1="311.98" y1="955.50" x2="349.10" y2="990.18"><stop offset="0.0000" stop-color="#008fff"/><stop offset="1.0000" stop-color="#00adff"/></linearGradient><linearGradient id="g377" gradientUnits="userSpaceOnUse" x1="451.04" y1="955.50" x2="381.51" y2="955.50"><stop offset="0.0000" stop-color="#00a3ff"/><stop offset="1.0000" stop-color="#00adff"/></linearGradient><linearGradient id="g378" gradientUnits="userSpaceOnUse" x1="451.04" y1="1029.90" x2="381.51" y2="1029.90"><stop offset="0.0000" stop-color="#00a3ff"/><stop offset="1.0000" stop-color="#00adff"/></linearGradient><linearGradient id="g379" gradientUnits="userSpaceOnUse" x1="520.56" y1="955.50" x2="483.45" y2="990.18"><stop offset="0.0000" stop-color="#007aff"/><stop offset="1.0000" stop-color="#00a3ff"/></linearGradient><linearGradient id="g380" gradientUnits="userSpaceOnUse" x1="520.56" y1="955.50" x2="556.88" y2="1000.75"><stop offset="0.0000" stop-color="#007aff"/><stop offset="1.0000" stop-color="#00a3ff"/></linearGradient><linearGradient id="g381" gradientUnits="userSpaceOnUse" x1="590.09" y1="955.50" x2="590.09" y2="1029.90"><stop offset="0.0000" stop-color="#0099ff"/><stop offset="1.0000" stop-color="#00a3ff"/></linearGradient><linearGradient id="g382" gradientUnits="userSpaceOnUse" x1="590.09" y1="955.50" x2="627.21" y2="990.18"><stop offset="0.0000" stop-color="#0099ff"/><stop offset="1.0000" stop-color="#00a3ff"/></linearGradient><linearGradient id="g383" gradientUnits="userSpaceOnUse" x1="729.15" y1="1029.90" x2="692.03" y2="995.22"><stop offset="0.0000" stop-color="#0085ff"/><stop offset="1.0000" stop-color="#00a3ff"/></linearGradient><linearGradient id="g384" gradientUnits="userSpaceOnUse" x1="798.67" y1="955.50" x2="761.56" y2="990.18"><stop offset="0.0000" stop-color="#008fff"/><stop offset="1.0000" stop-color="#00a3ff"/></linearGradient><linearGradient id="g385" gradientUnits="userSpaceOnUse" x1="729.15" y1="1029.90" x2="766.26" y2="995.22"><stop offset="0.0000" stop-color="#0085ff"/><stop offset="1.0000" stop-color="#00a3ff"/></linearGradient><linearGradient id="g386" gradientUnits="userSpaceOnUse" x1="798.67" y1="955.50" x2="868.20" y2="955.50"><stop offset="0.0000" stop-color="#008fff"/><stop offset="1.0000" stop-color="#0099ff"/></linearGradient><linearGradient id="g387" gradientUnits="userSpaceOnUse" x1="798.67" y1="955.50" x2="767.73" y2="1013.34"><stop offset="0.0000" stop-color="#008fff"/><stop offset="1.0000" stop-color="#00a3ff"/></linearGradient><linearGradient id="g388" gradientUnits="userSpaceOnUse" x1="1160.93" y1="657.90" x2="1196.10" y2="608.59"><stop offset="0.0000" stop-color="#003dff"/><stop offset="1.0000" stop-color="#005cff"/></linearGradient><linearGradient id="g389" gradientUnits="userSpaceOnUse" x1="1160.93" y1="657.90" x2="1118.57" y2="691.83"><stop offset="0.0000" stop-color="#003dff"/><stop offset="1.0000" stop-color="#0085ff"/></linearGradient><linearGradient id="g390" gradientUnits="userSpaceOnUse" x1="1230.45" y1="657.90" x2="1254.00" y2="591.90"><stop offset="0.0000" stop-color="#0047ff"/><stop offset="1.0000" stop-color="#0066ff"/></linearGradient><linearGradient id="g391" gradientUnits="userSpaceOnUse" x1="1160.93" y1="657.90" x2="1184.47" y2="591.90"><stop offset="0.0000" stop-color="#003dff"/><stop offset="1.0000" stop-color="#005cff"/></linearGradient><linearGradient id="g392" gradientUnits="userSpaceOnUse" x1="1299.98" y1="657.90" x2="1330.93" y2="600.06"><stop offset="0.0000" stop-color="#005cff"/><stop offset="1.0000" stop-color="#0070ff"/></linearGradient><linearGradient id="g393" gradientUnits="userSpaceOnUse" x1="1230.45" y1="657.90" x2="1265.63" y2="608.59"><stop offset="0.0000" stop-color="#0047ff"/><stop offset="1.0000" stop-color="#0066ff"/></linearGradient><linearGradient id="g394" gradientUnits="userSpaceOnUse" x1="1369.51" y1="657.90" x2="1404.68" y2="608.59"><stop offset="0.0000" stop-color="#0066ff"/><stop offset="1.0000" stop-color="#0085ff"/></linearGradient><linearGradient id="g395" gradientUnits="userSpaceOnUse" x1="1299.98" y1="657.90" x2="1330.93" y2="600.06"><stop offset="0.0000" stop-color="#005cff"/><stop offset="1.0000" stop-color="#0070ff"/></linearGradient><linearGradient id="g396" gradientUnits="userSpaceOnUse" x1="1369.51" y1="657.90" x2="1369.51" y2="583.50"><stop offset="0.0000" stop-color="#0066ff"/><stop offset="1.0000" stop-color="#0085ff"/></linearGradient><linearGradient id="g397" gradientUnits="userSpaceOnUse" x1="1439.04" y1="657.90" x2="1420.46" y2="588.47"><stop offset="0.0000" stop-color="#005cff"/><stop offset="1.0000" stop-color="#0085ff"/></linearGradient><linearGradient id="g398" gradientUnits="userSpaceOnUse" x1="1508.56" y1="657.90" x2="1462.14" y2="571.14"><stop offset="0.0000" stop-color="#0066ff"/><stop offset="1.0000" stop-color="#0085ff"/></linearGradient><linearGradient id="g399" gradientUnits="userSpaceOnUse" x1="1439.04" y1="657.90" x2="1457.61" y2="588.47"><stop offset="0.0000" stop-color="#005cff"/><stop offset="1.0000" stop-color="#0085ff"/></linearGradient><linearGradient id="g400" gradientUnits="userSpaceOnUse" x1="1508.56" y1="657.90" x2="1586.16" y2="648.23"><stop offset="0.0000" stop-color="#0066ff"/><stop offset="0.8824" stop-color="#00ffff"/><stop offset="1.0000" stop-color="#00ffeb"/></linearGradient><linearGradient id="g401" gradientUnits="userSpaceOnUse" x1="1508.56" y1="657.90" x2="1561.66" y2="687.44"><stop offset="0.0000" stop-color="#0066ff"/><stop offset="0.3571" stop-color="#00ffff"/><stop offset="0.9524" stop-color="#00ff00"/><stop offset="1.0000" stop-color="#14ff00"/></linearGradient><linearGradient id="g402" gradientUnits="userSpaceOnUse" x1="1578.09" y1="583.50" x2="1598.55" y2="651.77"><stop offset="0.0000" stop-color="#00ffeb"/><stop offset="0.9200" stop-color="#00ff00"/><stop offset="1.0000" stop-color="#14ff00"/></linearGradient><linearGradient id="g403" gradientUnits="userSpaceOnUse" x1="1647.62" y1="583.50" x2="1683.32" y2="631.16"><stop offset="0.0000" stop-color="#00ffa3"/><stop offset="0.2667" stop-color="#00ff00"/><stop offset="0.6833" stop-color="#ffff00"/><stop offset="1.0000" stop-color="#ff3d00"/></linearGradient><linearGradient id="g404" gradientUnits="userSpaceOnUse" x1="1717.15" y1="583.50" x2="1680.33" y2="626.00"><stop offset="0.0000" stop-color="#00adff"/><stop offset="0.3810" stop-color="#00ffff"/><stop offset="1.0000" stop-color="#00ff7a"/></linearGradient><linearGradient id="g405" gradientUnits="userSpaceOnUse" x1="1647.62" y1="583.50" x2="1610.42" y2="620.75"><stop offset="0.0000" stop-color="#00ffa3"/><stop offset="0.2667" stop-color="#00ff00"/><stop offset="0.6833" stop-color="#ffff00"/><stop offset="1.0000" stop-color="#ff3d00"/></linearGradient><linearGradient id="g406" gradientUnits="userSpaceOnUse" x1="1786.67" y1="657.90" x2="1704.22" y2="602.86"><stop offset="0.0000" stop-color="#0033ff"/><stop offset="1.0000" stop-color="#00adff"/></linearGradient><linearGradient id="g407" gradientUnits="userSpaceOnUse" x1="1786.67" y1="657.90" x2="1735.31" y2="688.44"><stop offset="0.0000" stop-color="#0033ff"/><stop offset="0.6061" stop-color="#00ffff"/><stop offset="1.0000" stop-color="#00ff7a"/></linearGradient><linearGradient id="g408" gradientUnits="userSpaceOnUse" x1="1856.20" y1="657.90" x2="1879.74" y2="591.90"><stop offset="0.0000" stop-color="#0052ff"/><stop offset="1.0000" stop-color="#0070ff"/></linearGradient><linearGradient id="g409" gradientUnits="userSpaceOnUse" x1="1786.67" y1="657.90" x2="1820.50" y2="605.22"><stop offset="0.0000" stop-color="#0033ff"/><stop offset="1.0000" stop-color="#0066ff"/></linearGradient><linearGradient id="g410" gradientUnits="userSpaceOnUse" x1="1160.93" y1="657.90" x2="1075.91" y2="703.30"><stop offset="0.0000" stop-color="#003dff"/><stop offset="1.0000" stop-color="#00adff"/></linearGradient><linearGradient id="g411" gradientUnits="userSpaceOnUse" x1="1160.93" y1="657.90" x2="1195.48" y2="708.88"><stop offset="0.0000" stop-color="#003dff"/><stop offset="0.6333" stop-color="#00ffff"/><stop offset="1.0000" stop-color="#00ff8f"/></linearGradient><linearGradient id="g412" gradientUnits="userSpaceOnUse" x1="1160.93" y1="657.90" x2="1169.59" y2="738.81"><stop offset="0.0000" stop-color="#003dff"/><stop offset="1.0000" stop-color="#00adff"/></linearGradient><linearGradient id="g413" gradientUnits="userSpaceOnUse" x1="1160.93" y1="657.90" x2="1126.37" y2="708.88"><stop offset="0.0000" stop-color="#003dff"/><stop offset="0.6333" stop-color="#00ffff"/><stop offset="1.0000" stop-color="#00ff8f"/></linearGradient><linearGradient id="g414" gradientUnits="userSpaceOnUse" x1="1299.98" y1="732.30" x2="1320.78" y2="664.26"><stop offset="0.0000" stop-color="#0014ff"/><stop offset="1.0000" stop-color="#005cff"/></linearGradient><linearGradient id="g415" gradientUnits="userSpaceOnUse" x1="1299.98" y1="732.30" x2="1249.89" y2="763.50"><stop offset="0.0000" stop-color="#0014ff"/><stop offset="1.0000" stop-color="#00adff"/></linearGradient><linearGradient id="g416" gradientUnits="userSpaceOnUse" x1="1299.98" y1="657.90" x2="1337.10" y2="623.22"><stop offset="0.0000" stop-color="#005cff"/><stop offset="1.0000" stop-color="#0066ff"/></linearGradient><linearGradient id="g417" gradientUnits="userSpaceOnUse" x1="1299.98" y1="732.30" x2="1337.10" y2="697.62"><stop offset="0.0000" stop-color="#0014ff"/><stop offset="1.0000" stop-color="#005cff"/></linearGradient><linearGradient id="g418" gradientUnits="userSpaceOnUse" x1="1439.04" y1="657.90" x2="1401.92" y2="623.22"><stop offset="0.0000" stop-color="#005cff"/><stop offset="1.0000" stop-color="#0066ff"/></linearGradient><linearGradient id="g419" gradientUnits="userSpaceOnUse" x1="1439.04" y1="732.30" x2="1401.92" y2="697.62"><stop offset="0.0000" stop-color="#0052ff"/><stop offset="1.0000" stop-color="#005cff"/></linearGradient><linearGradient id="g420" gradientUnits="userSpaceOnUse" x1="1439.04" y1="657.90" x2="1513.27" y2="727.27"><stop offset="0.0000" stop-color="#005cff"/><stop offset="1.0000" stop-color="#0070ff"/></linearGradient><linearGradient id="g421" gradientUnits="userSpaceOnUse" x1="1439.04" y1="732.30" x2="1502.41" y2="712.56"><stop offset="0.0000" stop-color="#0052ff"/><stop offset="1.0000" stop-color="#0070ff"/></linearGradient><linearGradient id="g422" gradientUnits="userSpaceOnUse" x1="1508.56" y1="657.90" x2="1556.66" y2="625.80"><stop offset="0.0000" stop-color="#0066ff"/><stop offset="0.3571" stop-color="#00ffff"/><stop offset="0.9524" stop-color="#00ff00"/><stop offset="1.0000" stop-color="#14ff00"/></linearGradient><linearGradient id="g423" gradientUnits="userSpaceOnUse" x1="1508.56" y1="657.90" x2="1583.87" y2="664.30"><stop offset="0.0000" stop-color="#0066ff"/><stop offset="1.0000" stop-color="#00e0ff"/></linearGradient><linearGradient id="g424" gradientUnits="userSpaceOnUse" x1="1647.62" y1="732.30" x2="1684.81" y2="695.89"><stop offset="0.0000" stop-color="#00ff00"/><stop offset="0.5682" stop-color="#ffff00"/><stop offset="1.0000" stop-color="#ff3d00"/></linearGradient><linearGradient id="g425" gradientUnits="userSpaceOnUse" x1="1578.09" y1="732.30" x2="1615.29" y2="695.05"><stop offset="0.0000" stop-color="#00e0ff"/><stop offset="0.1000" stop-color="#00ffff"/><stop offset="0.9333" stop-color="#00ff00"/><stop offset="1.0000" stop-color="#14ff00"/></linearGradient><linearGradient id="g426" gradientUnits="userSpaceOnUse" x1="1717.15" y1="657.90" x2="1671.97" y2="624.73"><stop offset="0.0000" stop-color="#00ff7a"/><stop offset="0.2143" stop-color="#00ff00"/><stop offset="0.6607" stop-color="#ffff00"/><stop offset="1.0000" stop-color="#ff3d00"/></linearGradient><linearGradient id="g427" gradientUnits="userSpaceOnUse" x1="1717.15" y1="732.30" x2="1658.25" y2="707.28"><stop offset="0.0000" stop-color="#00ffe0"/><stop offset="1.0000" stop-color="#00ff00"/></linearGradient><linearGradient id="g428" gradientUnits="userSpaceOnUse" x1="1786.67" y1="657.90" x2="1722.31" y2="639.67"><stop offset="0.0000" stop-color="#0033ff"/><stop offset="0.6061" stop-color="#00ffff"/><stop offset="1.0000" stop-color="#00ff7a"/></linearGradient><linearGradient id="g429" gradientUnits="userSpaceOnUse" x1="1786.67" y1="657.90" x2="1701.84" y2="685.88"><stop offset="0.0000" stop-color="#0033ff"/><stop offset="0.8696" stop-color="#00ffff"/><stop offset="1.0000" stop-color="#00ffe0"/></linearGradient><linearGradient id="g430" gradientUnits="userSpaceOnUse" x1="1786.67" y1="657.90" x2="1856.20" y2="657.90"><stop offset="0.0000" stop-color="#0033ff"/><stop offset="1.0000" stop-color="#0052ff"/></linearGradient><linearGradient id="g431" gradientUnits="userSpaceOnUse" x1="1786.67" y1="657.90" x2="1755.73" y2="715.74"><stop offset="0.0000" stop-color="#0033ff"/><stop offset="1.0000" stop-color="#0070ff"/></linearGradient><linearGradient id="g432" gradientUnits="userSpaceOnUse" x1="1091.40" y1="732.30" x2="1153.56" y2="753.70"><stop offset="0.0000" stop-color="#00adff"/><stop offset="0.4211" stop-color="#00ffff"/><stop offset="1.0000" stop-color="#00ff8f"/></linearGradient><linearGradient id="g433" gradientUnits="userSpaceOnUse" x1="1091.40" y1="806.70" x2="1136.28" y2="839.96"><stop offset="0.0000" stop-color="#00f5ff"/><stop offset="0.0172" stop-color="#00ffff"/><stop offset="0.4483" stop-color="#00ff00"/><stop offset="0.8793" stop-color="#ffff00"/><stop offset="1.0000" stop-color="#ffb800"/></linearGradient><linearGradient id="g434" gradientUnits="userSpaceOnUse" x1="1230.45" y1="732.30" x2="1170.25" y2="755.99"><stop offset="0.0000" stop-color="#00adff"/><stop offset="0.4211" stop-color="#00ffff"/><stop offset="1.0000" stop-color="#00ff8f"/></linearGradient><linearGradient id="g435" gradientUnits="userSpaceOnUse" x1="1230.45" y1="806.70" x2="1186.13" y2="840.12"><stop offset="0.0000" stop-color="#00ffff"/><stop offset="0.4386" stop-color="#00ff00"/><stop offset="0.8772" stop-color="#ffff00"/><stop offset="1.0000" stop-color="#ffb800"/></linearGradient><linearGradient id="g436" gradientUnits="userSpaceOnUse" x1="1299.98" y1="732.30" x2="1230.45" y2="732.30"><stop offset="0.0000" stop-color="#0014ff"/><stop offset="1.0000" stop-color="#00adff"/></linearGradient><linearGradient id="g437" gradientUnits="userSpaceOnUse" x1="1299.98" y1="806.70" x2="1237.10" y2="827.14"><stop offset="0.0000" stop-color="#0014ff"/><stop offset="1.0000" stop-color="#00ffff"/></linearGradient><linearGradient id="g438" gradientUnits="userSpaceOnUse" x1="1299.98" y1="732.30" x2="1369.51" y2="732.30"><stop offset="0.0000" stop-color="#0014ff"/><stop offset="1.0000" stop-color="#005cff"/></linearGradient><linearGradient id="g439" gradientUnits="userSpaceOnUse" x1="1299.98" y1="806.70" x2="1366.63" y2="820.54"><stop offset="0.0000" stop-color="#0014ff"/><stop offset="1.0000" stop-color="#0070ff"/></linearGradient><linearGradient id="g440" gradientUnits="userSpaceOnUse" x1="1439.04" y1="732.30" x2="1392.61" y2="819.06"><stop offset="0.0000" stop-color="#0052ff"/><stop offset="1.0000" stop-color="#0070ff"/></linearGradient><linearGradient id="g441" gradientUnits="userSpaceOnUse" x1="1439.04" y1="732.30" x2="1473.42" y2="783.71"><stop offset="0.0000" stop-color="#0052ff"/><stop offset="1.0000" stop-color="#00a3ff"/></linearGradient><linearGradient id="g442" gradientUnits="userSpaceOnUse" x1="1439.04" y1="732.30" x2="1464.75" y2="796.38"><stop offset="0.0000" stop-color="#0052ff"/><stop offset="1.0000" stop-color="#00a3ff"/></linearGradient><linearGradient id="g443" gradientUnits="userSpaceOnUse" x1="1508.56" y1="732.30" x2="1545.61" y2="772.89"><stop offset="0.0000" stop-color="#0070ff"/><stop offset="0.4118" stop-color="#00ffff"/><stop offset="1.0000" stop-color="#00ff33"/></linearGradient><linearGradient id="g444" gradientUnits="userSpaceOnUse" x1="1578.09" y1="806.70" x2="1615.28" y2="768.78"><stop offset="0.0000" stop-color="#0066ff"/><stop offset="1.0000" stop-color="#00e0ff"/></linearGradient><linearGradient id="g445" gradientUnits="userSpaceOnUse" x1="1578.09" y1="806.70" x2="1539.98" y2="841.30"><stop offset="0.0000" stop-color="#0066ff"/><stop offset="0.4286" stop-color="#00ffff"/><stop offset="1.0000" stop-color="#00ff33"/></linearGradient><linearGradient id="g446" gradientUnits="userSpaceOnUse" x1="1578.09" y1="806.70" x2="1663.69" y2="772.42"><stop offset="0.0000" stop-color="#0066ff"/><stop offset="0.3750" stop-color="#00ffff"/><stop offset="1.0000" stop-color="#00ff00"/></linearGradient><linearGradient id="g447" gradientUnits="userSpaceOnUse" x1="1647.62" y1="806.70" x2="1640.45" y2="733.00"><stop offset="0.0000" stop-color="#003dff"/><stop offset="0.4318" stop-color="#00ffff"/><stop offset="1.0000" stop-color="#00ff00"/></linearGradient><linearGradient id="g448" gradientUnits="userSpaceOnUse" x1="1647.62" y1="806.70" x2="1616.67" y2="748.86"><stop offset="0.0000" stop-color="#003dff"/><stop offset="0.4318" stop-color="#00ffff"/><stop offset="1.0000" stop-color="#00ff00"/></linearGradient><linearGradient id="g449" gradientUnits="userSpaceOnUse" x1="1647.62" y1="806.70" x2="1675.19" y2="719.10"><stop offset="0.0000" stop-color="#003dff"/><stop offset="0.8636" stop-color="#00ffff"/><stop offset="1.0000" stop-color="#00ffe0"/></linearGradient><linearGradient id="g450" gradientUnits="userSpaceOnUse" x1="1786.67" y1="732.30" x2="1749.56" y2="697.62"><stop offset="0.0000" stop-color="#0070ff"/><stop offset="0.8235" stop-color="#00ffff"/><stop offset="1.0000" stop-color="#00ffe0"/></linearGradient><linearGradient id="g451" gradientUnits="userSpaceOnUse" x1="1786.67" y1="732.30" x2="1823.79" y2="766.98"><stop offset="0.0000" stop-color="#0070ff"/><stop offset="0.7368" stop-color="#00ffff"/><stop offset="1.0000" stop-color="#00ffcc"/></linearGradient><linearGradient id="g452" gradientUnits="userSpaceOnUse" x1="1856.20" y1="732.30" x2="1822.38" y2="784.98"><stop offset="0.0000" stop-color="#0052ff"/><stop offset="1.0000" stop-color="#0085ff"/></linearGradient><linearGradient id="g453" gradientUnits="userSpaceOnUse" x1="1786.67" y1="732.30" x2="1749.51" y2="771.12"><stop offset="0.0000" stop-color="#0070ff"/><stop offset="0.7368" stop-color="#00ffff"/><stop offset="1.0000" stop-color="#00ffcc"/></linearGradient><linearGradient id="g454" gradientUnits="userSpaceOnUse" x1="1091.40" y1="806.70" x2="1137.67" y2="773.90"><stop offset="0.0000" stop-color="#00f5ff"/><stop offset="0.0172" stop-color="#00ffff"/><stop offset="0.4483" stop-color="#00ff00"/><stop offset="0.8793" stop-color="#ffff00"/><stop offset="1.0000" stop-color="#ffb800"/></linearGradient><linearGradient id="g455" gradientUnits="userSpaceOnUse" x1="1091.40" y1="881.10" x2="1156.96" y2="864.98"><stop offset="0.0000" stop-color="#00c2ff"/><stop offset="0.3158" stop-color="#00ffff"/><stop offset="1.0000" stop-color="#00ff7a"/></linearGradient><linearGradient id="g456" gradientUnits="userSpaceOnUse" x1="1230.45" y1="806.70" x2="1184.72" y2="773.71"><stop offset="0.0000" stop-color="#00ffff"/><stop offset="0.4386" stop-color="#00ff00"/><stop offset="0.8772" stop-color="#ffff00"/><stop offset="1.0000" stop-color="#ffb800"/></linearGradient><linearGradient id="g457" gradientUnits="userSpaceOnUse" x1="1230.45" y1="881.10" x2="1169.79" y2="857.91"><stop offset="0.0000" stop-color="#00a3ff"/><stop offset="0.4091" stop-color="#00ffff"/><stop offset="1.0000" stop-color="#00ff7a"/></linearGradient><linearGradient id="g458" gradientUnits="userSpaceOnUse" x1="1299.98" y1="806.70" x2="1238.66" y2="784.27"><stop offset="0.0000" stop-color="#0014ff"/><stop offset="1.0000" stop-color="#00ffff"/></linearGradient><linearGradient id="g459" gradientUnits="userSpaceOnUse" x1="1299.98" y1="806.70" x2="1218.39" y2="863.89"><stop offset="0.0000" stop-color="#0014ff"/><stop offset="1.0000" stop-color="#00a3ff"/></linearGradient><linearGradient id="g460" gradientUnits="userSpaceOnUse" x1="1299.98" y1="806.70" x2="1350.07" y2="837.90"><stop offset="0.0000" stop-color="#0014ff"/><stop offset="1.0000" stop-color="#0070ff"/></linearGradient><linearGradient id="g461" gradientUnits="userSpaceOnUse" x1="1299.98" y1="881.10" x2="1385.58" y2="841.10"><stop offset="0.0000" stop-color="#0052ff"/><stop offset="1.0000" stop-color="#0070ff"/></linearGradient><linearGradient id="g462" gradientUnits="userSpaceOnUse" x1="1439.04" y1="881.10" x2="1471.72" y2="826.13"><stop offset="0.0000" stop-color="#0047ff"/><stop offset="1.0000" stop-color="#00a3ff"/></linearGradient><linearGradient id="g463" gradientUnits="userSpaceOnUse" x1="1439.04" y1="881.10" x2="1354.53" y2="854.78"><stop offset="0.0000" stop-color="#0047ff"/><stop offset="1.0000" stop-color="#0070ff"/></linearGradient><linearGradient id="g464" gradientUnits="userSpaceOnUse" x1="1439.04" y1="806.70" x2="1492.51" y2="777.40"><stop offset="0.0000" stop-color="#00a3ff"/><stop offset="0.3103" stop-color="#00ffff"/><stop offset="1.0000" stop-color="#00ff33"/></linearGradient><linearGradient id="g465" gradientUnits="userSpaceOnUse" x1="1439.04" y1="881.10" x2="1498.95" y2="857.10"><stop offset="0.0000" stop-color="#0047ff"/><stop offset="0.8571" stop-color="#00ffff"/><stop offset="1.0000" stop-color="#00ffe0"/></linearGradient><linearGradient id="g466" gradientUnits="userSpaceOnUse" x1="1578.09" y1="806.70" x2="1520.44" y2="780.53"><stop offset="0.0000" stop-color="#0066ff"/><stop offset="0.4286" stop-color="#00ffff"/><stop offset="1.0000" stop-color="#00ff33"/></linearGradient><linearGradient id="g467" gradientUnits="userSpaceOnUse" x1="1578.09" y1="806.70" x2="1508.56" y2="806.70"><stop offset="0.0000" stop-color="#0066ff"/><stop offset="0.8333" stop-color="#00ffff"/><stop offset="1.0000" stop-color="#00ffe0"/></linearGradient><linearGradient id="g468" gradientUnits="userSpaceOnUse" x1="1647.62" y1="806.70" x2="1581.69" y2="822.10"><stop offset="0.0000" stop-color="#003dff"/><stop offset="1.0000" stop-color="#0066ff"/></linearGradient><linearGradient id="g469" gradientUnits="userSpaceOnUse" x1="1647.62" y1="881.10" x2="1578.09" y2="881.10"><stop offset="0.0000" stop-color="#0047ff"/><stop offset="1.0000" stop-color="#0066ff"/></linearGradient><linearGradient id="g470" gradientUnits="userSpaceOnUse" x1="1647.62" y1="806.70" x2="1714.80" y2="819.26"><stop offset="0.0000" stop-color="#003dff"/><stop offset="1.0000" stop-color="#0070ff"/></linearGradient><linearGradient id="g471" gradientUnits="userSpaceOnUse" x1="1647.62" y1="881.10" x2="1732.12" y2="854.78"><stop offset="0.0000" stop-color="#0047ff"/><stop offset="1.0000" stop-color="#0070ff"/></linearGradient><linearGradient id="g472" gradientUnits="userSpaceOnUse" x1="1717.15" y1="806.70" x2="1786.01" y2="799.93"><stop offset="0.0000" stop-color="#0070ff"/><stop offset="0.7368" stop-color="#00ffff"/><stop offset="1.0000" stop-color="#00ffcc"/></linearGradient><linearGradient id="g473" gradientUnits="userSpaceOnUse" x1="1717.15" y1="881.10" x2="1786.49" y2="877.50"><stop offset="0.0000" stop-color="#0066ff"/><stop offset="0.8333" stop-color="#00ffff"/><stop offset="1.0000" stop-color="#00ffe0"/></linearGradient><linearGradient id="g474" gradientUnits="userSpaceOnUse" x1="1856.20" y1="806.70" x2="1787.50" y2="799.15"><stop offset="0.0000" stop-color="#0085ff"/><stop offset="0.7059" stop-color="#00ffff"/><stop offset="1.0000" stop-color="#00ffcc"/></linearGradient><linearGradient id="g475" gradientUnits="userSpaceOnUse" x1="1856.20" y1="881.10" x2="1788.32" y2="870.53"><stop offset="0.0000" stop-color="#0066ff"/><stop offset="0.8333" stop-color="#00ffff"/><stop offset="1.0000" stop-color="#00ffe0"/></linearGradient><linearGradient id="g476" gradientUnits="userSpaceOnUse" x1="1160.93" y1="955.50" x2="1195.90" y2="905.62"><stop offset="0.0000" stop-color="#005cff"/><stop offset="0.5517" stop-color="#00ffff"/><stop offset="1.0000" stop-color="#00ff7a"/></linearGradient><linearGradient id="g477" gradientUnits="userSpaceOnUse" x1="1091.40" y1="955.50" x2="1114.94" y2="889.50"><stop offset="0.0000" stop-color="#0029ff"/><stop offset="1.0000" stop-color="#00c2ff"/></linearGradient><linearGradient id="g478" gradientUnits="userSpaceOnUse" x1="1160.93" y1="955.50" x2="1124.52" y2="910.65"><stop offset="0.0000" stop-color="#005cff"/><stop offset="0.5517" stop-color="#00ffff"/><stop offset="1.0000" stop-color="#00ff7a"/></linearGradient><linearGradient id="g479" gradientUnits="userSpaceOnUse" x1="1160.93" y1="955.50" x2="1198.61" y2="867.47"><stop offset="0.0000" stop-color="#005cff"/><stop offset="1.0000" stop-color="#00a3ff"/></linearGradient><linearGradient id="g480" gradientUnits="userSpaceOnUse" x1="1299.98" y1="881.10" x2="1248.14" y2="850.82"><stop offset="0.0000" stop-color="#0052ff"/><stop offset="1.0000" stop-color="#00a3ff"/></linearGradient><linearGradient id="g481" gradientUnits="userSpaceOnUse" x1="1299.98" y1="955.50" x2="1234.05" y2="940.10"><stop offset="0.0000" stop-color="#0047ff"/><stop offset="1.0000" stop-color="#0070ff"/></linearGradient><linearGradient id="g482" gradientUnits="userSpaceOnUse" x1="1299.98" y1="955.50" x2="1385.58" y2="915.50"><stop offset="0.0000" stop-color="#0047ff"/><stop offset="1.0000" stop-color="#0066ff"/></linearGradient><linearGradient id="g483" gradientUnits="userSpaceOnUse" x1="1299.98" y1="955.50" x2="1357.05" y2="982.17"><stop offset="0.0000" stop-color="#0047ff"/><stop offset="1.0000" stop-color="#0085ff"/></linearGradient><linearGradient id="g484" gradientUnits="userSpaceOnUse" x1="1439.04" y1="881.10" x2="1388.95" y2="912.30"><stop offset="0.0000" stop-color="#0047ff"/><stop offset="1.0000" stop-color="#0066ff"/></linearGradient><linearGradient id="g485" gradientUnits="userSpaceOnUse" x1="1439.04" y1="955.50" x2="1392.41" y2="988.18"><stop offset="0.0000" stop-color="#005cff"/><stop offset="1.0000" stop-color="#0085ff"/></linearGradient><linearGradient id="g486" gradientUnits="userSpaceOnUse" x1="1439.04" y1="881.10" x2="1476.15" y2="846.42"><stop offset="0.0000" stop-color="#0047ff"/><stop offset="0.8571" stop-color="#00ffff"/><stop offset="1.0000" stop-color="#00ffe0"/></linearGradient><linearGradient id="g487" gradientUnits="userSpaceOnUse" x1="1439.04" y1="881.10" x2="1401.92" y2="915.78"><stop offset="0.0000" stop-color="#0047ff"/><stop offset="1.0000" stop-color="#005cff"/></linearGradient><linearGradient id="g488" gradientUnits="userSpaceOnUse" x1="1508.56" y1="955.50" x2="1471.50" y2="915.09"><stop offset="0.0000" stop-color="#0047ff"/><stop offset="0.8571" stop-color="#00ffff"/><stop offset="1.0000" stop-color="#00ffe0"/></linearGradient><linearGradient id="g489" gradientUnits="userSpaceOnUse" x1="1578.09" y1="955.50" x2="1559.52" y2="886.07"><stop offset="0.0000" stop-color="#003dff"/><stop offset="1.0000" stop-color="#0066ff"/></linearGradient><linearGradient id="g490" gradientUnits="userSpaceOnUse" x1="1578.09" y1="955.50" x2="1541.77" y2="910.25"><stop offset="0.0000" stop-color="#003dff"/><stop offset="1.0000" stop-color="#0066ff"/></linearGradient><linearGradient id="g491" gradientUnits="userSpaceOnUse" x1="1578.09" y1="955.50" x2="1621.37" y2="989.20"><stop offset="0.0000" stop-color="#003dff"/><stop offset="1.0000" stop-color="#007aff"/></linearGradient><linearGradient id="g492" gradientUnits="userSpaceOnUse" x1="1647.62" y1="881.10" x2="1681.44" y2="933.78"><stop offset="0.0000" stop-color="#0047ff"/><stop offset="1.0000" stop-color="#007aff"/></linearGradient><linearGradient id="g493" gradientUnits="userSpaceOnUse" x1="1717.15" y1="955.50" x2="1670.52" y2="922.82"><stop offset="0.0000" stop-color="#0029ff"/><stop offset="1.0000" stop-color="#007aff"/></linearGradient><linearGradient id="g494" gradientUnits="userSpaceOnUse" x1="1786.67" y1="955.50" x2="1823.55" y2="913.38"><stop offset="0.0000" stop-color="#003dff"/><stop offset="0.8636" stop-color="#00ffff"/><stop offset="1.0000" stop-color="#00ffe0"/></linearGradient><linearGradient id="g495" gradientUnits="userSpaceOnUse" x1="1717.15" y1="955.50" x2="1740.69" y2="889.50"><stop offset="0.0000" stop-color="#0029ff"/><stop offset="1.0000" stop-color="#0066ff"/></linearGradient><linearGradient id="g496" gradientUnits="userSpaceOnUse" x1="1786.67" y1="955.50" x2="1749.80" y2="913.38"><stop offset="0.0000" stop-color="#003dff"/><stop offset="0.8636" stop-color="#00ffff"/><stop offset="1.0000" stop-color="#00ffe0"/></linearGradient><linearGradient id="g497" gradientUnits="userSpaceOnUse" x1="1786.67" y1="955.50" x2="1853.85" y2="968.06"><stop offset="0.0000" stop-color="#003dff"/><stop offset="1.0000" stop-color="#0070ff"/></linearGradient><linearGradient id="g498" gradientUnits="userSpaceOnUse" x1="1091.40" y1="955.50" x2="1136.00" y2="988.84"><stop offset="0.0000" stop-color="#0029ff"/><stop offset="1.0000" stop-color="#005cff"/></linearGradient><linearGradient id="g499" gradientUnits="userSpaceOnUse" x1="1091.40" y1="1029.90" x2="1160.93" y2="1029.90"><stop offset="0.0000" stop-color="#0052ff"/><stop offset="1.0000" stop-color="#005cff"/></linearGradient><linearGradient id="g500" gradientUnits="userSpaceOnUse" x1="1160.93" y1="955.50" x2="1218.00" y2="928.83"><stop offset="0.0000" stop-color="#005cff"/><stop offset="1.0000" stop-color="#0070ff"/></linearGradient><linearGradient id="g501" gradientUnits="userSpaceOnUse" x1="1160.93" y1="955.50" x2="1230.45" y2="955.50"><stop offset="0.0000" stop-color="#005cff"/><stop offset="1.0000" stop-color="#0066ff"/></linearGradient><linearGradient id="g502" gradientUnits="userSpaceOnUse" x1="1299.98" y1="955.50" x2="1242.91" y2="982.17"><stop offset="0.0000" stop-color="#0047ff"/><stop offset="1.0000" stop-color="#0070ff"/></linearGradient><linearGradient id="g503" gradientUnits="userSpaceOnUse" x1="1299.98" y1="1029.90" x2="1225.75" y2="960.53"><stop offset="0.0000" stop-color="#005cff"/><stop offset="1.0000" stop-color="#0070ff"/></linearGradient><linearGradient id="g504" gradientUnits="userSpaceOnUse" x1="1299.98" y1="955.50" x2="1357.05" y2="928.83"><stop offset="0.0000" stop-color="#0047ff"/><stop offset="1.0000" stop-color="#0085ff"/></linearGradient><linearGradient id="g505" gradientUnits="userSpaceOnUse" x1="1299.98" y1="955.50" x2="1346.40" y2="1042.26"><stop offset="0.0000" stop-color="#0047ff"/><stop offset="1.0000" stop-color="#0066ff"/></linearGradient><linearGradient id="g506" gradientUnits="userSpaceOnUse" x1="1439.04" y1="955.50" x2="1392.41" y2="922.82"><stop offset="0.0000" stop-color="#005cff"/><stop offset="1.0000" stop-color="#0085ff"/></linearGradient><linearGradient id="g507" gradientUnits="userSpaceOnUse" x1="1439.04" y1="955.50" x2="1439.04" y2="1029.90"><stop offset="0.0000" stop-color="#005cff"/><stop offset="1.0000" stop-color="#0066ff"/></linearGradient><linearGradient id="g508" gradientUnits="userSpaceOnUse" x1="1508.56" y1="955.50" x2="1477.62" y2="1013.34"><stop offset="0.0000" stop-color="#0047ff"/><stop offset="1.0000" stop-color="#0070ff"/></linearGradient><linearGradient id="g509" gradientUnits="userSpaceOnUse" x1="1439.04" y1="955.50" x2="1513.27" y2="1024.87"><stop offset="0.0000" stop-color="#005cff"/><stop offset="1.0000" stop-color="#0070ff"/></linearGradient><linearGradient id="g510" gradientUnits="userSpaceOnUse" x1="1578.09" y1="955.50" x2="1554.55" y2="1021.50"><stop offset="0.0000" stop-color="#003dff"/><stop offset="1.0000" stop-color="#005cff"/></linearGradient><linearGradient id="g511" gradientUnits="userSpaceOnUse" x1="1508.56" y1="955.50" x2="1477.62" y2="1013.34"><stop offset="0.0000" stop-color="#0047ff"/><stop offset="1.0000" stop-color="#0070ff"/></linearGradient><linearGradient id="g512" gradientUnits="userSpaceOnUse" x1="1578.09" y1="955.50" x2="1635.16" y2="982.17"><stop offset="0.0000" stop-color="#003dff"/><stop offset="1.0000" stop-color="#007aff"/></linearGradient><linearGradient id="g513" gradientUnits="userSpaceOnUse" x1="1578.09" y1="1029.90" x2="1624.51" y2="943.14"><stop offset="0.0000" stop-color="#005cff"/><stop offset="1.0000" stop-color="#007aff"/></linearGradient><linearGradient id="g514" gradientUnits="userSpaceOnUse" x1="1717.15" y1="955.50" x2="1651.22" y2="940.10"><stop offset="0.0000" stop-color="#0029ff"/><stop offset="1.0000" stop-color="#007aff"/></linearGradient><linearGradient id="g515" gradientUnits="userSpaceOnUse" x1="1717.15" y1="955.50" x2="1636.53" y2="970.57"><stop offset="0.0000" stop-color="#0029ff"/><stop offset="1.0000" stop-color="#0066ff"/></linearGradient><linearGradient id="g516" gradientUnits="userSpaceOnUse" x1="1717.15" y1="955.50" x2="1774.21" y2="982.17"><stop offset="0.0000" stop-color="#0029ff"/><stop offset="1.0000" stop-color="#003dff"/></linearGradient><linearGradient id="g517" gradientUnits="userSpaceOnUse" x1="1717.15" y1="1029.90" x2="1774.21" y2="1056.57"><stop offset="0.0000" stop-color="#0033ff"/><stop offset="1.0000" stop-color="#0047ff"/></linearGradient><linearGradient id="g518" gradientUnits="userSpaceOnUse" x1="1786.67" y1="955.50" x2="1847.68" y2="932.70"><stop offset="0.0000" stop-color="#003dff"/><stop offset="1.0000" stop-color="#0070ff"/></linearGradient><linearGradient id="g519" gradientUnits="userSpaceOnUse" x1="1786.67" y1="955.50" x2="1872.27" y2="995.50"><stop offset="0.0000" stop-color="#003dff"/><stop offset="1.0000" stop-color="#005cff"/></linearGradient></defs>
<rect x="103.40" y="24.40" width="764.80" height="446.40" fill="#0099ff"/>
<g shape-rendering="crispEdges"><polygon points="103.40,24.40 172.93,24.40 172.93,98.80" fill="url(#g1)"/><polygon points="103.40,24.40 172.93,98.80 103.40,98.80" fill="url(#g2)"/><polygon points="172.93,24.40 242.45,24.40 242.45,98.80" fill="url(#g3)"/><polygon points="172.93,24.40 242.45,98.80 172.93,98.80" fill="url(#g4)"/><polygon points="242.45,24.40 311.98,24.40 311.98,98.80" fill="url(#g5)"/><polygon points="242.45,24.40 311.98,98.80 242.45,98.80" fill="url(#g6)"/><polygon points="311.98,24.40 381.51,24.40 381.51,98.80" fill="url(#g7)"/><polygon points="311.98,24.40 381.51,98.80 311.98,98.80" fill="url(#g8)"/><polygon points="381.51,24.40 451.04,24.40 451.04,98.80" fill="url(#g9)"/><polygon points="381.51,24.40 451.04,98.80 381.51,98.80" fill="url(#g10)"/><polygon points="451.04,24.40 520.56,24.40 451.04,98.80" fill="url(#g11)"/><polygon points="520.56,24.40 520.56,98.80 451.04,98.80" fill="url(#g12)"/><polygon points="520.56,24.40 590.09,24.40 520.56,98.80" fill="url(#g13)"/><polygon points="590.09,24.40 590.09,98.80 520.56,98.80" fill="url(#g14)"/><polygon points="590.09,24.40 659.62,24.40 590.09,98.80" fill="url(#g15)"/><polygon points="659.62,24.40 659.62,98.80 590.09,98.80" fill="url(#g16)"/><polygon points="659.62,24.40 729.15,24.40 729.15,98.80" fill="url(#g17)"/><polygon points="659.62,24.40 729.15,98.80 659.62,98.80" fill="url(#g18)"/><polygon points="729.15,24.40 798.67,24.40 798.67,98.80" fill="url(#g19)"/><polygon points="729.15,24.40 798.67,98.80 729.15,98.80" fill="url(#g20)"/><polygon points="798.67,24.40 868.20,24.40 798.67,98.80" fill="url(#g21)"/><polygon points="868.20,24.40 868.20,98.80 798.67,98.80" fill="url(#g22)"/><polygon points="103.40,98.80 172.93,98.80 103.40,173.20" fill="url(#g23)"/><polygon points="172.93,98.80 172.93,173.20 103.40,173.20" fill="url(#g24)"/><polygon points="172.93,98.80 242.45,98.80 242.45,173.20" fill="url(#g25)"/><polygon points="172.93,98.80 242.45,173.20 172.93,173.20" fill="url(#g26)"/><polygon points="242.45,98.80 311.98,98.80 311.98,173.20" fill="url(#g27)"/><polygon points="242.45,98.80 311.98,173.20 242.45,173.20" fill="url(#g28)"/><polygon points="311.98,98.80 381.51,98.80 381.51,173.20" fill="url(#g29)"/><polygon points="311.98,98.80 381.51,173.20 311.98,173.20" fill="url(#g30)"/><polygon points="381.51,98.80 451.04,98.80 451.04,173.20" fill="url(#g31)"/><polygon points="381.51,98.80 451.04,173.20 381.51,173.20" fill="url(#g32)"/><polygon points="451.04,98.80 520.56,98.80 520.56,173.20" fill="url(#g33)"/><polygon points="451.04,98.80 520.56,173.20 451.04,173.20" fill="url(#g34)"/><polygon points="520.56,98.80 590.09,98.80 590.09,173.20" fill="url(#g35)"/><polygon points="520.56,98.80 590.09,173.20 520.56,173.20" fill="url(#g36)"/><polygon points="590.09,98.80 659.62,98.80 659.62,173.20" fill="url(#g37)"/><polygon points="590.09,98.80 659.62,173.20 590.09,173.20" fill="url(#g38)"/><polygon points="659.62,98.80 729.15,98.80 659.62,173.20" fill="url(#g39)"/><polygon points="729.15,98.80 729.15,173.20 659.62,173.20" fill="url(#g40)"/><polygon points="729.15,98.80 798.67,98.80 798.67,173.20" fill="url(#g41)"/><polygon points="729.15,98.80 798.67,173.20 729.15,173.20" fill="url(#g42)"/><polygon points="798.67,98.80 868.20,98.80 868.20,173.20" fill="url(#g43)"/><polygon points="798.67,98.80 868.20,173.20 798.67,173.20" fill="url(#g44)"/><polygon points="103.40,173.20 172.93,173.20 103.40,247.60" fill="url(#g45)"/><polygon points="172.93,173.20 172.93,247.60 103.40,247.60" fill="url(#g46)"/><polygon points="172.93,173.20 242.45,173.20 242.45,247.60" fill="url(#g47)"/><polygon points="172.93,173.20 242.45,247.60 172.93,247.60" fill="url(#g48)"/><polygon points="242.45,173.20 311.98,173.20 311.98,247.60" fill="url(#g49)"/><polygon points="242.45,173.20 311.98,247.60 242.45,247.60" fill="url(#g50)"/><polygon points="311.98,173.20 381.51,173.20 311.98,247.60" fill="url(#g51)"/><polygon points="381.51,173.20 381.51,247.60 311.98,247.60" fill="url(#g52)"/><polygon points="381.51,173.20 451.04,173.20 381.51,247.60" fill="url(#g53)"/><polygon points="451.04,173.20 451.04,247.60 381.51,247.60" fill="url(#g54)"/><polygon points="451.04,173.20 520.56,173.20 451.04,247.60" fill="url(#g55)"/><polygon points="520.56,173.20 520.56,247.60 451.04,247.60" fill="url(#g56)"/><polygon points="520.56,173.20 590.09,173.20 590.09,247.60" fill="url(#g57)"/><polygon points="520.56,173.20 590.09,247.60 520.56,247.60" fill="url(#g58)"/><polygon points="590.09,173.20 659.62,173.20 590.09,247.60" fill="url(#g59)"/><polygon points="659.62,173.20 659.62,247.60 590.09,247.60" fill="url(#g60)"/><polygon points="659.62,173.20 729.15,173.20 729.15,247.60" fill="url(#g61)"/><polygon points="659.62,173.20 729.15,247.60 659.62,247.60" fill="url(#g62)"/><polygon points="729.15,173.20 798.67,173.20 729.15,247.60" fill="url(#g63)"/><polygon points="798.67,173.20 798.67,247.60 729.15,247.60" fill="url(#g64)"/><polygon points="798.67,173.20 868.20,173.20 868.20,247.60" fill="url(#g65)"/><polygon points="798.67,173.20 868.20,247.60 798.67,247.60" fill="url(#g66)"/><polygon points="103.40,247.60 172.93,247.60 172.93,322.00" fill="url(#g67)"/><polygon points="103.40,247.60 172.93,322.00 103.40,322.00" fill="url(#g68)"/><polygon points="172.93,247.60 242.45,247.60 172.93,322.00" fill="url(#g69)"/><polygon points="242.45,247.60 242.45,322.00 172.93,322.00" fill="url(#g70)"/><polygon points="242.45,247.60 311.98,247.60 242.45,322.00" fill="url(#g71)"/><polygon points="311.98,247.60 311.98,322.00 242.45,322.00" fill="url(#g72)"/><polygon points="311.98,247.60 381.51,247.60 311.98,322.00" fill="url(#g73)"/><polygon points="381.51,247.60 381.51,322.00 311.98,322.00" fill="url(#g74)"/><polygon points="381.51,247.60 451.04,247.60 451.04,322.00" fill="url(#g75)"/><polygon points="381.51,247.60 451.04,322.00 381.51,322.00" fill="url(#g76)"/><polygon points="451.04,247.60 520.56,247.60 520.56,322.00" fill="url(#g77)"/><polygon points="451.04,247.60 520.56,322.00 451.04,322.00" fill="url(#g78)"/><polygon points="520.56,247.60 590.09,247.60 520.56,322.00" fill="url(#g79)"/><polygon points="590.09,247.60 590.09,322.00 520.56,322.00" fill="url(#g80)"/><polygon points="590.09,247.60 659.62,247.60 590.09,322.00" fill="url(#g81)"/><polygon points="659.62,247.60 659.62,322.00 590.09,322.00" fill="url(#g82)"/><polygon points="659.62,247.60 729.15,247.60 729.15,322.00" fill="url(#g83)"/><polygon points="659.62,247.60 729.15,322.00 659.62,322.00" fill="url(#g84)"/><polygon points="729.15,247.60 798.67,247.60 798.67,322.00" fill="url(#g85)"/><polygon points="729.15,247.60 798.67,322.00 729.15,322.00" fill="url(#g86)"/><polygon points="798.67,247.60 868.20,247.60 798.67,322.00" fill="url(#g87)"/><polygon points="868.20,247.60 868.20,322.00 798.67,322.00" fill="url(#g88)"/><polygon points="103.40,322.00 172.93,322.00 172.93,396.40" fill="url(#g89)"/><polygon points="103.40,322.00 172.93,396.40 103.40,396.40" fill="url(#g90)"/><polygon points="172.93,322.00 242.45,322.00 172.93,396.40" fill="url(#g91)"/><polygon points="242.45,322.00 242.45,396.40 172.93,396.40" fill="url(#g92)"/><polygon points="242.45,322.00 311.98,322.00 242.45,396.40" fill="url(#g93)"/><polygon points="311.98,322.00 311.98,396.40 242.45,396.40" fill="url(#g94)"/><polygon points="311.98,322.00 381.51,322.00 381.51,396.40" fill="url(#g95)"/><polygon points="311.98,322.00 381.51,396.40 311.98,396.40" fill="url(#g96)"/><polygon points="381.51,322.00 451.04,322.00 451.04,396.40" fill="url(#g97)"/><polygon points="381.51,322.00 451.04,396.40 381.51,396.40" fill="url(#g98)"/><polygon points="451.04,322.00 520.56,322.00 520.56,396.40" fill="url(#g99)"/><polygon points="451.04,322.00 520.56,396.40 451.04,396.40" fill="url(#g100)"/><polygon points="520.56,322.00 590.09,322.00 520.56,396.40" fill="url(#g101)"/><polygon points="590.09,322.00 590.09,396.40 520.56,396.40" fill="url(#g102)"/><polygon points="590.09,322.00 659.62,322.00 590.09,396.40" fill="url(#g103)"/><polygon points="659.62,322.00 659.62,396.40 590.09,396.40" fill="url(#g104)"/><polygon points="659.62,322.00 729.15,322.00 729.15,396.40" fill="url(#g105)"/><polygon points="659.62,322.00 729.15,396.40 659.62,396.40" fill="url(#g106)"/><polygon points="729.15,322.00 798.67,322.00 798.67,396.40" fill="url(#g107)"/><polygon points="729.15,322.00 798.67,396.40 729.15,396.40" fill="url(#g108)"/><polygon points="798.67,322.00 868.20,322.00 798.67,396.40" fill="url(#g109)"/><polygon points="868.20,322.00 868.20,396.40 798.67,396.40" fill="url(#g110)"/><polygon points="103.40,396.40 172.93,396.40 172.93,470.80" fill="url(#g111)"/><polygon points="103.40,396.40 172.93,470.80 103.40,470.80" fill="url(#g112)"/><polygon points="172.93,396.40 242.45,396.40 242.45,470.80" fill="url(#g113)"/><polygon points="172.93,396.40 242.45,470.80 172.93,470.80" fill="url(#g114)"/><polygon points="242.45,396.40 311.98,396.40 311.98,470.80" fill="url(#g115)"/><polygon points="242.45,396.40 311.98,470.80 242.45,470.80" fill="#0066ff"/><polygon points="311.98,396.40 381.51,396.40 311.98,470.80" fill="url(#g116)"/><polygon points="381.51,396.40 381.51,470.80 311.98,470.80" fill="url(#g117)"/><polygon points="381.51,396.40 451.04,396.40 381.51,470.80" fill="url(#g118)"/><polygon points="451.04,396.40 451.04,470.80 381.51,470.80" fill="#0066ff"/><polygon points="451.04,396.40 520.56,396.40 520.56,470.80" fill="#0066ff"/><polygon points="451.04,396.40 520.56,470.80 451.04,470.80" fill="#0066ff"/><polygon points="520.56,396.40 590.09,396.40 590.09,470.80" fill="url(#g119)"/><polygon points="520.56,396.40 590.09,470.80 520.56,470.80" fill="#0066ff"/><polygon points="590.09,396.40 659.62,396.40 590.09,470.80" fill="url(#g120)"/><polygon points="659.62,396.40 659.62,470.80 590.09,470.80" fill="url(#g121)"/><polygon points="659.62,396.40 729.15,396.40 729.15,470.80" fill="url(#g122)"/><polygon points="659.62,396.40 729.15,470.80 659.62,470.80" fill="url(#g123)"/><polygon points="729.15,396.40 798.67,396.40 729.15,470.80" fill="url(#g124)"/><polygon points="798.67,396.40 798.67,470.80 729.15,470.80" fill="url(#g125)"/><polygon points="798.67,396.40 868.20,396.40 868.20,470.80" fill="url(#g126)"/><polygon points="798.67,396.40 868.20,470.80 798.67,470.80" fill="url(#g127)"/></g>
<rect x="1091.40" y="24.40" width="764.80" height="446.40" fill="#0099ff"/>
<g shape-rendering="crispEdges"><polygon points="1091.40,24.40 1160.93,24.40 1160.93,98.80" fill="url(#g128)"/><polygon points="1091.40,24.40 1160.93,98.80 1091.40,98.80" fill="url(#g129)"/><polygon points="1160.93,24.40 1230.45,24.40 1160.93,98.80" fill="url(#g130)"/><polygon points="1230.45,24.40 1230.45,98.80 1160.93,98.80" fill="url(#g131)"/><polygon points="1230.45,24.40 1299.98,24.40 1230.45,98.80" fill="url(#g132)"/><polygon points="1299.98,24.40 1299.98,98.80 1230.45,98.80" fill="url(#g133)"/><polygon points="1299.98,24.40 1369.51,24.40 1369.51,98.80" fill="url(#g134)"/><polygon points="1299.98,24.40 1369.51,98.80 1299.98,98.80" fill="url(#g135)"/><polygon points="1369.51,24.40 1439.04,24.40 1439.04,98.80" fill="url(#g136)"/><polygon points="1369.51,24.40 1439.04,98.80 1369.51,98.80" fill="url(#g137)"/><polygon points="1439.04,24.40 1508.56,24.40 1508.56,98.80" fill="url(#g138)"/><polygon points="1439.04,24.40 1508.56,98.80 1439.04,98.80" fill="url(#g139)"/><polygon points="1508.56,24.40 1578.09,24.40 1508.56,98.80" fill="url(#g140)"/><polygon points="1578.09,24.40 1578.09,98.80 1508.56,98.80" fill="url(#g141)"/><polygon points="1578.09,24.40 1647.62,24.40 1578.09,98.80" fill="url(#g142)"/><polygon points="1647.62,24.40 1647.62,98.80 1578.09,98.80" fill="url(#g143)"/><polygon points="1647.62,24.40 1717.15,24.40 1717.15,98.80" fill="url(#g144)"/><polygon points="1647.62,24.40 1717.15,98.80 1647.62,98.80" fill="url(#g145)"/><polygon points="1717.15,24.40 1786.67,24.40 1786.67,98.80" fill="url(#g146)"/><polygon points="1717.15,24.40 1786.67,98.80 1717.15,98.80" fill="url(#g147)"/><polygon points="1786.67,24.40 1856.20,24.40 1856.20,98.80" fill="url(#g148)"/><polygon points="1786.67,24.40 1856.20,98.80 1786.67,98.80" fill="url(#g149)"/><polygon points="1091.40,98.80 1160.93,98.80 1091.40,173.20" fill="url(#g150)"/><polygon points="1160.93,98.80 1160.93,173.20 1091.40,173.20" fill="url(#g151)"/><polygon points="1160.93,98.80 1230.45,98.80 1230.45,173.20" fill="url(#g152)"/><polygon points="1160.93,98.80 1230.45,173.20 1160.93,173.20" fill="url(#g153)"/><polygon points="1230.45,98.80 1299.98,98.80 1299.98,173.20" fill="url(#g154)"/><polygon points="1230.45,98.80 1299.98,173.20 1230.45,173.20" fill="url(#g155)"/><polygon points="1299.98,98.80 1369.51,98.80 1369.51,173.20" fill="url(#g156)"/><polygon points="1299.98,98.80 1369.51,173.20 1299.98,173.20" fill="url(#g157)"/><polygon points="1369.51,98.80 1439.04,98.80 1369.51,173.20" fill="url(#g158)"/><polygon points="1439.04,98.80 1439.04,173.20 1369.51,173.20" fill="url(#g159)"/><polygon points="1439.04,98.80 1508.56,98.80 1439.04,173.20" fill="url(#g160)"/><polygon points="1508.56,98.80 1508.56,173.20 1439.04,173.20" fill="url(#g161)"/><polygon points="1508.56,98.80 1578.09,98.80 1578.09,173.20" fill="url(#g162)"/><polygon points="1508.56,98.80 1578.09,173.20 1508.56,173.20" fill="url(#g163)"/><polygon points="1578.09,98.80 1647.62,98.80 1647.62,173.20" fill="url(#g164)"/><polygon points="1578.09,98.80 1647.62,173.20 1578.09,173.20" fill="url(#g165)"/><polygon points="1647.62,98.80 1717.15,98.80 1647.62,173.20" fill="url(#g166)"/><polygon points="1717.15,98.80 1717.15,173.20 1647.62,173.20" fill="url(#g167)"/><polygon points="1717.15,98.80 1786.67,98.80 1786.67,173.20" fill="url(#g168)"/><polygon points="1717.15,98.80 1786.67,173.20 1717.15,173.20" fill="url(#g169)"/><polygon points="1786.67,98.80 1856.20,98.80 1856.20,173.20" fill="url(#g170)"/><polygon points="1786.67,98.80 1856.20,173.20 1786.67,173.20" fill="url(#g171)"/><polygon points="1091.40,173.20 1160.93,173.20 1091.40,247.60" fill="url(#g172)"/><polygon points="1160.93,173.20 1160.93,247.60 1091.40,247.60" fill="url(#g173)"/><polygon points="1160.93,173.20 1230.45,173.20 1230.45,247.60" fill="url(#g174)"/><polygon points="1160.93,173.20 1230.45,247.60 1160.93,247.60" fill="url(#g175)"/><polygon points="1230.45,173.20 1299.98,173.20 1299.98,247.60" fill="url(#g176)"/><polygon points="1230.45,173.20 1299.98,247.60 1230.45,247.60" fill="url(#g177)"/><polygon points="1299.98,173.20 1369.51,173.20 1299.98,247.60" fill="url(#g178)"/><polygon points="1369.51,173.20 1369.51,247.60 1299.98,247.60" fill="url(#g179)"/><polygon points="1369.51,173.20 1439.04,173.20 1369.51,247.60" fill="url(#g180)"/><polygon points="1439.04,173.20 1439.04,247.60 1369.51,247.60" fill="url(#g181)"/><polygon points="1439.04,173.20 1508.56,173.20 1439.04,247.60" fill="url(#g182)"/><polygon points="1508.56,173.20 1508.56,247.60 1439.04,247.60" fill="url(#g183)"/><polygon points="1508.56,173.20 1578.09,173.20 1508.56,247.60" fill="url(#g184)"/><polygon points="1578.09,173.20 1578.09,247.60 1508.56,247.60" fill="url(#g185)"/><polygon points="1578.09,173.20 1647.62,173.20 1578.09,247.60" fill="url(#g186)"/><polygon points="1647.62,173.20 1647.62,247.60 1578.09,247.60" fill="url(#g187)"/><polygon points="1647.62,173.20 1717.15,173.20 1647.62,247.60" fill="url(#g188)"/><polygon points="1717.15,173.20 1717.15,247.60 1647.62,247.60" fill="url(#g189)"/><polygon points="1717.15,173.20 1786.67,173.20 1717.15,247.60" fill="url(#g190)"/><polygon points="1786.67,173.20 1786.67,247.60 1717.15,247.60" fill="url(#g191)"/><polygon points="1786.67,173.20 1856.20,173.20 1856.20,247.60" fill="url(#g192)"/><polygon points="1786.67,173.20 1856.20,247.60 1786.67,247.60" fill="url(#g193)"/><polygon points="1091.40,247.60 1160.93,247.60 1160.93,322.00" fill="url(#g194)"/><polygon points="1091.40,247.60 1160.93,322.00 1091.40,322.00" fill="url(#g195)"/><polygon points="1160.93,247.60 1230.45,247.60 1160.93,322.00" fill="url(#g196)"/><polygon points="1230.45,247.60 1230.45,322.00 1160.93,322.00" fill="url(#g197)"/><polygon points="1230.45,247.60 1299.98,247.60 1230.45,322.00" fill="url(#g198)"/><polygon points="1299.98,247.60 1299.98,322.00 1230.45,322.00" fill="url(#g199)"/><polygon points="1299.98,247.60 1369.51,247.60 1369.51,322.00" fill="url(#g200)"/><polygon points="1299.98,247.60 1369.51,322.00 1299.98,322.00" fill="url(#g201)"/><polygon points="1369.51,247.60 1439.04,247.60 1439.04,322.00" fill="url(#g202)"/><polygon points="1369.51,247.60 1439.04,322.00 1369.51,322.00" fill="url(#g203)"/><polygon points="1439.04,247.60 1508.56,247.60 1508.56,322.00" fill="url(#g204)"/><polygon points="1439.04,247.60 1508.56,322.00 1439.04,322.00" fill="url(#g205)"/><polygon points="1508.56,247.60 1578.09,247.60 1508.56,322.00" fill="url(#g206)"/><polygon points="1578.09,247.60 1578.09,322.00 1508.56,322.00" fill="url(#g207)"/><polygon points="1578.09,247.60 1647.62,247.60 1578.09,322.00" fill="url(#g208)"/><polygon points="1647.62,247.60 1647.62,322.00 1578.09,322.00" fill="url(#g209)"/><polygon points="1647.62,247.60 1717.15,247.60 1647.62,322.00" fill="url(#g210)"/><polygon points="1717.15,247.60 1717.15,322.00 1647.62,322.00" fill="url(#g211)"/><polygon points="1717.15,247.60 1786.67,247.60 1786.67,322.00" fill="url(#g212)"/><polygon points="1717.15,247.60 1786.67,322.00 1717.15,322.00" fill="url(#g213)"/><polygon points="1786.67,247.60 1856.20,247.60 1786.67,322.00" fill="url(#g214)"/><polygon points="1856.20,247.60 1856.20,322.00 1786.67,322.00" fill="url(#g215)"/><polygon points="1091.40,322.00 1160.93,322.00 1160.93,396.40" fill="url(#g216)"/><polygon points="1091.40,322.00 1160.93,396.40 1091.40,396.40" fill="url(#g217)"/><polygon points="1160.93,322.00 1230.45,322.00 1160.93,396.40" fill="url(#g218)"/><polygon points="1230.45,322.00 1230.45,396.40 1160.93,396.40" fill="url(#g219)"/><polygon points="1230.45,322.00 1299.98,322.00 1230.45,396.40" fill="url(#g220)"/><polygon points="1299.98,322.00 1299.98,396.40 1230.45,396.40" fill="url(#g221)"/><polygon points="1299.98,322.00 1369.51,322.00 1299.98,396.40" fill="url(#g222)"/><polygon points="1369.51,322.00 1369.51,396.40 1299.98,396.40" fill="url(#g223)"/><polygon points="1369.51,322.00 1439.04,322.00 1439.04,396.40" fill="url(#g224)"/><polygon points="1369.51,322.00 1439.04,396.40 1369.51,396.40" fill="url(#g225)"/><polygon points="1439.04,322.00 1508.56,322.00 1508.56,396.40" fill="url(#g226)"/><polygon points="1439.04,322.00 1508.56,396.40 1439.04,396.40" fill="url(#g227)"/><polygon points="1508.56,322.00 1578.09,322.00 1508.56,396.40" fill="url(#g228)"/><polygon points="1578.09,322.00 1578.09,396.40 1508.56,396.40" fill="url(#g229)"/><polygon points="1578.09,322.00 1647.62,322.00 1578.09,396.40" fill="url(#g230)"/><polygon points="1647.62,322.00 1647.62,396.40 1578.09,396.40" fill="url(#g231)"/><polygon points="1647.62,322.00 1717.15,322.00 1717.15,396.40" fill="url(#g232)"/><polygon points="1647.62,322.00 1717.15,396.40 1647.62,396.40" fill="url(#g233)"/><polygon points="1717.15,322.00 1786.67,322.00 1786.67,396.40" fill="url(#g234)"/><polygon points="1717.15,322.00 1786.67,396.40 1717.15,396.40" fill="url(#g235)"/><polygon points="1786.67,322.00 1856.20,322.00 1786.67,396.40" fill="url(#g236)"/><polygon points="1856.20,322.00 1856.20,396.40 1786.67,396.40" fill="url(#g237)"/><polygon points="1091.40,396.40 1160.93,396.40 1160.93,470.80" fill="url(#g238)"/><polygon points="1091.40,396.40 1160.93,470.80 1091.40,470.80" fill="url(#g239)"/><polygon points="1160.93,396.40 1230.45,396.40 1160.93,470.80" fill="url(#g240)"/><polygon points="1230.45,396.40 1230.45,470.80 1160.93,470.80" fill="url(#g241)"/><polygon points="1230.45,396.40 1299.98,396.40 1230.45,470.80" fill="url(#g242)"/><polygon points="1299.98,396.40 1299.98,470.80 1230.45,470.80" fill="url(#g243)"/><polygon points="1299.98,396.40 1369.51,396.40 1369.51,470.80" fill="url(#g244)"/><polygon points="1299.98,396.40 1369.51,470.80 1299.98,470.80" fill="url(#g245)"/><polygon points="1369.51,396.40 1439.04,396.40 1369.51,470.80" fill="url(#g246)"/><polygon points="1439.04,396.40 1439.04,470.80 1369.51,470.80" fill="url(#g247)"/><polygon points="1439.04,396.40 1508.56,396.40 1439.04,470.80" fill="url(#g248)"/><polygon points="1508.56,396.40 1508.56,470.80 1439.04,470.80" fill="url(#g249)"/><polygon points="1508.56,396.40 1578.09,396.40 1578.09,470.80" fill="url(#g250)"/><polygon points="1508.56,396.40 1578.09,470.80 1508.56,470.80" fill="url(#g251)"/><polygon points="1578.09,396.40 1647.62,396.40 1578.09,470.80" fill="url(#g252)"/><polygon points="1647.62,396.40 1647.62,470.80 1578.09,470.80" fill="url(#g253)"/><polygon points="1647.62,396.40 1717.15,396.40 1647.62,470.80" fill="url(#g254)"/><polygon points="1717.15,396.40 1717.15,470.80 1647.62,470.80" fill="url(#g255)"/><polygon points="1717.15,396.40 1786.67,396.40 1717.15,470.80" fill="url(#g256)"/><polygon points="1786.67,396.40 1786.67,470.80 1717.15,470.80" fill="url(#g257)"/><polygon points="1786.67,396.40 1856.20,396.40 1856.20,470.80" fill="url(#g258)"/><polygon points="1786.67,396.40 1856.20,470.80 1786.67,470.80" fill="url(#g259)"/></g>
<rect x="103.40" y="583.50" width="764.80" height="446.40" fill="#0099ff"/>
<g shape-rendering="crispEdges"><polygon points="103.40,583.50 172.93,583.50 172.93,657.90" fill="url(#g260)"/><polygon points="103.40,583.50 172.93,657.90 103.40,657.90" fill="url(#g261)"/><polygon points="172.93,583.50 242.45,583.50 242.45,657.90" fill="url(#g262)"/><polygon points="172.93,583.50 242.45,657.90 172.93,657.90" fill="url(#g263)"/><polygon points="242.45,583.50 311.98,583.50 311.98,657.90" fill="url(#g264)"/><polygon points="242.45,583.50 311.98,657.90 242.45,657.90" fill="url(#g265)"/><polygon points="311.98,583.50 381.51,583.50 311.98,657.90" fill="url(#g266)"/><polygon points="381.51,583.50 381.51,657.90 311.98,657.90" fill="url(#g267)"/><polygon points="381.51,583.50 451.04,583.50 381.51,657.90" fill="url(#g268)"/><polygon points="451.04,583.50 451.04,657.90 381.51,657.90" fill="url(#g269)"/><polygon points="451.04,583.50 520.56,583.50 451.04,657.90" fill="url(#g270)"/><polygon points="520.56,583.50 520.56,657.90 451.04,657.90" fill="url(#g271)"/><polygon points="520.56,583.50 590.09,583.50 520.56,657.90" fill="url(#g272)"/><polygon points="590.09,583.50 590.09,657.90 520.56,657.90" fill="url(#g273)"/><polygon points="590.09,583.50 659.62,583.50 590.09,657.90" fill="url(#g274)"/><polygon points="659.62,583.50 659.62,657.90 590.09,657.90" fill="url(#g275)"/><polygon points="659.62,583.50 729.15,583.50 729.15,657.90" fill="url(#g276)"/><polygon points="659.62,583.50 729.15,657.90 659.62,657.90" fill="url(#g277)"/><polygon points="729.15,583.50 798.67,583.50 798.67,657.90" fill="url(#g278)"/><polygon points="729.15,583.50 798.67,657.90 729.15,657.90" fill="url(#g279)"/><polygon points="798.67,583.50 868.20,583.50 868.20,657.90" fill="url(#g280)"/><polygon points="798.67,583.50 868.20,657.90 798.67,657.90" fill="url(#g281)"/><polygon points="103.40,657.90 172.93,657.90 103.40,732.30" fill="url(#g282)"/><polygon points="172.93,657.90 172.93,732.30 103.40,732.30" fill="url(#g283)"/><polygon points="172.93,657.90 242.45,657.90 242.45,732.30" fill="url(#g284)"/><polygon points="172.93,657.90 242.45,732.30 172.93,732.30" fill="url(#g285)"/><polygon points="242.45,657.90 311.98,657.90 311.98,732.30" fill="url(#g286)"/><polygon points="242.45,657.90 311.98,732.30 242.45,732.30" fill="url(#g287)"/><polygon points="311.98,657.90 381.51,657.90 381.51,732.30" fill="url(#g288)"/><polygon points="311.98,657.90 381.51,732.30 311.98,732.30" fill="url(#g289)"/><polygon points="381.51,657.90 451.04,657.90 451.04,732.30" fill="url(#g290)"/><polygon points="381.51,657.90 451.04,732.30 381.51,732.30" fill="url(#g291)"/><polygon points="451.04,657.90 520.56,657.90 451.04,732.30" fill="url(#g292)"/><polygon points="520.56,657.90 520.56,732.30 451.04,732.30" fill="url(#g293)"/><polygon points="520.56,657.90 590.09,657.90 590.09,732.30" fill="url(#g294)"/><polygon points="520.56,657.90 590.09,732.30 520.56,732.30" fill="url(#g295)"/><polygon points="590.09,657.90 659.62,657.90 659.62,732.30" fill="url(#g296)"/><polygon points="590.09,657.90 659.62,732.30 590.09,732.30" fill="url(#g297)"/><polygon points="659.62,657.90 729.15,657.90 659.62,732.30" fill="url(#g298)"/><polygon points="729.15,657.90 729.15,732.30 659.62,732.30" fill="url(#g299)"/><polygon points="729.15,657.90 798.67,657.90 798.67,732.30" fill="url(#g300)"/><polygon points="729.15,657.90 798.67,732.30 729.15,732.30" fill="url(#g301)"/><polygon points="798.67,657.90 868.20,657.90 868.20,732.30" fill="url(#g302)"/><polygon points="798.67,657.90 868.20,732.30 798.67,732.30" fill="url(#g303)"/><polygon points="103.40,732.30 172.93,732.30 103.40,806.70" fill="url(#g304)"/><polygon points="172.93,732.30 172.93,806.70 103.40,806.70" fill="url(#g305)"/><polygon points="172.93,732.30 242.45,732.30 242.45,806.70" fill="url(#g306)"/><polygon points="172.93,732.30 242.45,806.70 172.93,806.70" fill="url(#g307)"/><polygon points="242.45,732.30 311.98,732.30 311.98,806.70" fill="url(#g308)"/><polygon points="242.45,732.30 311.98,806.70 242.45,806.70" fill="url(#g309)"/><polygon points="311.98,732.30 381.51,732.30 311.98,806.70" fill="url(#g310)"/><polygon points="381.51,732.30 381.51,806.70 311.98,806.70" fill="url(#g311)"/><polygon points="381.51,732.30 451.04,732.30 381.51,806.70" fill="url(#g312)"/><polygon points="451.04,732.30 451.04,806.70 381.51,806.70" fill="url(#g313)"/><polygon points="451.04,732.30 520.56,732.30 451.04,806.70" fill="url(#g314)"/><polygon points="520.56,732.30 520.56,806.70 451.04,806.70" fill="url(#g315)"/><polygon points="520.56,732.30 590.09,732.30 590.09,806.70" fill="url(#g316)"/><polygon points="520.56,732.30 590.09,806.70 520.56,806.70" fill="url(#g317)"/><polygon points="590.09,732.30 659.62,732.30 590.09,806.70" fill="url(#g318)"/><polygon points="659.62,732.30 659.62,806.70 590.09,806.70" fill="url(#g319)"/><polygon points="659.62,732.30 729.15,732.30 659.62,806.70" fill="url(#g320)"/><polygon points="729.15,732.30 729.15,806.70 659.62,806.70" fill="url(#g321)"/><polygon points="729.15,732.30 798.67,732.30 729.15,806.70" fill="url(#g322)"/><polygon points="798.67,732.30 798.67,806.70 729.15,806.70" fill="url(#g323)"/><polygon points="798.67,732.30 868.20,732.30 868.20,806.70" fill="url(#g324)"/><polygon points="798.67,732.30 868.20,806.70 798.67,806.70" fill="url(#g325)"/><polygon points="103.40,806.70 172.93,806.70 172.93,881.10" fill="url(#g326)"/><polygon points="103.40,806.70 172.93,881.10 103.40,881.10" fill="url(#g327)"/><polygon points="172.93,806.70 242.45,806.70 172.93,881.10" fill="url(#g328)"/><polygon points="242.45,806.70 242.45,881.10 172.93,881.10" fill="url(#g329)"/><polygon points="242.45,806.70 311.98,806.70 242.45,881.10" fill="url(#g330)"/><polygon points="311.98,806.70 311.98,881.10 242.45,881.10" fill="url(#g331)"/><polygon points="311.98,806.70 381.51,806.70 311.98,881.10" fill="url(#g332)"/><polygon points="381.51,806.70 381.51,881.10 311.98,881.10" fill="url(#g333)"/><polygon points="381.51,806.70 451.04,806.70 381.51,881.10" fill="url(#g334)"/><polygon points="451.04,806.70 451.04,881.10 381.51,881.10" fill="url(#g335)"/><polygon points="451.04,806.70 520.56,806.70 520.56,881.10" fill="url(#g336)"/><polygon points="451.04,806.70 520.56,881.10 451.04,881.10" fill="url(#g337)"/><polygon points="520.56,806.70 590.09,806.70 520.56,881.10" fill="url(#g338)"/><polygon points="590.09,806.70 590.09,881.10 520.56,881.10" fill="url(#g339)"/><polygon points="590.09,806.70 659.62,806.70 590.09,881.10" fill="url(#g340)"/><polygon points="659.62,806.70 659.62,881.10 590.09,881.10" fill="url(#g341)"/><polygon points="659.62,806.70 729.15,806.70 729.15,881.10" fill="url(#g342)"/><polygon points="659.62,806.70 729.15,881.10 659.62,881.10" fill="url(#g343)"/><polygon points="729.15,806.70 798.67,806.70 798.67,881.10" fill="url(#g344)"/><polygon points="729.15,806.70 798.67,881.10 729.15,881.10" fill="url(#g345)"/><polygon points="798.67,806.70 868.20,806.70 798.67,881.10" fill="url(#g346)"/><polygon points="868.20,806.70 868.20,881.10 798.67,881.10" fill="url(#g347)"/><polygon points="103.40,881.10 172.93,881.10 172.93,955.50" fill="url(#g348)"/><polygon points="103.40,881.10 172.93,955.50 103.40,955.50" fill="url(#g349)"/><polygon points="172.93,881.10 242.45,881.10 172.93,955.50" fill="url(#g350)"/><polygon points="242.45,881.10 242.45,955.50 172.93,955.50" fill="url(#g351)"/><polygon points="242.45,881.10 311.98,881.10 242.45,955.50" fill="url(#g352)"/><polygon points="311.98,881.10 311.98,955.50 242.45,955.50" fill="url(#g353)"/><polygon points="311.98,881.10 381.51,881.10 311.98,955.50" fill="url(#g354)"/><polygon points="381.51,881.10 381.51,955.50 311.98,955.50" fill="url(#g355)"/><polygon points="381.51,881.10 451.04,881.10 451.04,955.50" fill="url(#g356)"/><polygon points="381.51,881.10 451.04,955.50 381.51,955.50" fill="url(#g357)"/><polygon points="451.04,881.10 520.56,881.10 520.56,955.50" fill="url(#g358)"/><polygon points="451.04,881.10 520.56,955.50 451.04,955.50" fill="url(#g359)"/><polygon points="520.56,881.10 590.09,881.10 520.56,955.50" fill="url(#g360)"/><polygon points="590.09,881.10 590.09,955.50 520.56,955.50" fill="url(#g361)"/><polygon points="590.09,881.10 659.62,881.10 659.62,955.50" fill="url(#g362)"/><polygon points="590.09,881.10 659.62,955.50 590.09,955.50" fill="url(#g363)"/><polygon points="659.62,881.10 729.15,881.10 659.62,955.50" fill="url(#g364)"/><polygon points="729.15,881.10 729.15,955.50 659.62,955.50" fill="url(#g365)"/><polygon points="729.15,881.10 798.67,881.10 798.67,955.50" fill="url(#g366)"/><polygon points="729.15,881.10 798.67,955.50 729.15,955.50" fill="url(#g367)"/><polygon points="798.67,881.10 868.20,881.10 798.67,955.50" fill="url(#g368)"/><polygon points="868.20,881.10 868.20,955.50 798.67,955.50" fill="url(#g369)"/><polygon points="103.40,955.50 172.93,955.50 172.93,1029.90" fill="url(#g370)"/><polygon points="103.40,955.50 172.93,1029.90 103.40,1029.90" fill="url(#g371)"/><polygon points="172.93,955.50 242.45,955.50 172.93,1029.90" fill="url(#g372)"/><polygon points="242.45,955.50 242.45,1029.90 172.93,1029.90" fill="url(#g373)"/><polygon points="242.45,955.50 311.98,955.50 242.45,1029.90" fill="url(#g374)"/><polygon points="311.98,955.50 311.98,1029.90 242.45,1029.90" fill="url(#g375)"/><polygon points="311.98,955.50 381.51,955.50 311.98,1029.90" fill="url(#g376)"/><polygon points="381.51,955.50 381.51,1029.90 311.98,1029.90" fill="#00adff"/><polygon points="381.51,955.50 451.04,955.50 451.04,1029.90" fill="url(#g377)"/><polygon points="381.51,955.50 451.04,1029.90 381.51,1029.90" fill="url(#g378)"/><polygon points="451.04,955.50 520.56,955.50 520.56,1029.90" fill="url(#g379)"/><polygon points="451.04,955.50 520.56,1029.90 451.04,1029.90" fill="#00a3ff"/><polygon points="520.56,955.50 590.09,955.50 520.56,1029.90" fill="url(#g380)"/><polygon points="590.09,955.50 590.09,1029.90 520.56,1029.90" fill="url(#g381)"/><polygon points="590.09,955.50 659.62,955.50 590.09,1029.90" fill="url(#g382)"/><polygon points="659.62,955.50 659.62,1029.90 590.09,1029.90" fill="#00a3ff"/><polygon points="659.62,955.50 729.15,955.50 659.62,1029.90" fill="#00a3ff"/><polygon points="729.15,955.50 729.15,1029.90 659.62,1029.90" fill="url(#g383)"/><polygon points="729.15,955.50 798.67,955.50 798.67,1029.90" fill="url(#g384)"/><polygon points="729.15,955.50 798.67,1029.90 729.15,1029.90" fill="url(#g385)"/><polygon points="798.67,955.50 868.20,955.50 868.20,1029.90" fill="url(#g386)"/><polygon points="798.67,955.50 868.20,1029.90 798.67,1029.90" fill="url(#g387)"/></g>
<rect x="1091.40" y="583.50" width="764.80" height="446.40" fill="#0099ff"/>
<g shape-rendering="crispEdges"><polygon points="1091.40,583.50 1160.93,583.50 1160.93,657.90" fill="url(#g388)"/><polygon points="1091.40,583.50 1160.93,657.90 1091.40,657.90" fill="url(#g389)"/><polygon points="1160.93,583.50 1230.45,583.50 1230.45,657.90" fill="url(#g390)"/><polygon points="1160.93,583.50 1230.45,657.90 1160.93,657.90" fill="url(#g391)"/><polygon points="1230.45,583.50 1299.98,583.50 1299.98,657.90" fill="url(#g392)"/><polygon points="1230.45,583.50 1299.98,657.90 1230.45,657.90" fill="url(#g393)"/><polygon points="1299.98,583.50 1369.51,583.50 1369.51,657.90" fill="url(#g394)"/><polygon points="1299.98,583.50 1369.51,657.90 1299.98,657.90" fill="url(#g395)"/><polygon points="1369.51,583.50 1439.04,583.50 1369.51,657.90" fill="url(#g396)"/><polygon points="1439.04,583.50 1439.04,657.90 1369.51,657.90" fill="url(#g397)"/><polygon points="1439.04,583.50 1508.56,583.50 1508.56,657.90" fill="url(#g398)"/><polygon points="1439.04,583.50 1508.56,657.90 1439.04,657.90" fill="url(#g399)"/><polygon points="1508.56,583.50 1578.09,583.50 1508.56,657.90" fill="url(#g400)"/><polygon points="1578.09,583.50 1578.09,657.90 1508.56,657.90" fill="url(#g401)"/><polygon points="1578.09,583.50 1647.62,583.50 1578.09,657.90" fill="url(#g402)"/><polygon points="1647.62,583.50 1647.62,657.90 1578.09,657.90" fill="url(#g403)"/><polygon points="1647.62,583.50 1717.15,583.50 1717.15,657.90" fill="url(#g404)"/><polygon points="1647.62,583.50 1717.15,657.90 1647.62,657.90" fill="url(#g405)"/><polygon points="1717.15,583.50 1786.67,583.50 1786.67,657.90" fill="url(#g406)"/><polygon points="1717.15,583.50 1786.67,657.90 1717.15,657.90" fill="url(#g407)"/><polygon points="1786.67,583.50 1856.20,583.50 1856.20,657.90" fill="url(#g408)"/><polygon points="1786.67,583.50 1856.20,657.90 1786.67,657.90" fill="url(#g409)"/><polygon points="1091.40,657.90 1160.93,657.90 1091.40,732.30" fill="url(#g410)"/><polygon points="1160.93,657.90 1160.93,732.30 1091.40,732.30" fill="url(#g411)"/><polygon points="1160.93,657.90 1230.45,657.90 1230.45,732.30" fill="url(#g412)"/><polygon points="1160.93,657.90 1230.45,732.30 1160.93,732.30" fill="url(#g413)"/><polygon points="1230.45,657.90 1299.98,657.90 1299.98,732.30" fill="url(#g414)"/><polygon points="1230.45,657.90 1299.98,732.30 1230.45,732.30" fill="url(#g415)"/><polygon points="1299.98,657.90 1369.51,657.90 1369.51,732.30" fill="url(#g416)"/><polygon points="1299.98,657.90 1369.51,732.30 1299.98,732.30" fill="url(#g417)"/><polygon points="1369.51,657.90 1439.04,657.90 1369.51,732.30" fill="url(#g418)"/><polygon points="1439.04,657.90 1439.04,732.30 1369.51,732.30" fill="url(#g419)"/><polygon points="1439.04,657.90 1508.56,657.90 1508.56,732.30" fill="url(#g420)"/><polygon points="1439.04,657.90 1508.56,732.30 1439.04,732.30" fill="url(#g421)"/><polygon points="1508.56,657.90 1578.09,657.90 1578.09,732.30" fill="url(#g422)"/><polygon points="1508.56,657.90 1578.09,732.30 1508.56,732.30" fill="url(#g423)"/><polygon points="1578.09,657.90 1647.62,657.90 1647.62,732.30" fill="url(#g424)"/><polygon points="1578.09,657.90 1647.62,732.30 1578.09,732.30" fill="url(#g425)"/><polygon points="1647.62,657.90 1717.15,657.90 1647.62,732.30" fill="url(#g426)"/><polygon points="1717.15,657.90 1717.15,732.30 1647.62,732.30" fill="url(#g427)"/><polygon points="1717.15,657.90 1786.67,657.90 1717.15,732.30" fill="url(#g428)"/><polygon points="1786.67,657.90 1786.67,732.30 1717.15,732.30" fill="url(#g429)"/><polygon points="1786.67,657.90 1856.20,657.90 1856.20,732.30" fill="url(#g430)"/><polygon points="1786.67,657.90 1856.20,732.30 1786.67,732.30" fill="url(#g431)"/><polygon points="1091.40,732.30 1160.93,732.30 1091.40,806.70" fill="url(#g432)"/><polygon points="1160.93,732.30 1160.93,806.70 1091.40,806.70" fill="url(#g433)"/><polygon points="1160.93,732.30 1230.45,732.30 1230.45,806.70" fill="url(#g434)"/><polygon points="1160.93,732.30 1230.45,806.70 1160.93,806.70" fill="url(#g435)"/><polygon points="1230.45,732.30 1299.98,732.30 1299.98,806.70" fill="url(#g436)"/><polygon points="1230.45,732.30 1299.98,806.70 1230.45,806.70" fill="url(#g437)"/><polygon points="1299.98,732.30 1369.51,732.30 1299.98,806.70" fill="url(#g438)"/><polygon points="1369.51,732.30 1369.51,806.70 1299.98,806.70" fill="url(#g439)"/><polygon points="1369.51,732.30 1439.04,732.30 1369.51,806.70" fill="url(#g440)"/><polygon points="1439.04,732.30 1439.04,806.70 1369.51,806.70" fill="url(#g441)"/><polygon points="1439.04,732.30 1508.56,732.30 1439.04,806.70" fill="url(#g442)"/><polygon points="1508.56,732.30 1508.56,806.70 1439.04,806.70" fill="url(#g443)"/><polygon points="1508.56,732.30 1578.09,732.30 1578.09,806.70" fill="url(#g444)"/><polygon points="1508.56,732.30 1578.09,806.70 1508.56,806.70" fill="url(#g445)"/><polygon points="1578.09,732.30 1647.62,732.30 1578.09,806.70" fill="url(#g446)"/><polygon points="1647.62,732.30 1647.62,806.70 1578.09,806.70" fill="url(#g447)"/><polygon points="1647.62,732.30 1717.15,732.30 1647.62,806.70" fill="url(#g448)"/><polygon points="1717.15,732.30 1717.15,806.70 1647.62,806.70" fill="url(#g449)"/><polygon points="1717.15,732.30 1786.67,732.30 1717.15,806.70" fill="url(#g450)"/><polygon points="1786.67,732.30 1786.67,806.70 1717.15,806.70" fill="url(#g451)"/><polygon points="1786.67,732.30 1856.20,732.30 1856.20,806.70" fill="url(#g452)"/><polygon points="1786.67,732.30 1856.20,806.70 1786.67,806.70" fill="url(#g453)"/><polygon points="1091.40,806.70 1160.93,806.70 1160.93,881.10" fill="url(#g454)"/><polygon points="1091.40,806.70 1160.93,881.10 1091.40,881.10" fill="url(#g455)"/><polygon points="1160.93,806.70 1230.45,806.70 1160.93,881.10" fill="url(#g456)"/><polygon points="1230.45,806.70 1230.45,881.10 1160.93,881.10" fill="url(#g457)"/><polygon points="1230.45,806.70 1299.98,806.70 1230.45,881.10" fill="url(#g458)"/><polygon points="1299.98,806.70 1299.98,881.10 1230.45,881.10" fill="url(#g459)"/><polygon points="1299.98,806.70 1369.51,806.70 1299.98,881.10" fill="url(#g460)"/><polygon points="1369.51,806.70 1369.51,881.10 1299.98,881.10" fill="url(#g461)"/><polygon points="1369.51,806.70 1439.04,806.70 1439.04,881.10" fill="url(#g462)"/><polygon points="1369.51,806.70 1439.04,881.10 1369.51,881.10" fill="url(#g463)"/><polygon points="1439.04,806.70 1508.56,806.70 1508.56,881.10" fill="url(#g464)"/><polygon points="1439.04,806.70 1508.56,881.10 1439.04,881.10" fill="url(#g465)"/><polygon points="1508.56,806.70 1578.09,806.70 1508.56,881.10" fill="url(#g466)"/><polygon points="1578.09,806.70 1578.09,881.10 1508.56,881.10" fill="url(#g467)"/><polygon points="1578.09,806.70 1647.62,806.70 1647.62,881.10" fill="url(#g468)"/><polygon points="1578.09,806.70 1647.62,881.10 1578.09,881.10" fill="url(#g469)"/><polygon points="1647.62,806.70 1717.15,806.70 1647.62,881.10" fill="url(#g470)"/><polygon points="1717.15,806.70 1717.15,881.10 1647.62,881.10" fill="url(#g471)"/><polygon points="1717.15,806.70 1786.67,806.70 1786.67,881.10" fill="url(#g472)"/><polygon points="1717.15,806.70 1786.67,881.10 1717.15,881.10" fill="url(#g473)"/><polygon points="1786.67,806.70 1856.20,806.70 1786.67,881.10" fill="url(#g474)"/><polygon points="1856.20,806.70 1856.20,881.10 1786.67,881.10" fill="url(#g475)"/><polygon points="1091.40,881.10 1160.93,881.10 1160.93,955.50" fill="url(#g476)"/><polygon points="1091.40,881.10 1160.93,955.50 1091.40,955.50" fill="url(#g477)"/><polygon points="1160.93,881.10 1230.45,881.10 1160.93,955.50" fill="url(#g478)"/><polygon points="1230.45,881.10 1230.45,955.50 1160.93,955.50" fill="url(#g479)"/><polygon points="1230.45,881.10 1299.98,881.10 1230.45,955.50" fill="url(#g480)"/><polygon points="1299.98,881.10 1299.98,955.50 1230.45,955.50" fill="url(#g481)"/><polygon points="1299.98,881.10 1369.51,881.10 1299.98,955.50" fill="url(#g482)"/><polygon points="1369.51,881.10 1369.51,955.50 1299.98,955.50" fill="url(#g483)"/><polygon points="1369.51,881.10 1439.04,881.10 1439.04,955.50" fill="url(#g484)"/><polygon points="1369.51,881.10 1439.04,955.50 1369.51,955.50" fill="url(#g485)"/><polygon points="1439.04,881.10 1508.56,881.10 1508.56,955.50" fill="url(#g486)"/><polygon points="1439.04,881.10 1508.56,955.50 1439.04,955.50" fill="url(#g487)"/><polygon points="1508.56,881.10 1578.09,881.10 1508.56,955.50" fill="url(#g488)"/><polygon points="1578.09,881.10 1578.09,955.50 1508.56,955.50" fill="url(#g489)"/><polygon points="1578.09,881.10 1647.62,881.10 1578.09,955.50" fill="url(#g490)"/><polygon points="1647.62,881.10 1647.62,955.50 1578.09,955.50" fill="url(#g491)"/><polygon points="1647.62,881.10 1717.15,881.10 1647.62,955.50" fill="url(#g492)"/><polygon points="1717.15,881.10 1717.15,955.50 1647.62,955.50" fill="url(#g493)"/><polygon points="1717.15,881.10 1786.67,881.10 1786.67,955.50" fill="url(#g494)"/><polygon points="1717.15,881.10 1786.67,955.50 1717.15,955.50" fill="url(#g495)"/><polygon points="1786.67,881.10 1856.20,881.10 1786.67,955.50" fill="url(#g496)"/><polygon points="1856.20,881.10 1856.20,955.50 1786.67,955.50" fill="url(#g497)"/><polygon points="1091.40,955.50 1160.93,955.50 1091.40,1029.90" fill="url(#g498)"/><polygon points="1160.93,955.50 1160.93,1029.90 1091.40,1029.90" fill="url(#g499)"/><polygon points="1160.93,955.50 1230.45,955.50 1230.45,1029.90" fill="url(#g500)"/><polygon points="1160.93,955.50 1230.45,1029.90 1160.93,1029.90" fill="url(#g501)"/><polygon points="1230.45,955.50 1299.98,955.50 1299.98,1029.90" fill="url(#g502)"/><polygon points="1230.45,955.50 1299.98,1029.90 1230.45,1029.90" fill="url(#g503)"/><polygon points="1299.98,955.50 1369.51,955.50 1369.51,1029.90" fill="url(#g504)"/><polygon points="1299.98,955.50 1369.51,1029.90 1299.98,1029.90" fill="url(#g505)"/><polygon points="1369.51,955.50 1439.04,955.50 1369.51,1029.90" fill="url(#g506)"/><polygon points="1439.04,955.50 1439.04,1029.90 1369.51,1029.90" fill="url(#g507)"/><polygon points="1439.04,955.50 1508.56,955.50 1508.56,1029.90" fill="url(#g508)"/><polygon points="1439.04,955.50 1508.56,1029.90 1439.04,1029.90" fill="url(#g509)"/><polygon points="1508.56,955.50 1578.09,955.50 1578.09,1029.90" fill="url(#g510)"/><polygon points="1508.56,955.50 1578.09,1029.90 1508.56,1029.90" fill="url(#g511)"/><polygon points="1578.09,955.50 1647.62,955.50 1578.09,1029.90" fill="url(#g512)"/><polygon points="1647.62,955.50 1647.62,1029.90 1578.09,1029.90" fill="url(#g513)"/><polygon points="1647.62,955.50 1717.15,955.50 1647.62,1029.90" fill="url(#g514)"/><polygon points="1717.15,955.50 1717.15,1029.90 1647.62,1029.90" fill="url(#g515)"/><polygon points="1717.15,955.50 1786.67,955.50 1717.15,1029.90" fill="url(#g516)"/><polygon points="1786.67,955.50 1786.67,1029.90 1717.15,1029.90" fill="url(#g517)"/><polygon points="1786.67,955.50 1856.20,955.50 1856.20,1029.90" fill="url(#g518)"/><polygon points="1786.67,955.50 1856.20,1029.90 1786.67,1029.90" fill="url(#g519)"/></g>
<rect x="103.40" y="24.40" width="764.80" height="446.40" fill="none" stroke="#000" stroke-width="3.2"/>
<line x1="103.40" y1="470.80" x2="103.40" y2="476.80" stroke="#000" stroke-width="3"/>
<line x1="172.93" y1="470.80" x2="172.93" y2="481.80" stroke="#000" stroke-width="3"/>
<line x1="242.45" y1="470.80" x2="242.45" y2="476.80" stroke="#000" stroke-width="3"/>
<line x1="311.98" y1="470.80" x2="311.98" y2="481.80" stroke="#000" stroke-width="3"/>
<line x1="381.51" y1="470.80" x2="381.51" y2="476.80" stroke="#000" stroke-width="3"/>
<line x1="451.04" y1="470.80" x2="451.04" y2="481.80" stroke="#000" stroke-width="3"/>
<line x1="520.56" y1="470.80" x2="520.56" y2="476.80" stroke="#000" stroke-width="3"/>
<line x1="590.09" y1="470.80" x2="590.09" y2="481.80" stroke="#000" stroke-width="3"/>
<line x1="659.62" y1="470.80" x2="659.62" y2="476.80" stroke="#000" stroke-width="3"/>
<line x1="729.15" y1="470.80" x2="729.15" y2="481.80" stroke="#000" stroke-width="3"/>
<line x1="798.67" y1="470.80" x2="798.67" y2="476.80" stroke="#000" stroke-width="3"/>
<line x1="868.20" y1="470.80" x2="868.20" y2="481.80" stroke="#000" stroke-width="3"/>
<line x1="103.40" y1="470.80" x2="92.40" y2="470.80" stroke="#000" stroke-width="3"/>
<line x1="103.40" y1="433.60" x2="97.90" y2="433.60" stroke="#000" stroke-width="3"/>
<line x1="103.40" y1="396.40" x2="92.40" y2="396.40" stroke="#000" stroke-width="3"/>
<line x1="103.40" y1="359.20" x2="97.90" y2="359.20" stroke="#000" stroke-width="3"/>
<line x1="103.40" y1="322.00" x2="92.40" y2="322.00" stroke="#000" stroke-width="3"/>
<line x1="103.40" y1="284.80" x2="97.90" y2="284.80" stroke="#000" stroke-width="3"/>
<line x1="103.40" y1="247.60" x2="92.40" y2="247.60" stroke="#000" stroke-width="3"/>
<line x1="103.40" y1="210.40" x2="97.90" y2="210.40" stroke="#000" stroke-width="3"/>
<line x1="103.40" y1="173.20" x2="92.40" y2="173.20" stroke="#000" stroke-width="3"/>
<line x1="103.40" y1="136.00" x2="97.90" y2="136.00" stroke="#000" stroke-width="3"/>
<line x1="103.40" y1="98.80" x2="92.40" y2="98.80" stroke="#000" stroke-width="3"/>
<line x1="103.40" y1="61.60" x2="97.90" y2="61.60" stroke="#000" stroke-width="3"/>
<line x1="103.40" y1="24.40" x2="92.40" y2="24.40" stroke="#000" stroke-width="3"/>
<text x="172.93" y="523.20" text-anchor="middle" font-family="Liberation Serif, Times New Roman, serif" font-size="42">2</text>
<text x="311.98" y="523.20" text-anchor="middle" font-family="Liberation Serif, Times New Roman, serif" font-size="42">4</text>
<text x="451.04" y="523.20" text-anchor="middle" font-family="Liberation Serif, Times New Roman, serif" font-size="42">6</text>
<text x="590.09" y="523.20" text-anchor="middle" font-family="Liberation Serif, Times New Roman, serif" font-size="42">8</text>
<text x="729.15" y="523.20" text-anchor="middle" font-family="Liberation Serif, Times New Roman, serif" font-size="42">10</text>
<text x="868.20" y="523.20" text-anchor="middle" font-family="Liberation Serif, Times New Roman, serif" font-size="42">12</text>
<text x="82.50" y="484.30" text-anchor="end" font-family="Liberation Serif, Times New Roman, serif" font-size="42">1</text>
<text x="82.50" y="409.90" text-anchor="end" font-family="Liberation Serif, Times New Roman, serif" font-size="42">2</text>
<text x="82.50" y="335.50" text-anchor="end" font-family="Liberation Serif, Times New Roman, serif" font-size="42">3</text>
<text x="82.50" y="261.10" text-anchor="end" font-family="Liberation Serif, Times New Roman, serif" font-size="42">4</text>
<text x="82.50" y="186.70" text-anchor="end" font-family="Liberation Serif, Times New Roman, serif" font-size="42">5</text>
<text x="82.50" y="112.30" text-anchor="end" font-family="Liberation Serif, Times New Roman, serif" font-size="42">6</text>
<text x="82.50" y="37.90" text-anchor="end" font-family="Liberation Serif, Times New Roman, serif" font-size="42">7</text>
<text x="435.50" y="548.00" font-family="Liberation Serif, Times New Roman, serif" font-size="42.5">x-axis/cm</text>
<text transform="translate(41.00 248.60) rotate(-90)" text-anchor="middle" font-family="Liberation Serif, Times New Roman, serif" font-size="42.5">y-axis/cm</text>
<defs><linearGradient id="cb0_0" x1="0" y1="1" x2="0" y2="0"><stop offset="0.00" stop-color="#0000ff"/><stop offset="0.25" stop-color="#00ffff"/><stop offset="0.50" stop-color="#00ff00"/><stop offset="0.75" stop-color="#ffff00"/><stop offset="1.00" stop-color="#ff0000"/></linearGradient></defs>
<rect x="901.90" y="29.20" width="27.60" height="438.30" fill="url(#cb0_0)"/>
<line x1="900.50" y1="24.40" x2="900.50" y2="470.80" stroke="#000" stroke-width="3"/>
<rect x="899.00" y="467.30" width="30.50" height="3.50" fill="#000"/>
<line x1="900.00" y1="419.42" x2="918.00" y2="419.42" stroke="#000" stroke-width="3"/>
<text x="936.00" y="431.02" font-family="Liberation Serif, Times New Roman, serif" font-size="36.5">5</text>
<line x1="900.00" y1="327.50" x2="918.00" y2="327.50" stroke="#000" stroke-width="3"/>
<text x="936.00" y="339.10" font-family="Liberation Serif, Times New Roman, serif" font-size="36.5">7</text>
<line x1="900.00" y1="235.57" x2="918.00" y2="235.57" stroke="#000" stroke-width="3"/>
<text x="936.00" y="247.17" font-family="Liberation Serif, Times New Roman, serif" font-size="36.5">9</text>
<line x1="900.00" y1="143.65" x2="918.00" y2="143.65" stroke="#000" stroke-width="3"/>
<text x="936.00" y="155.25" font-family="Liberation Serif, Times New Roman, serif" font-size="36.5">11</text>
<line x1="900.00" y1="51.72" x2="918.00" y2="51.72" stroke="#000" stroke-width="3"/>
<text x="936.00" y="63.32" font-family="Liberation Serif, Times New Roman, serif" font-size="36.5">13</text>
<text x="114.2" y="74.7" fill="#fff" font-family="Liberation Sans, Arial, sans-serif" font-size="55">(a)</text>
<text x="224.6" y="74" fill="#fff" font-family="Liberation Sans, Arial, sans-serif" font-size="47">Internal defect</text>
<text x="328.6" y="447.8" fill="#fff" font-family="Liberation Sans, Arial, sans-serif" font-size="47">Artificial defect</text>
<g stroke="#fff" stroke-width="3.2" stroke-linecap="round"><line x1="531.1" y1="78.6" x2="567.2" y2="102.9"/><line x1="240.6" y1="325.9" x2="331.5" y2="394.3"/><line x1="514.8" y1="359.8" x2="514.8" y2="396.1"/><line x1="643.4" y1="410.2" x2="738.7" y2="336.5"/></g>
<rect x="1091.40" y="24.40" width="764.80" height="446.40" fill="none" stroke="#000" stroke-width="3.2"/>
<line x1="1091.40" y1="470.80" x2="1091.40" y2="476.80" stroke="#000" stroke-width="3"/>
<line x1="1160.93" y1="470.80" x2="1160.93" y2="481.80" stroke="#000" stroke-width="3"/>
<line x1="1230.45" y1="470.80" x2="1230.45" y2="476.80" stroke="#000" stroke-width="3"/>
<line x1="1299.98" y1="470.80" x2="1299.98" y2="481.80" stroke="#000" stroke-width="3"/>
<line x1="1369.51" y1="470.80" x2="1369.51" y2="476.80" stroke="#000" stroke-width="3"/>
<line x1="1439.04" y1="470.80" x2="1439.04" y2="481.80" stroke="#000" stroke-width="3"/>
<line x1="1508.56" y1="470.80" x2="1508.56" y2="476.80" stroke="#000" stroke-width="3"/>
<line x1="1578.09" y1="470.80" x2="1578.09" y2="481.80" stroke="#000" stroke-width="3"/>
<line x1="1647.62" y1="470.80" x2="1647.62" y2="476.80" stroke="#000" stroke-width="3"/>
<line x1="1717.15" y1="470.80" x2="1717.15" y2="481.80" stroke="#000" stroke-width="3"/>
<line x1="1786.67" y1="470.80" x2="1786.67" y2="476.80" stroke="#000" stroke-width="3"/>
<line x1="1856.20" y1="470.80" x2="1856.20" y2="481.80" stroke="#000" stroke-width="3"/>
<line x1="1091.40" y1="470.80" x2="1080.40" y2="470.80" stroke="#000" stroke-width="3"/>
<line x1="1091.40" y1="433.60" x2="1085.90" y2="433.60" stroke="#000" stroke-width="3"/>
<line x1="1091.40" y1="396.40" x2="1080.40" y2="396.40" stroke="#000" stroke-width="3"/>
<line x1="1091.40" y1="359.20" x2="1085.90" y2="359.20" stroke="#000" stroke-width="3"/>
<line x1="1091.40" y1="322.00" x2="1080.40" y2="322.00" stroke="#000" stroke-width="3"/>
<line x1="1091.40" y1="284.80" x2="1085.90" y2="284.80" stroke="#000" stroke-width="3"/>
<line x1="1091.40" y1="247.60" x2="1080.40" y2="247.60" stroke="#000" stroke-width="3"/>
<line x1="1091.40" y1="210.40" x2="1085.90" y2="210.40" stroke="#000" stroke-width="3"/>
<line x1="1091.40" y1="173.20" x2="1080.40" y2="173.20" stroke="#000" stroke-width="3"/>
<line x1="1091.40" y1="136.00" x2="1085.90" y2="136.00" stroke="#000" stroke-width="3"/>
<line x1="1091.40" y1="98.80" x2="1080.40" y2="98.80" stroke="#000" stroke-width="3"/>
<line x1="1091.40" y1="61.60" x2="1085.90" y2="61.60" stroke="#000" stroke-width="3"/>
<line x1="1091.40" y1="24.40" x2="1080.40" y2="24.40" stroke="#000" stroke-width="3"/>
<text x="1160.93" y="523.20" text-anchor="middle" font-family="Liberation Serif, Times New Roman, serif" font-size="42">2</text>
<text x="1299.98" y="523.20" text-anchor="middle" font-family="Liberation Serif, Times New Roman, serif" font-size="42">4</text>
<text x="1439.04" y="523.20" text-anchor="middle" font-family="Liberation Serif, Times New Roman, serif" font-size="42">6</text>
<text x="1578.09" y="523.20" text-anchor="middle" font-family="Liberation Serif, Times New Roman, serif" font-size="42">8</text>
<text x="1717.15" y="523.20" text-anchor="middle" font-family="Liberation Serif, Times New Roman, serif" font-size="42">10</text>
<text x="1856.20" y="523.20" text-anchor="middle" font-family="Liberation Serif, Times New Roman, serif" font-size="42">12</text>
<text x="1070.50" y="484.30" text-anchor="end" font-family="Liberation Serif, Times New Roman, serif" font-size="42">1</text>
<text x="1070.50" y="409.90" text-anchor="end" font-family="Liberation Serif, Times New Roman, serif" font-size="42">2</text>
<text x="1070.50" y="335.50" text-anchor="end" font-family="Liberation Serif, Times New Roman, serif" font-size="42">3</text>
<text x="1070.50" y="261.10" text-anchor="end" font-family="Liberation Serif, Times New Roman, serif" font-size="42">4</text>
<text x="1070.50" y="186.70" text-anchor="end" font-family="Liberation Serif, Times New Roman, serif" font-size="42">5</text>
<text x="1070.50" y="112.30" text-anchor="end" font-family="Liberation Serif, Times New Roman, serif" font-size="42">6</text>
<text x="1070.50" y="37.90" text-anchor="end" font-family="Liberation Serif, Times New Roman, serif" font-size="42">7</text>
<text x="1423.50" y="548.00" font-family="Liberation Serif, Times New Roman, serif" font-size="42.5">x-axis/cm</text>
<text transform="translate(1029.00 248.60) rotate(-90)" text-anchor="middle" font-family="Liberation Serif, Times New Roman, serif" font-size="42.5">y-axis/cm</text>
<defs><linearGradient id="cb988_0" x1="0" y1="1" x2="0" y2="0"><stop offset="0.00" stop-color="#0000ff"/><stop offset="0.25" stop-color="#00ffff"/><stop offset="0.50" stop-color="#00ff00"/><stop offset="0.75" stop-color="#ffff00"/><stop offset="1.00" stop-color="#ff0000"/></linearGradient></defs>
<rect x="1889.90" y="29.20" width="27.60" height="438.30" fill="url(#cb988_0)"/>
<line x1="1888.50" y1="24.40" x2="1888.50" y2="470.80" stroke="#000" stroke-width="3"/>
<rect x="1887.00" y="467.30" width="30.50" height="3.50" fill="#000"/>
<line x1="1888.00" y1="467.50" x2="1906.00" y2="467.50" stroke="#000" stroke-width="3"/>
<text x="1924.00" y="479.10" font-family="Liberation Serif, Times New Roman, serif" font-size="36.5">5</text>
<line x1="1888.00" y1="404.89" x2="1906.00" y2="404.89" stroke="#000" stroke-width="3"/>
<text x="1924.00" y="416.49" font-family="Liberation Serif, Times New Roman, serif" font-size="36.5">7</text>
<line x1="1888.00" y1="342.27" x2="1906.00" y2="342.27" stroke="#000" stroke-width="3"/>
<text x="1924.00" y="353.87" font-family="Liberation Serif, Times New Roman, serif" font-size="36.5">9</text>
<line x1="1888.00" y1="279.66" x2="1906.00" y2="279.66" stroke="#000" stroke-width="3"/>
<text x="1924.00" y="291.26" font-family="Liberation Serif, Times New Roman, serif" font-size="36.5">11</text>
<line x1="1888.00" y1="217.04" x2="1906.00" y2="217.04" stroke="#000" stroke-width="3"/>
<text x="1924.00" y="228.64" font-family="Liberation Serif, Times New Roman, serif" font-size="36.5">13</text>
<line x1="1888.00" y1="154.43" x2="1906.00" y2="154.43" stroke="#000" stroke-width="3"/>
<text x="1924.00" y="166.03" font-family="Liberation Serif, Times New Roman, serif" font-size="36.5">15</text>
<line x1="1888.00" y1="91.81" x2="1906.00" y2="91.81" stroke="#000" stroke-width="3"/>
<text x="1924.00" y="103.41" font-family="Liberation Serif, Times New Roman, serif" font-size="36.5">17</text>
<line x1="1888.00" y1="29.20" x2="1906.00" y2="29.20" stroke="#000" stroke-width="3"/>
<text x="1924.00" y="40.80" font-family="Liberation Serif, Times New Roman, serif" font-size="36.5">19</text>
<text x="1103.4" y="74.7" fill="#fff" font-family="Liberation Sans, Arial, sans-serif" font-size="55">(b)</text>
<rect x="103.40" y="583.50" width="764.80" height="446.40" fill="none" stroke="#000" stroke-width="3.2"/>
<line x1="103.40" y1="1029.90" x2="103.40" y2="1035.90" stroke="#000" stroke-width="3"/>
<line x1="172.93" y1="1029.90" x2="172.93" y2="1040.90" stroke="#000" stroke-width="3"/>
<line x1="242.45" y1="1029.90" x2="242.45" y2="1035.90" stroke="#000" stroke-width="3"/>
<line x1="311.98" y1="1029.90" x2="311.98" y2="1040.90" stroke="#000" stroke-width="3"/>
<line x1="381.51" y1="1029.90" x2="381.51" y2="1035.90" stroke="#000" stroke-width="3"/>
<line x1="451.04" y1="1029.90" x2="451.04" y2="1040.90" stroke="#000" stroke-width="3"/>
<line x1="520.56" y1="1029.90" x2="520.56" y2="1035.90" stroke="#000" stroke-width="3"/>
<line x1="590.09" y1="1029.90" x2="590.09" y2="1040.90" stroke="#000" stroke-width="3"/>
<line x1="659.62" y1="1029.90" x2="659.62" y2="1035.90" stroke="#000" stroke-width="3"/>
<line x1="729.15" y1="1029.90" x2="729.15" y2="1040.90" stroke="#000" stroke-width="3"/>
<line x1="798.67" y1="1029.90" x2="798.67" y2="1035.90" stroke="#000" stroke-width="3"/>
<line x1="868.20" y1="1029.90" x2="868.20" y2="1040.90" stroke="#000" stroke-width="3"/>
<line x1="103.40" y1="1029.90" x2="92.40" y2="1029.90" stroke="#000" stroke-width="3"/>
<line x1="103.40" y1="992.70" x2="97.90" y2="992.70" stroke="#000" stroke-width="3"/>
<line x1="103.40" y1="955.50" x2="92.40" y2="955.50" stroke="#000" stroke-width="3"/>
<line x1="103.40" y1="918.30" x2="97.90" y2="918.30" stroke="#000" stroke-width="3"/>
<line x1="103.40" y1="881.10" x2="92.40" y2="881.10" stroke="#000" stroke-width="3"/>
<line x1="103.40" y1="843.90" x2="97.90" y2="843.90" stroke="#000" stroke-width="3"/>
<line x1="103.40" y1="806.70" x2="92.40" y2="806.70" stroke="#000" stroke-width="3"/>
<line x1="103.40" y1="769.50" x2="97.90" y2="769.50" stroke="#000" stroke-width="3"/>
<line x1="103.40" y1="732.30" x2="92.40" y2="732.30" stroke="#000" stroke-width="3"/>
<line x1="103.40" y1="695.10" x2="97.90" y2="695.10" stroke="#000" stroke-width="3"/>
<line x1="103.40" y1="657.90" x2="92.40" y2="657.90" stroke="#000" stroke-width="3"/>
<line x1="103.40" y1="620.70" x2="97.90" y2="620.70" stroke="#000" stroke-width="3"/>
<line x1="103.40" y1="583.50" x2="92.40" y2="583.50" stroke="#000" stroke-width="3"/>
<text x="172.93" y="1082.30" text-anchor="middle" font-family="Liberation Serif, Times New Roman, serif" font-size="42">2</text>
<text x="311.98" y="1082.30" text-anchor="middle" font-family="Liberation Serif, Times New Roman, serif" font-size="42">4</text>
<text x="451.04" y="1082.30" text-anchor="middle" font-family="Liberation Serif, Times New Roman, serif" font-size="42">6</text>
<text x="590.09" y="1082.30" text-anchor="middle" font-family="Liberation Serif, Times New Roman, serif" font-size="42">8</text>
<text x="729.15" y="1082.30" text-anchor="middle" font-family="Liberation Serif, Times New Roman, serif" font-size="42">10</text>
<text x="868.20" y="1082.30" text-anchor="middle" font-family="Liberation Serif, Times New Roman, serif" font-size="42">12</text>
<text x="82.50" y="1043.40" text-anchor="end" font-family="Liberation Serif, Times New Roman, serif" font-size="42">1</text>
<text x="82.50" y="969.00" text-anchor="end" font-family="Liberation Serif, Times New Roman, serif" font-size="42">2</text>
<text x="82.50" y="894.60" text-anchor="end" font-family="Liberation Serif, Times New Roman, serif" font-size="42">3</text>
<text x="82.50" y="820.20" text-anchor="end" font-family="Liberation Serif, Times New Roman, serif" font-size="42">4</text>
<text x="82.50" y="745.80" text-anchor="end" font-family="Liberation Serif, Times New Roman, serif" font-size="42">5</text>
<text x="82.50" y="671.40" text-anchor="end" font-family="Liberation Serif, Times New Roman, serif" font-size="42">6</text>
<text x="82.50" y="597.00" text-anchor="end" font-family="Liberation Serif, Times New Roman, serif" font-size="42">7</text>
<text x="435.50" y="1107.10" font-family="Liberation Serif, Times New Roman, serif" font-size="42.5">x-axis/cm</text>
<text transform="translate(41.00 807.70) rotate(-90)" text-anchor="middle" font-family="Liberation Serif, Times New Roman, serif" font-size="42.5">y-axis/cm</text>
<defs><linearGradient id="cb0_559" x1="0" y1="1" x2="0" y2="0"><stop offset="0.00" stop-color="#0000ff"/><stop offset="0.25" stop-color="#00ffff"/><stop offset="0.50" stop-color="#00ff00"/><stop offset="0.75" stop-color="#ffff00"/><stop offset="1.00" stop-color="#ff0000"/></linearGradient></defs>
<rect x="901.90" y="588.30" width="27.60" height="438.30" fill="url(#cb0_559)"/>
<line x1="900.50" y1="583.50" x2="900.50" y2="1029.90" stroke="#000" stroke-width="3"/>
<rect x="899.00" y="1026.40" width="30.50" height="3.50" fill="#000"/>
<line x1="900.00" y1="1026.60" x2="918.00" y2="1026.60" stroke="#000" stroke-width="3"/>
<text x="936.00" y="1038.20" font-family="Liberation Serif, Times New Roman, serif" font-size="36.5">0.3</text>
<line x1="900.00" y1="971.81" x2="918.00" y2="971.81" stroke="#000" stroke-width="3"/>
<text x="936.00" y="983.41" font-family="Liberation Serif, Times New Roman, serif" font-size="36.5">0.4</text>
<line x1="900.00" y1="917.02" x2="918.00" y2="917.02" stroke="#000" stroke-width="3"/>
<text x="936.00" y="928.62" font-family="Liberation Serif, Times New Roman, serif" font-size="36.5">0.5</text>
<line x1="900.00" y1="862.24" x2="918.00" y2="862.24" stroke="#000" stroke-width="3"/>
<text x="936.00" y="873.84" font-family="Liberation Serif, Times New Roman, serif" font-size="36.5">0.6</text>
<line x1="900.00" y1="807.45" x2="918.00" y2="807.45" stroke="#000" stroke-width="3"/>
<text x="936.00" y="819.05" font-family="Liberation Serif, Times New Roman, serif" font-size="36.5">0.7</text>
<line x1="900.00" y1="752.66" x2="918.00" y2="752.66" stroke="#000" stroke-width="3"/>
<text x="936.00" y="764.26" font-family="Liberation Serif, Times New Roman, serif" font-size="36.5">0.8</text>
<line x1="900.00" y1="697.88" x2="918.00" y2="697.88" stroke="#000" stroke-width="3"/>
<text x="936.00" y="709.48" font-family="Liberation Serif, Times New Roman, serif" font-size="36.5">0.9</text>
<line x1="900.00" y1="643.09" x2="918.00" y2="643.09" stroke="#000" stroke-width="3"/>
<text x="936.00" y="654.69" font-family="Liberation Serif, Times New Roman, serif" font-size="36.5">1.0</text>
<line x1="900.00" y1="588.30" x2="918.00" y2="588.30" stroke="#000" stroke-width="3"/>
<text x="936.00" y="599.90" font-family="Liberation Serif, Times New Roman, serif" font-size="36.5">1.1</text>
<text x="116.5" y="633.8" fill="#fff" font-family="Liberation Sans, Arial, sans-serif" font-size="55">(c)</text>
<rect x="1091.40" y="583.50" width="764.80" height="446.40" fill="none" stroke="#000" stroke-width="3.2"/>
<line x1="1091.40" y1="1029.90" x2="1091.40" y2="1035.90" stroke="#000" stroke-width="3"/>
<line x1="1160.93" y1="1029.90" x2="1160.93" y2="1040.90" stroke="#000" stroke-width="3"/>
<line x1="1230.45" y1="1029.90" x2="1230.45" y2="1035.90" stroke="#000" stroke-width="3"/>
<line x1="1299.98" y1="1029.90" x2="1299.98" y2="1040.90" stroke="#000" stroke-width="3"/>
<line x1="1369.51" y1="1029.90" x2="1369.51" y2="1035.90" stroke="#000" stroke-width="3"/>
<line x1="1439.04" y1="1029.90" x2="1439.04" y2="1040.90" stroke="#000" stroke-width="3"/>
<line x1="1508.56" y1="1029.90" x2="1508.56" y2="1035.90" stroke="#000" stroke-width="3"/>
<line x1="1578.09" y1="1029.90" x2="1578.09" y2="1040.90" stroke="#000" stroke-width="3"/>
<line x1="1647.62" y1="1029.90" x2="1647.62" y2="1035.90" stroke="#000" stroke-width="3"/>
<line x1="1717.15" y1="1029.90" x2="1717.15" y2="1040.90" stroke="#000" stroke-width="3"/>
<line x1="1786.67" y1="1029.90" x2="1786.67" y2="1035.90" stroke="#000" stroke-width="3"/>
<line x1="1856.20" y1="1029.90" x2="1856.20" y2="1040.90" stroke="#000" stroke-width="3"/>
<line x1="1091.40" y1="1029.90" x2="1080.40" y2="1029.90" stroke="#000" stroke-width="3"/>
<line x1="1091.40" y1="992.70" x2="1085.90" y2="992.70" stroke="#000" stroke-width="3"/>
<line x1="1091.40" y1="955.50" x2="1080.40" y2="955.50" stroke="#000" stroke-width="3"/>
<line x1="1091.40" y1="918.30" x2="1085.90" y2="918.30" stroke="#000" stroke-width="3"/>
<line x1="1091.40" y1="881.10" x2="1080.40" y2="881.10" stroke="#000" stroke-width="3"/>
<line x1="1091.40" y1="843.90" x2="1085.90" y2="843.90" stroke="#000" stroke-width="3"/>
<line x1="1091.40" y1="806.70" x2="1080.40" y2="806.70" stroke="#000" stroke-width="3"/>
<line x1="1091.40" y1="769.50" x2="1085.90" y2="769.50" stroke="#000" stroke-width="3"/>
<line x1="1091.40" y1="732.30" x2="1080.40" y2="732.30" stroke="#000" stroke-width="3"/>
<line x1="1091.40" y1="695.10" x2="1085.90" y2="695.10" stroke="#000" stroke-width="3"/>
<line x1="1091.40" y1="657.90" x2="1080.40" y2="657.90" stroke="#000" stroke-width="3"/>
<line x1="1091.40" y1="620.70" x2="1085.90" y2="620.70" stroke="#000" stroke-width="3"/>
<line x1="1091.40" y1="583.50" x2="1080.40" y2="583.50" stroke="#000" stroke-width="3"/>
<text x="1160.93" y="1082.30" text-anchor="middle" font-family="Liberation Serif, Times New Roman, serif" font-size="42">2</text>
<text x="1299.98" y="1082.30" text-anchor="middle" font-family="Liberation Serif, Times New Roman, serif" font-size="42">4</text>
<text x="1439.04" y="1082.30" text-anchor="middle" font-family="Liberation Serif, Times New Roman, serif" font-size="42">6</text>
<text x="1578.09" y="1082.30" text-anchor="middle" font-family="Liberation Serif, Times New Roman, serif" font-size="42">8</text>
<text x="1717.15" y="1082.30" text-anchor="middle" font-family="Liberation Serif, Times New Roman, serif" font-size="42">10</text>
<text x="1856.20" y="1082.30" text-anchor="middle" font-family="Liberation Serif, Times New Roman, serif" font-size="42">12</text>
<text x="1070.50" y="1043.40" text-anchor="end" font-family="Liberation Serif, Times New Roman, serif" font-size="42">1</text>
<text x="1070.50" y="969.00" text-anchor="end" font-family="Liberation Serif, Times New Roman, serif" font-size="42">2</text>
<text x="1070.50" y="894.60" text-anchor="end" font-family="Liberation Serif, Times New Roman, serif" font-size="42">3</text>
<text x="1070.50" y="820.20" text-anchor="end" font-family="Liberation Serif, Times New Roman, serif" font-size="42">4</text>
<text x="1070.50" y="745.80" text-anchor="end" font-family="Liberation Serif, Times New Roman, serif" font-size="42">5</text>
<text x="1070.50" y="671.40" text-anchor="end" font-family="Liberation Serif, Times New Roman, serif" font-size="42">6</text>
<text x="1070.50" y="597.00" text-anchor="end" font-family="Liberation Serif, Times New Roman, serif" font-size="42">7</text>
<text x="1423.50" y="1107.10" font-family="Liberation Serif, Times New Roman, serif" font-size="42.5">x-axis/cm</text>
<text transform="translate(1029.00 807.70) rotate(-90)" text-anchor="middle" font-family="Liberation Serif, Times New Roman, serif" font-size="42.5">y-axis/cm</text>
<defs><linearGradient id="cb988_559" x1="0" y1="1" x2="0" y2="0"><stop offset="0.00" stop-color="#0000ff"/><stop offset="0.25" stop-color="#00ffff"/><stop offset="0.50" stop-color="#00ff00"/><stop offset="0.75" stop-color="#ffff00"/><stop offset="1.00" stop-color="#ff0000"/></linearGradient></defs>
<rect x="1889.90" y="588.30" width="27.60" height="438.30" fill="url(#cb988_559)"/>
<line x1="1888.50" y1="583.50" x2="1888.50" y2="1029.90" stroke="#000" stroke-width="3"/>
<rect x="1887.00" y="1026.40" width="30.50" height="3.50" fill="#000"/>
<line x1="1888.00" y1="983.16" x2="1906.00" y2="983.16" stroke="#000" stroke-width="3"/>
<text x="1924.00" y="994.76" font-family="Liberation Serif, Times New Roman, serif" font-size="36.5">600</text>
<line x1="1888.00" y1="926.76" x2="1906.00" y2="926.76" stroke="#000" stroke-width="3"/>
<text x="1924.00" y="938.36" font-family="Liberation Serif, Times New Roman, serif" font-size="36.5">800</text>
<line x1="1888.00" y1="870.35" x2="1906.00" y2="870.35" stroke="#000" stroke-width="3"/>
<text x="1924.00" y="881.95" font-family="Liberation Serif, Times New Roman, serif" font-size="36.5">1000</text>
<line x1="1888.00" y1="813.94" x2="1906.00" y2="813.94" stroke="#000" stroke-width="3"/>
<text x="1924.00" y="825.54" font-family="Liberation Serif, Times New Roman, serif" font-size="36.5">1200</text>
<line x1="1888.00" y1="757.53" x2="1906.00" y2="757.53" stroke="#000" stroke-width="3"/>
<text x="1924.00" y="769.13" font-family="Liberation Serif, Times New Roman, serif" font-size="36.5">1400</text>
<line x1="1888.00" y1="701.12" x2="1906.00" y2="701.12" stroke="#000" stroke-width="3"/>
<text x="1924.00" y="712.72" font-family="Liberation Serif, Times New Roman, serif" font-size="36.5">1600</text>
<line x1="1888.00" y1="644.71" x2="1906.00" y2="644.71" stroke="#000" stroke-width="3"/>
<text x="1924.00" y="656.31" font-family="Liberation Serif, Times New Roman, serif" font-size="36.5">1800</text>
<line x1="1888.00" y1="588.30" x2="1906.00" y2="588.30" stroke="#000" stroke-width="3"/>
<text x="1924.00" y="599.90" font-family="Liberation Serif, Times New Roman, serif" font-size="36.5">2000</text>
<text x="1104.5" y="633.8" fill="#fff" font-family="Liberation Sans, Arial, sans-serif" font-size="55">(d)</text>
</svg></body></html>
